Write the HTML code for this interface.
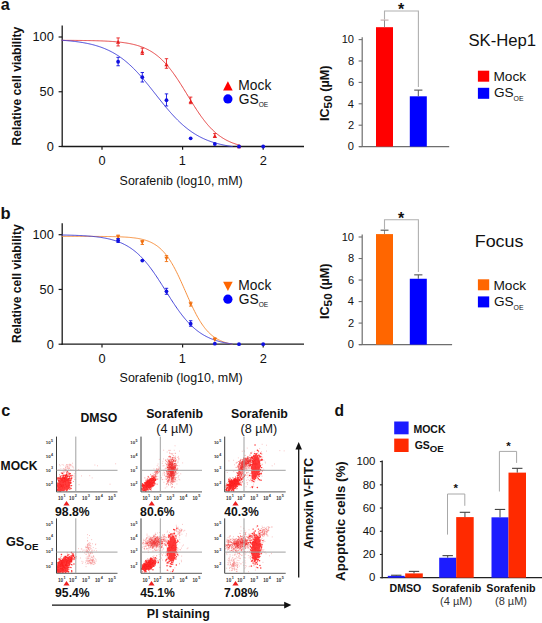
<!DOCTYPE html>
<html><head><meta charset="utf-8"><style>
html,body{margin:0;padding:0;background:#fff;}
svg{display:block;}
text{font-family:"Liberation Sans",sans-serif;}
</style></head><body>
<svg width="542" height="623" viewBox="0 0 542 623">
<defs><filter id="sb" x="-5%" y="-5%" width="110%" height="110%"><feGaussianBlur stdDeviation="0.35"/></filter></defs>
<rect width="542" height="623" fill="#fff"/>
<text x="0.83" y="9.70" font-size="16.20" font-weight="bold" fill="#111">a</text>
<text x="0.51" y="218.50" font-size="16.50" font-weight="bold" fill="#111">b</text>
<text x="1.27" y="416.00" font-size="16.20" font-weight="bold" fill="#111">c</text>
<text x="334.46" y="415.70" font-size="15.60" font-weight="bold" fill="#111">d</text>
<line x1="62.20" y1="25.60" x2="62.20" y2="147.10" stroke="#1a1a1a" stroke-width="1.3"/>
<line x1="61.60" y1="146.50" x2="304.00" y2="146.50" stroke="#1a1a1a" stroke-width="1.3"/>
<line x1="58.60" y1="37.00" x2="62.20" y2="37.00" stroke="#1a1a1a" stroke-width="1.2"/>
<text x="32.44" y="41.40" font-size="12.80" fill="#111">100</text>
<line x1="58.60" y1="91.75" x2="62.20" y2="91.75" stroke="#1a1a1a" stroke-width="1.2"/>
<text x="39.56" y="96.15" font-size="12.80" fill="#111">50</text>
<line x1="58.60" y1="146.50" x2="62.20" y2="146.50" stroke="#1a1a1a" stroke-width="1.2"/>
<text x="46.68" y="150.90" font-size="12.80" fill="#111">0</text>
<line x1="102.00" y1="146.50" x2="102.00" y2="149.70" stroke="#1a1a1a" stroke-width="1.2"/>
<text x="98.44" y="165.00" font-size="12.80" fill="#111">0</text>
<line x1="182.60" y1="146.50" x2="182.60" y2="149.70" stroke="#1a1a1a" stroke-width="1.2"/>
<text x="178.87" y="165.00" font-size="12.80" fill="#111">1</text>
<line x1="263.20" y1="146.50" x2="263.20" y2="149.70" stroke="#1a1a1a" stroke-width="1.2"/>
<text x="259.64" y="165.00" font-size="12.80" fill="#111">2</text>
<text x="119.62" y="184.50" font-size="12.45" fill="#111">Sorafenib (log10, mM)</text>
<text transform="translate(20.90,85.60) rotate(-90)" x="-59.80" y="0" font-size="12.15" font-weight="bold" fill="#111">Relative cell viability</text>
<polyline points="61.70,40.34 62.51,40.35 63.31,40.35 64.12,40.35 64.92,40.36 65.73,40.36 66.54,40.36 67.34,40.37 68.15,40.37 68.95,40.37 69.76,40.38 70.57,40.38 71.37,40.39 72.18,40.39 72.98,40.40 73.79,40.40 74.60,40.41 75.40,40.42 76.21,40.42 77.01,40.43 77.82,40.44 78.63,40.44 79.43,40.45 80.24,40.46 81.04,40.47 81.85,40.48 82.66,40.49 83.46,40.50 84.27,40.51 85.07,40.52 85.88,40.53 86.69,40.54 87.49,40.56 88.30,40.57 89.10,40.58 89.91,40.60 90.72,40.61 91.52,40.63 92.33,40.65 93.13,40.67 93.94,40.68 94.75,40.70 95.55,40.73 96.36,40.75 97.16,40.77 97.97,40.79 98.78,40.82 99.58,40.84 100.39,40.87 101.19,40.90 102.00,40.93 102.81,40.96 103.61,41.00 104.42,41.03 105.22,41.07 106.03,41.11 106.84,41.15 107.64,41.19 108.45,41.23 109.25,41.28 110.06,41.33 110.87,41.38 111.67,41.44 112.48,41.49 113.28,41.55 114.09,41.61 114.90,41.68 115.70,41.75 116.51,41.82 117.31,41.89 118.12,41.97 118.93,42.05 119.73,42.14 120.54,42.23 121.34,42.32 122.15,42.42 122.96,42.53 123.76,42.63 124.57,42.75 125.37,42.87 126.18,42.99 126.99,43.12 127.79,43.26 128.60,43.40 129.40,43.55 130.21,43.71 131.02,43.87 131.82,44.05 132.63,44.23 133.43,44.41 134.24,44.61 135.05,44.81 135.85,45.03 136.66,45.25 137.46,45.49 138.27,45.73 139.08,45.99 139.88,46.26 140.69,46.54 141.49,46.83 142.30,47.13 143.11,47.45 143.91,47.78 144.72,48.12 145.52,48.48 146.33,48.86 147.14,49.25 147.94,49.65 148.75,50.07 149.55,50.51 150.36,50.97 151.17,51.45 151.97,51.94 152.78,52.45 153.58,52.99 154.39,53.54 155.20,54.11 156.00,54.71 156.81,55.33 157.61,55.96 158.42,56.62 159.23,57.31 160.03,58.01 160.84,58.75 161.64,59.50 162.45,60.28 163.26,61.08 164.06,61.91 164.87,62.76 165.67,63.63 166.48,64.53 167.29,65.46 168.09,66.41 168.90,67.38 169.70,68.38 170.51,69.40 171.32,70.45 172.12,71.52 172.93,72.61 173.73,73.72 174.54,74.85 175.35,76.01 176.15,77.18 176.96,78.37 177.76,79.58 178.57,80.81 179.38,82.05 180.18,83.31 180.99,84.58 181.79,85.86 182.60,87.15 183.41,88.45 184.21,89.76 185.02,91.07 185.82,92.39 186.63,93.71 187.44,95.04 188.24,96.36 189.05,97.68 189.85,99.00 190.66,100.31 191.47,101.62 192.27,102.92 193.08,104.21 193.88,105.49 194.69,106.76 195.50,108.02 196.30,109.26 197.11,110.49 197.91,111.70 198.72,112.89 199.53,114.06 200.33,115.22 201.14,116.35 201.94,117.46 202.75,118.55 203.56,119.62 204.36,120.67 205.17,121.69 205.97,122.69 206.78,123.66 207.59,124.61 208.39,125.54 209.20,126.44 210.00,127.31 210.81,128.16 211.62,128.99 212.42,129.79 213.23,130.57 214.03,131.32 214.84,132.06 215.65,132.76 216.45,133.45 217.26,134.11 218.06,134.74 218.87,135.36 219.68,135.96 220.48,136.53 221.29,137.08 222.09,137.62 222.90,138.13 223.71,138.62 224.51,139.10 225.32,139.56 226.12,140.00 226.93,140.42 227.74,140.82 228.54,141.21 229.35,141.59 230.15,141.95 230.96,142.29 231.77,142.62 232.57,142.94 233.38,143.24 234.18,143.53 234.99,143.81 235.80,144.08 236.60,144.34 237.41,144.58 238.21,144.82 239.02,145.04 239.83,145.26 240.63,145.46" fill="none" stroke="#e43a3a" stroke-width="0.95"/>
<polyline points="61.70,40.25 62.51,40.31 63.31,40.36 64.12,40.42 64.92,40.48 65.73,40.55 66.54,40.61 67.34,40.68 68.15,40.75 68.95,40.83 69.76,40.90 70.57,40.98 71.37,41.07 72.18,41.15 72.98,41.24 73.79,41.33 74.60,41.42 75.40,41.52 76.21,41.62 77.01,41.73 77.82,41.84 78.63,41.95 79.43,42.07 80.24,42.19 81.04,42.31 81.85,42.44 82.66,42.57 83.46,42.71 84.27,42.85 85.07,43.00 85.88,43.16 86.69,43.31 87.49,43.48 88.30,43.65 89.10,43.82 89.91,44.00 90.72,44.19 91.52,44.39 92.33,44.59 93.13,44.79 93.94,45.01 94.75,45.23 95.55,45.46 96.36,45.69 97.16,45.94 97.97,46.19 98.78,46.45 99.58,46.72 100.39,46.99 101.19,47.28 102.00,47.57 102.81,47.88 103.61,48.19 104.42,48.51 105.22,48.85 106.03,49.19 106.84,49.54 107.64,49.91 108.45,50.28 109.25,50.67 110.06,51.07 110.87,51.48 111.67,51.90 112.48,52.33 113.28,52.77 114.09,53.23 114.90,53.70 115.70,54.19 116.51,54.68 117.31,55.19 118.12,55.71 118.93,56.25 119.73,56.80 120.54,57.36 121.34,57.94 122.15,58.53 122.96,59.14 123.76,59.76 124.57,60.39 125.37,61.04 126.18,61.71 126.99,62.38 127.79,63.08 128.60,63.78 129.40,64.51 130.21,65.24 131.02,65.99 131.82,66.76 132.63,67.53 133.43,68.33 134.24,69.13 135.05,69.95 135.85,70.79 136.66,71.63 137.46,72.49 138.27,73.36 139.08,74.25 139.88,75.14 140.69,76.05 141.49,76.97 142.30,77.90 143.11,78.83 143.91,79.78 144.72,80.74 145.52,81.71 146.33,82.68 147.14,83.66 147.94,84.65 148.75,85.65 149.55,86.65 150.36,87.65 151.17,88.66 151.97,89.68 152.78,90.69 153.58,91.71 154.39,92.73 155.20,93.76 156.00,94.78 156.81,95.80 157.61,96.82 158.42,97.84 159.23,98.86 160.03,99.87 160.84,100.88 161.64,101.89 162.45,102.89 163.26,103.89 164.06,104.87 164.87,105.86 165.67,106.83 166.48,107.80 167.29,108.75 168.09,109.70 168.90,110.64 169.70,111.57 170.51,112.49 171.32,113.39 172.12,114.29 172.93,115.17 173.73,116.05 174.54,116.90 175.35,117.75 176.15,118.58 176.96,119.40 177.76,120.21 178.57,121.00 179.38,121.78 180.18,122.54 180.99,123.30 181.79,124.03 182.60,124.75 183.41,125.46 184.21,126.15 185.02,126.83 185.82,127.49 186.63,128.14 187.44,128.78 188.24,129.40 189.05,130.00 189.85,130.60 190.66,131.17 191.47,131.74 192.27,132.29 193.08,132.82 193.88,133.35 194.69,133.86 195.50,134.35 196.30,134.83 197.11,135.31 197.91,135.76 198.72,136.21 199.53,136.64 200.33,137.06 201.14,137.47 201.94,137.87 202.75,138.25 203.56,138.63 204.36,138.99 205.17,139.35 205.97,139.69 206.78,140.02 207.59,140.35 208.39,140.66 209.20,140.96 210.00,141.26 210.81,141.54 211.62,141.82 212.42,142.09 213.23,142.35 214.03,142.60 214.84,142.84 215.65,143.08 216.45,143.31 217.26,143.53 218.06,143.74 218.87,143.95 219.68,144.15 220.48,144.34 221.29,144.53 222.09,144.71 222.90,144.89 223.71,145.06 224.51,145.22 225.32,145.38 226.12,145.53 226.93,145.68 227.74,145.83 228.54,145.96 229.35,146.10 230.15,146.23 230.96,146.35 231.77,146.47 232.57,146.50" fill="none" stroke="#3a3ad6" stroke-width="0.95"/>
<line x1="118.12" y1="37.93" x2="118.12" y2="45.93" stroke="#e82020" stroke-width="0.9"/>
<line x1="116.42" y1="37.93" x2="119.82" y2="37.93" stroke="#e82020" stroke-width="0.9"/>
<line x1="116.42" y1="45.93" x2="119.82" y2="45.93" stroke="#e82020" stroke-width="0.9"/>
<path d="M116.02,43.63L120.22,43.63L118.12,39.83Z" fill="#e82020"/>
<line x1="142.30" y1="48.09" x2="142.30" y2="54.49" stroke="#e82020" stroke-width="0.9"/>
<line x1="140.60" y1="48.09" x2="144.00" y2="48.09" stroke="#e82020" stroke-width="0.9"/>
<line x1="140.60" y1="54.49" x2="144.00" y2="54.49" stroke="#e82020" stroke-width="0.9"/>
<path d="M140.20,53.59L144.40,53.59L142.30,49.79Z" fill="#e82020"/>
<line x1="166.48" y1="58.69" x2="166.48" y2="68.29" stroke="#e82020" stroke-width="0.9"/>
<line x1="164.78" y1="58.69" x2="168.18" y2="58.69" stroke="#e82020" stroke-width="0.9"/>
<line x1="164.78" y1="68.29" x2="168.18" y2="68.29" stroke="#e82020" stroke-width="0.9"/>
<path d="M164.38,66.29L168.58,66.29L166.48,62.49Z" fill="#e82020"/>
<line x1="190.66" y1="97.10" x2="190.66" y2="103.70" stroke="#e82020" stroke-width="0.9"/>
<line x1="188.96" y1="97.10" x2="192.36" y2="97.10" stroke="#e82020" stroke-width="0.9"/>
<line x1="188.96" y1="103.70" x2="192.36" y2="103.70" stroke="#e82020" stroke-width="0.9"/>
<path d="M188.56,103.20L192.76,103.20L190.66,99.40Z" fill="#e82020"/>
<line x1="214.84" y1="133.59" x2="214.84" y2="137.49" stroke="#e82020" stroke-width="0.9"/>
<line x1="213.14" y1="133.59" x2="216.54" y2="133.59" stroke="#e82020" stroke-width="0.9"/>
<line x1="213.14" y1="137.49" x2="216.54" y2="137.49" stroke="#e82020" stroke-width="0.9"/>
<path d="M212.74,137.69L216.94,137.69L214.84,133.89Z" fill="#e82020"/>
<path d="M236.92,148.20L241.12,148.20L239.02,144.40Z" fill="#e82020"/>
<line x1="118.12" y1="57.35" x2="118.12" y2="65.75" stroke="#1010e0" stroke-width="0.9"/>
<line x1="116.42" y1="57.35" x2="119.82" y2="57.35" stroke="#1010e0" stroke-width="0.9"/>
<line x1="116.42" y1="65.75" x2="119.82" y2="65.75" stroke="#1010e0" stroke-width="0.9"/>
<circle cx="118.12" cy="61.75" r="1.9" fill="#1010e0"/>
<line x1="142.30" y1="72.49" x2="142.30" y2="81.99" stroke="#1010e0" stroke-width="0.9"/>
<line x1="140.60" y1="72.49" x2="144.00" y2="72.49" stroke="#1010e0" stroke-width="0.9"/>
<line x1="140.60" y1="81.99" x2="144.00" y2="81.99" stroke="#1010e0" stroke-width="0.9"/>
<circle cx="142.30" cy="77.19" r="1.9" fill="#1010e0"/>
<line x1="166.48" y1="93.88" x2="166.48" y2="105.98" stroke="#1010e0" stroke-width="0.9"/>
<line x1="164.78" y1="93.88" x2="168.18" y2="93.88" stroke="#1010e0" stroke-width="0.9"/>
<line x1="164.78" y1="105.98" x2="168.18" y2="105.98" stroke="#1010e0" stroke-width="0.9"/>
<circle cx="166.48" cy="100.18" r="1.9" fill="#1010e0"/>
<circle cx="190.66" cy="138.29" r="1.9" fill="#1010e0"/>
<circle cx="214.84" cy="143.98" r="1.9" fill="#1010e0"/>
<circle cx="239.02" cy="146.50" r="1.9" fill="#1010e0"/>
<circle cx="263.20" cy="146.50" r="1.9" fill="#1010e0"/>
<path d="M223.1,90.4L232.7,90.4L227.9,81.2Z" fill="#ff0000"/>
<circle cx="227.9" cy="98.9" r="4.6" fill="#0000ff"/>
<text x="238.37" y="89.70" font-size="13.80" fill="#111">Mock</text>
<text x="238.71" y="103.90" font-size="13.80" fill="#111">GS</text>
<text x="258.69" y="107.00" font-size="6.60" fill="#111">OE</text>
<line x1="62.20" y1="223.30" x2="62.20" y2="344.80" stroke="#1a1a1a" stroke-width="1.3"/>
<line x1="61.60" y1="344.20" x2="304.00" y2="344.20" stroke="#1a1a1a" stroke-width="1.3"/>
<line x1="58.60" y1="234.70" x2="62.20" y2="234.70" stroke="#1a1a1a" stroke-width="1.2"/>
<text x="32.44" y="239.10" font-size="12.80" fill="#111">100</text>
<line x1="58.60" y1="289.45" x2="62.20" y2="289.45" stroke="#1a1a1a" stroke-width="1.2"/>
<text x="39.56" y="293.85" font-size="12.80" fill="#111">50</text>
<line x1="58.60" y1="344.20" x2="62.20" y2="344.20" stroke="#1a1a1a" stroke-width="1.2"/>
<text x="46.68" y="348.60" font-size="12.80" fill="#111">0</text>
<line x1="102.00" y1="344.20" x2="102.00" y2="347.40" stroke="#1a1a1a" stroke-width="1.2"/>
<text x="98.44" y="362.70" font-size="12.80" fill="#111">0</text>
<line x1="182.60" y1="344.20" x2="182.60" y2="347.40" stroke="#1a1a1a" stroke-width="1.2"/>
<text x="178.87" y="362.70" font-size="12.80" fill="#111">1</text>
<line x1="263.20" y1="344.20" x2="263.20" y2="347.40" stroke="#1a1a1a" stroke-width="1.2"/>
<text x="259.64" y="362.70" font-size="12.80" fill="#111">2</text>
<text x="119.62" y="382.20" font-size="12.45" fill="#111">Sorafenib (log10, mM)</text>
<text transform="translate(20.90,283.30) rotate(-90)" x="-59.80" y="0" font-size="12.15" font-weight="bold" fill="#111">Relative cell viability</text>
<polyline points="61.70,236.35 62.51,236.35 63.31,236.35 64.12,236.35 64.92,236.35 65.73,236.35 66.54,236.35 67.34,236.35 68.15,236.35 68.95,236.35 69.76,236.35 70.57,236.35 71.37,236.35 72.18,236.35 72.98,236.35 73.79,236.35 74.60,236.35 75.40,236.35 76.21,236.36 77.01,236.36 77.82,236.36 78.63,236.36 79.43,236.36 80.24,236.36 81.04,236.36 81.85,236.36 82.66,236.36 83.46,236.37 84.27,236.37 85.07,236.37 85.88,236.37 86.69,236.37 87.49,236.38 88.30,236.38 89.10,236.38 89.91,236.38 90.72,236.39 91.52,236.39 92.33,236.39 93.13,236.40 93.94,236.40 94.75,236.40 95.55,236.41 96.36,236.41 97.16,236.42 97.97,236.42 98.78,236.43 99.58,236.43 100.39,236.44 101.19,236.44 102.00,236.45 102.81,236.46 103.61,236.47 104.42,236.48 105.22,236.49 106.03,236.50 106.84,236.51 107.64,236.52 108.45,236.53 109.25,236.54 110.06,236.56 110.87,236.57 111.67,236.59 112.48,236.60 113.28,236.62 114.09,236.64 114.90,236.66 115.70,236.68 116.51,236.71 117.31,236.73 118.12,236.76 118.93,236.79 119.73,236.82 120.54,236.85 121.34,236.88 122.15,236.92 122.96,236.96 123.76,237.00 124.57,237.05 125.37,237.10 126.18,237.15 126.99,237.20 127.79,237.26 128.60,237.33 129.40,237.39 130.21,237.47 131.02,237.54 131.82,237.62 132.63,237.71 133.43,237.81 134.24,237.91 135.05,238.01 135.85,238.12 136.66,238.25 137.46,238.37 138.27,238.51 139.08,238.66 139.88,238.82 140.69,238.98 141.49,239.16 142.30,239.35 143.11,239.55 143.91,239.77 144.72,239.99 145.52,240.24 146.33,240.50 147.14,240.77 147.94,241.06 148.75,241.37 149.55,241.71 150.36,242.06 151.17,242.43 151.97,242.82 152.78,243.24 153.58,243.69 154.39,244.16 155.20,244.66 156.00,245.19 156.81,245.75 157.61,246.34 158.42,246.96 159.23,247.62 160.03,248.31 160.84,249.04 161.64,249.81 162.45,250.62 163.26,251.47 164.06,252.37 164.87,253.30 165.67,254.28 166.48,255.31 167.29,256.38 168.09,257.50 168.90,258.66 169.70,259.87 170.51,261.13 171.32,262.44 172.12,263.79 172.93,265.19 173.73,266.63 174.54,268.12 175.35,269.65 176.15,271.22 176.96,272.83 177.76,274.48 178.57,276.16 179.38,277.87 180.18,279.61 180.99,281.37 181.79,283.16 182.60,284.97 183.41,286.78 184.21,288.61 185.02,290.45 185.82,292.28 186.63,294.12 187.44,295.95 188.24,297.77 189.05,299.57 189.85,301.36 190.66,303.12 191.47,304.86 192.27,306.58 193.08,308.26 193.88,309.90 194.69,311.51 195.50,313.08 196.30,314.61 197.11,316.10 197.91,317.55 198.72,318.94 199.53,320.30 200.33,321.60 201.14,322.86 201.94,324.07 202.75,325.24 203.56,326.35 204.36,327.43 205.17,328.45 205.97,329.43 206.78,330.37 207.59,331.26 208.39,332.11 209.20,332.92 210.00,333.69 210.81,334.42 211.62,335.11 212.42,335.77 213.23,336.40 214.03,336.99 214.84,337.55 215.65,338.07 216.45,338.57 217.26,339.04 218.06,339.49 218.87,339.91 219.68,340.30 220.48,340.68 221.29,341.03 222.09,341.36 222.90,341.67 223.71,341.96 224.51,342.24 225.32,342.50 226.12,342.74 226.93,342.97 227.74,343.18 228.54,343.38 229.35,343.57 230.15,343.75 230.96,343.92 231.77,344.07 232.57,344.20" fill="none" stroke="#f58a35" stroke-width="0.95"/>
<polyline points="61.70,235.00 62.51,235.01 63.31,235.02 64.12,235.04 64.92,235.06 65.73,235.07 66.54,235.09 67.34,235.11 68.15,235.13 68.95,235.15 69.76,235.17 70.57,235.19 71.37,235.21 72.18,235.24 72.98,235.26 73.79,235.29 74.60,235.32 75.40,235.34 76.21,235.38 77.01,235.41 77.82,235.44 78.63,235.47 79.43,235.51 80.24,235.55 81.04,235.59 81.85,235.63 82.66,235.67 83.46,235.72 84.27,235.77 85.07,235.82 85.88,235.87 86.69,235.92 87.49,235.98 88.30,236.04 89.10,236.10 89.91,236.17 90.72,236.23 91.52,236.31 92.33,236.38 93.13,236.46 93.94,236.54 94.75,236.63 95.55,236.71 96.36,236.81 97.16,236.90 97.97,237.01 98.78,237.11 99.58,237.22 100.39,237.34 101.19,237.46 102.00,237.59 102.81,237.72 103.61,237.86 104.42,238.00 105.22,238.15 106.03,238.31 106.84,238.48 107.64,238.65 108.45,238.83 109.25,239.01 110.06,239.21 110.87,239.41 111.67,239.63 112.48,239.85 113.28,240.08 114.09,240.32 114.90,240.57 115.70,240.83 116.51,241.10 117.31,241.39 118.12,241.68 118.93,241.99 119.73,242.31 120.54,242.64 121.34,242.99 122.15,243.35 122.96,243.72 123.76,244.11 124.57,244.52 125.37,244.94 126.18,245.38 126.99,245.83 127.79,246.30 128.60,246.79 129.40,247.29 130.21,247.81 131.02,248.36 131.82,248.92 132.63,249.50 133.43,250.10 134.24,250.72 135.05,251.37 135.85,252.03 136.66,252.71 137.46,253.42 138.27,254.15 139.08,254.90 139.88,255.67 140.69,256.47 141.49,257.29 142.30,258.13 143.11,258.99 143.91,259.88 144.72,260.79 145.52,261.72 146.33,262.68 147.14,263.65 147.94,264.65 148.75,265.67 149.55,266.71 150.36,267.78 151.17,268.86 151.97,269.96 152.78,271.08 153.58,272.22 154.39,273.37 155.20,274.55 156.00,275.73 156.81,276.94 157.61,278.15 158.42,279.38 159.23,280.62 160.03,281.87 160.84,283.13 161.64,284.40 162.45,285.67 163.26,286.95 164.06,288.23 164.87,289.52 165.67,290.80 166.48,292.09 167.29,293.37 168.09,294.65 168.90,295.93 169.70,297.20 170.51,298.46 171.32,299.72 172.12,300.97 172.93,302.20 173.73,303.43 174.54,304.64 175.35,305.83 176.15,307.01 176.96,308.18 177.76,309.33 178.57,310.46 179.38,311.57 180.18,312.67 180.99,313.74 181.79,314.80 182.60,315.83 183.41,316.84 184.21,317.83 185.02,318.80 185.82,319.74 186.63,320.67 187.44,321.57 188.24,322.44 189.05,323.30 189.85,324.13 190.66,324.94 191.47,325.73 192.27,326.49 193.08,327.23 193.88,327.95 194.69,328.65 195.50,329.33 196.30,329.98 197.11,330.62 197.91,331.23 198.72,331.82 199.53,332.40 200.33,332.95 201.14,333.49 201.94,334.00 202.75,334.50 203.56,334.98 204.36,335.44 205.17,335.89 205.97,336.32 206.78,336.74 207.59,337.13 208.39,337.52 209.20,337.89 210.00,338.24 210.81,338.58 211.62,338.91 212.42,339.22 213.23,339.53 214.03,339.82 214.84,340.10 215.65,340.37 216.45,340.62 217.26,340.87 218.06,341.11 218.87,341.33 219.68,341.55 220.48,341.76 221.29,341.96 222.09,342.15 222.90,342.34 223.71,342.51 224.51,342.68 225.32,342.84 226.12,343.00 226.93,343.15 227.74,343.29 228.54,343.42 229.35,343.55 230.15,343.68 230.96,343.80 231.77,343.91 232.57,344.02" fill="none" stroke="#3a3ad6" stroke-width="0.95"/>
<line x1="118.12" y1="235.09" x2="118.12" y2="238.69" stroke="#f07010" stroke-width="0.9"/>
<line x1="116.42" y1="235.09" x2="119.82" y2="235.09" stroke="#f07010" stroke-width="0.9"/>
<line x1="116.42" y1="238.69" x2="119.82" y2="238.69" stroke="#f07010" stroke-width="0.9"/>
<path d="M116.02,235.19L120.22,235.19L118.12,238.99Z" fill="#f07010"/>
<line x1="142.30" y1="240.47" x2="142.30" y2="244.47" stroke="#f07010" stroke-width="0.9"/>
<line x1="140.60" y1="240.47" x2="144.00" y2="240.47" stroke="#f07010" stroke-width="0.9"/>
<line x1="140.60" y1="244.47" x2="144.00" y2="244.47" stroke="#f07010" stroke-width="0.9"/>
<path d="M140.20,240.77L144.40,240.77L142.30,244.57Z" fill="#f07010"/>
<line x1="166.48" y1="255.57" x2="166.48" y2="261.57" stroke="#f07010" stroke-width="0.9"/>
<line x1="164.78" y1="255.57" x2="168.18" y2="255.57" stroke="#f07010" stroke-width="0.9"/>
<line x1="164.78" y1="261.57" x2="168.18" y2="261.57" stroke="#f07010" stroke-width="0.9"/>
<path d="M164.38,256.87L168.58,256.87L166.48,260.67Z" fill="#f07010"/>
<line x1="190.66" y1="302.12" x2="190.66" y2="306.12" stroke="#f07010" stroke-width="0.9"/>
<line x1="188.96" y1="302.12" x2="192.36" y2="302.12" stroke="#f07010" stroke-width="0.9"/>
<line x1="188.96" y1="306.12" x2="192.36" y2="306.12" stroke="#f07010" stroke-width="0.9"/>
<path d="M188.56,302.42L192.76,302.42L190.66,306.22Z" fill="#f07010"/>
<line x1="214.84" y1="337.82" x2="214.84" y2="339.82" stroke="#f07010" stroke-width="0.9"/>
<line x1="213.14" y1="337.82" x2="216.54" y2="337.82" stroke="#f07010" stroke-width="0.9"/>
<path d="M212.74,338.12L216.94,338.12L214.84,341.92Z" fill="#f07010"/>
<line x1="118.12" y1="238.50" x2="118.12" y2="242.50" stroke="#1010e0" stroke-width="0.9"/>
<line x1="116.42" y1="238.50" x2="119.82" y2="238.50" stroke="#1010e0" stroke-width="0.9"/>
<line x1="116.42" y1="242.50" x2="119.82" y2="242.50" stroke="#1010e0" stroke-width="0.9"/>
<circle cx="118.12" cy="240.50" r="1.9" fill="#1010e0"/>
<circle cx="142.30" cy="260.54" r="1.9" fill="#1010e0"/>
<line x1="166.48" y1="288.31" x2="166.48" y2="294.31" stroke="#1010e0" stroke-width="0.9"/>
<line x1="164.78" y1="288.31" x2="168.18" y2="288.31" stroke="#1010e0" stroke-width="0.9"/>
<line x1="164.78" y1="294.31" x2="168.18" y2="294.31" stroke="#1010e0" stroke-width="0.9"/>
<circle cx="166.48" cy="291.31" r="1.9" fill="#1010e0"/>
<line x1="190.66" y1="320.72" x2="190.66" y2="326.22" stroke="#1010e0" stroke-width="0.9"/>
<line x1="188.96" y1="320.72" x2="192.36" y2="320.72" stroke="#1010e0" stroke-width="0.9"/>
<line x1="188.96" y1="326.22" x2="192.36" y2="326.22" stroke="#1010e0" stroke-width="0.9"/>
<circle cx="190.66" cy="323.72" r="1.9" fill="#1010e0"/>
<circle cx="214.84" cy="343.65" r="1.9" fill="#1010e0"/>
<circle cx="239.02" cy="344.20" r="1.9" fill="#1010e0"/>
<circle cx="263.20" cy="344.20" r="1.9" fill="#1010e0"/>
<path d="M223.1,281.70000000000005L232.7,281.70000000000005L227.9,291.1Z" fill="#ff6600"/>
<circle cx="227.9" cy="299.20000000000005" r="4.6" fill="#0000ff"/>
<text x="238.37" y="290.00" font-size="13.80" fill="#111">Mock</text>
<text x="238.71" y="304.20" font-size="13.80" fill="#111">GS</text>
<text x="258.69" y="307.30" font-size="6.60" fill="#111">OE</text>
<line x1="362.20" y1="37.20" x2="362.20" y2="147.10" stroke="#6e6e6e" stroke-width="1.2"/>
<line x1="359.00" y1="146.60" x2="449.20" y2="146.60" stroke="#6e6e6e" stroke-width="1.3"/>
<line x1="358.60" y1="146.60" x2="362.10" y2="146.60" stroke="#6e6e6e" stroke-width="1.1"/>
<text x="347.86" y="150.40" font-size="11.10" fill="#111">0</text>
<line x1="358.60" y1="125.20" x2="362.10" y2="125.20" stroke="#6e6e6e" stroke-width="1.1"/>
<text x="347.98" y="129.00" font-size="11.10" fill="#111">2</text>
<line x1="358.60" y1="103.80" x2="362.10" y2="103.80" stroke="#6e6e6e" stroke-width="1.1"/>
<text x="347.75" y="107.60" font-size="11.10" fill="#111">4</text>
<line x1="358.60" y1="82.40" x2="362.10" y2="82.40" stroke="#6e6e6e" stroke-width="1.1"/>
<text x="347.91" y="86.20" font-size="11.10" fill="#111">6</text>
<line x1="358.60" y1="61.00" x2="362.10" y2="61.00" stroke="#6e6e6e" stroke-width="1.1"/>
<text x="347.91" y="64.80" font-size="11.10" fill="#111">8</text>
<line x1="358.60" y1="39.60" x2="362.10" y2="39.60" stroke="#6e6e6e" stroke-width="1.1"/>
<text x="341.69" y="43.40" font-size="11.10" fill="#111">10</text>
<rect x="376.00" y="27.19" width="17.00" height="119.41" fill="#ff0000"/>
<rect x="409.80" y="96.31" width="17.00" height="50.29" fill="#0000ff"/>
<line x1="384.50" y1="27.19" x2="384.50" y2="20.09" stroke="#8a8a8a" stroke-width="1"/>
<line x1="380.60" y1="20.09" x2="388.50" y2="20.09" stroke="#c0a8a8" stroke-width="1.1"/>
<line x1="418.30" y1="96.31" x2="418.30" y2="90.11" stroke="#555" stroke-width="1"/>
<line x1="414.20" y1="90.11" x2="422.40" y2="90.11" stroke="#555" stroke-width="1.1"/>
<path d="M384.5,19.59V11.00H418.4V87.00" fill="none" stroke="#b0b0b0" stroke-width="1.1"/>
<text x="397.97" y="14.90" font-size="16.00" font-weight="bold" fill="#111">*</text>
<text transform="translate(329.0,94.10) rotate(-90)" x="-27.0" font-size="12.7" font-weight="bold" fill="#111">IC<tspan dy="3" font-size="11.8">50</tspan><tspan dy="-3"> (µM)</tspan></text>
<text x="468.44" y="45.70" font-size="16.70" fill="#111">SK-Hep1</text>
<rect x="477.90" y="70.70" width="11.30" height="11.00" fill="#ff0000"/>
<rect x="477.90" y="87.80" width="11.30" height="11.00" fill="#0000ff"/>
<text x="493.48" y="81.30" font-size="13.70" fill="#111">Mock</text>
<text x="493.92" y="97.10" font-size="13.60" fill="#111">GS</text>
<text x="513.57" y="100.90" font-size="6.90" fill="#111">OE</text>
<line x1="362.20" y1="234.60" x2="362.20" y2="345.10" stroke="#6e6e6e" stroke-width="1.2"/>
<line x1="359.00" y1="344.60" x2="452.10" y2="344.60" stroke="#6e6e6e" stroke-width="1.3"/>
<line x1="358.60" y1="344.60" x2="362.10" y2="344.60" stroke="#6e6e6e" stroke-width="1.1"/>
<text x="347.86" y="348.40" font-size="11.10" fill="#111">0</text>
<line x1="358.60" y1="323.08" x2="362.10" y2="323.08" stroke="#6e6e6e" stroke-width="1.1"/>
<text x="347.98" y="326.88" font-size="11.10" fill="#111">2</text>
<line x1="358.60" y1="301.56" x2="362.10" y2="301.56" stroke="#6e6e6e" stroke-width="1.1"/>
<text x="347.75" y="305.36" font-size="11.10" fill="#111">4</text>
<line x1="358.60" y1="280.04" x2="362.10" y2="280.04" stroke="#6e6e6e" stroke-width="1.1"/>
<text x="347.91" y="283.84" font-size="11.10" fill="#111">6</text>
<line x1="358.60" y1="258.52" x2="362.10" y2="258.52" stroke="#6e6e6e" stroke-width="1.1"/>
<text x="347.91" y="262.32" font-size="11.10" fill="#111">8</text>
<line x1="358.60" y1="237.00" x2="362.10" y2="237.00" stroke="#6e6e6e" stroke-width="1.1"/>
<text x="341.69" y="240.80" font-size="11.10" fill="#111">10</text>
<rect x="376.00" y="234.09" width="17.00" height="110.51" fill="#ff6600"/>
<rect x="409.80" y="278.75" width="17.00" height="65.85" fill="#0000ff"/>
<line x1="384.50" y1="234.09" x2="384.50" y2="230.19" stroke="#8a8a8a" stroke-width="1"/>
<line x1="380.60" y1="230.19" x2="388.50" y2="230.19" stroke="#555" stroke-width="1.1"/>
<line x1="418.30" y1="278.75" x2="418.30" y2="274.85" stroke="#555" stroke-width="1"/>
<line x1="414.20" y1="274.85" x2="422.40" y2="274.85" stroke="#555" stroke-width="1.1"/>
<path d="M384.5,229.69V219.80H418.4V272.00" fill="none" stroke="#b0b0b0" stroke-width="1.1"/>
<text x="397.97" y="223.70" font-size="16.00" font-weight="bold" fill="#111">*</text>
<text transform="translate(329.0,292.10) rotate(-90)" x="-27.0" font-size="12.7" font-weight="bold" fill="#111">IC<tspan dy="3" font-size="11.8">50</tspan><tspan dy="-3"> (µM)</tspan></text>
<text x="474.69" y="246.50" font-size="17.20" fill="#111" textLength="48.8" lengthAdjust="spacingAndGlyphs">Focus</text>
<rect x="477.90" y="279.30" width="11.30" height="11.00" fill="#ff6600"/>
<rect x="477.90" y="296.40" width="11.30" height="11.00" fill="#0000ff"/>
<text x="493.48" y="289.90" font-size="13.70" fill="#111">Mock</text>
<text x="493.92" y="305.70" font-size="13.60" fill="#111">GS</text>
<text x="513.57" y="309.50" font-size="6.90" fill="#111">OE</text>
<path d="M67.3 468.5h.1M72.9 469.9h.1M70.8 464.6h.1M66.5 472.4h.1M67.3 473.4h.1M67.6 472.1h.1M58.9 469.5h.1M67.7 471.0h.1M63.2 469.9h.1M73.9 476.8h.1M66.3 475.5h.1M60.1 465.8h.1M64.6 469.0h.1M64.3 472.2h.1M78.6 469.6h.1M66.7 472.4h.1M66.4 474.4h.1M73.6 467.9h.1M67.1 470.8h.1M67.9 467.0h.1M59.5 464.7h.1M68.6 472.2h.1M66.8 464.5h.1M65.0 469.3h.1M60.8 468.9h.1M69.3 473.2h.1M66.4 473.1h.1M64.1 471.8h.1M66.7 473.3h.1M66.2 471.2h.1M66.0 469.7h.1M75.4 473.1h.1M68.2 478.5h.1M72.1 466.9h.1M69.3 474.1h.1M74.0 475.5h.1M69.6 468.1h.1M63.0 472.4h.1M68.5 468.5h.1M65.0 470.4h.1M66.7 472.6h.1M65.4 467.9h.1M71.5 476.4h.1M66.1 474.7h.1M68.3 473.6h.1M68.4 469.3h.1M68.8 474.6h.1M62.9 477.5h.1M74.9 477.1h.1M74.5 473.8h.1M65.1 469.8h.1M63.2 471.9h.1M66.4 473.6h.1M58.4 478.5h.1M75.6 471.5h.1M69.2 473.0h.1M67.6 471.0h.1M66.0 469.1h.1M67.2 471.5h.1M68.9 464.9h.1M67.7 466.7h.1M70.2 464.5h.1M69.4 468.6h.1M70.2 465.9h.1M65.3 466.1h.1M70.8 469.7h.1M66.8 465.3h.1M69.2 467.0h.1M63.4 465.1h.1M67.0 467.9h.1M62.1 464.6h.1M69.7 464.2h.1M68.0 467.3h.1M67.0 464.6h.1M67.2 465.9h.1M69.0 464.9h.1M72.4 463.2h.1M66.7 466.6h.1M71.8 465.4h.1M70.0 465.5h.1M70.8 470.1h.1M65.7 467.5h.1M63.3 468.5h.1M72.9 466.7h.1M94.8 465.0h.1M81.5 475.9h.1M110.0 484.2h.1M89.7 475.7h.1M92.1 477.9h.1M79.0 484.6h.1M115.6 463.8h.1M97.5 465.8h.1" stroke="#f05a5a" stroke-opacity="0.45" stroke-width="0.85" stroke-linecap="round" fill="none" filter="url(#sb)"/>
<path d="M65.8 479.7h.1M61.3 477.2h.1M69.2 479.8h.1M61.2 472.8h.1M60.5 481.8h.1M65.2 479.6h.1M63.5 475.1h.1M60.8 489.3h.1M61.9 485.3h.1M58.6 481.7h.1M65.4 484.7h.1M60.6 484.7h.1M65.9 476.9h.1M66.2 476.1h.1M61.7 481.6h.1M61.0 475.7h.1M63.0 484.4h.1M63.1 486.6h.1M60.4 476.5h.1M69.9 480.2h.1M67.8 475.8h.1M67.3 480.6h.1M66.8 479.8h.1M68.7 476.2h.1M61.1 475.6h.1M68.6 475.9h.1M60.8 478.0h.1M62.9 475.7h.1M63.5 478.3h.1M62.6 477.2h.1M64.6 478.6h.1M64.9 481.5h.1M65.7 470.7h.1M62.6 477.9h.1M67.2 472.8h.1M62.0 480.3h.1M63.3 485.3h.1M63.0 485.3h.1M59.4 474.8h.1M68.8 480.8h.1M66.2 480.5h.1M66.2 474.7h.1M67.8 477.0h.1M67.9 479.6h.1M57.6 477.7h.1M68.4 478.5h.1M63.1 482.2h.1M63.0 478.8h.1M64.9 481.1h.1M69.8 478.7h.1M71.1 485.8h.1M70.5 482.8h.1M65.0 481.0h.1M64.0 477.7h.1M64.3 477.9h.1M70.2 480.7h.1M62.9 473.0h.1M64.3 478.9h.1M60.7 477.2h.1M64.4 480.0h.1M69.6 479.2h.1M65.1 478.8h.1M62.4 487.9h.1M68.0 486.6h.1M63.3 481.2h.1M61.4 485.9h.1M59.6 484.9h.1M68.3 485.2h.1M61.2 486.5h.1M62.0 478.3h.1M59.9 487.3h.1M70.3 475.8h.1M61.8 480.2h.1M73.3 481.5h.1M62.6 473.6h.1M62.1 486.6h.1M71.0 476.9h.1M62.1 479.3h.1M57.9 487.0h.1M60.7 486.6h.1M58.5 477.5h.1M65.5 476.9h.1M67.2 479.6h.1M60.4 484.9h.1M67.4 471.3h.1M70.9 480.3h.1M67.2 471.6h.1M62.0 480.1h.1M68.3 472.9h.1M61.4 473.1h.1M63.7 482.4h.1M58.6 480.3h.1M66.3 486.7h.1M66.8 478.4h.1M60.4 478.2h.1M62.2 482.1h.1M64.3 487.8h.1M65.5 475.6h.1M69.9 482.6h.1M64.9 477.4h.1M58.0 478.7h.1M67.7 475.9h.1M59.9 483.2h.1M65.4 482.9h.1M66.8 485.8h.1M61.6 485.9h.1M61.0 484.9h.1M65.1 481.4h.1M67.9 479.2h.1M68.4 482.9h.1M65.0 478.0h.1M61.9 479.4h.1M63.8 480.8h.1M74.9 479.3h.1M67.2 475.9h.1M62.0 480.2h.1" stroke="#f03030" stroke-opacity="0.6" stroke-width="1.0" stroke-linecap="round" fill="none" filter="url(#sb)"/>
<path d="M62.7 486.6h.1M62.8 483.8h.1M60.7 484.9h.1M66.8 484.8h.1M66.6 484.3h.1M64.7 484.8h.1M58.5 489.2h.1M65.0 485.7h.1M58.4 480.6h.1M60.8 484.0h.1M64.4 484.1h.1M65.1 481.9h.1M64.4 485.6h.1M65.2 488.0h.1M61.6 482.8h.1M62.5 484.6h.1M65.4 484.8h.1M62.2 481.9h.1M61.9 489.2h.1M61.1 486.3h.1M64.8 479.2h.1M63.6 488.9h.1M57.5 485.6h.1M63.2 482.0h.1M65.0 483.9h.1M59.1 488.9h.1M65.5 487.1h.1M67.8 484.3h.1M63.9 480.1h.1M65.3 481.9h.1M62.1 480.9h.1M60.6 483.8h.1M67.4 476.5h.1M59.1 486.9h.1M67.8 485.0h.1M57.8 478.2h.1M64.6 481.8h.1M60.1 489.0h.1M66.8 484.0h.1M64.2 485.8h.1M68.3 485.0h.1M65.1 485.9h.1M58.8 490.5h.1M66.4 485.4h.1M57.6 484.6h.1M66.0 477.7h.1M62.9 488.2h.1M65.2 483.5h.1M64.5 486.4h.1M63.9 488.3h.1M61.5 483.9h.1M66.6 483.6h.1M60.9 488.7h.1M67.9 481.6h.1M59.4 485.6h.1M63.1 483.8h.1M67.7 479.7h.1M67.3 479.0h.1M61.1 487.5h.1M66.9 486.3h.1M64.5 484.7h.1M64.0 486.4h.1M63.0 485.7h.1M65.2 484.0h.1M65.8 485.7h.1M69.5 483.6h.1M62.2 483.8h.1M63.5 487.7h.1M62.5 486.2h.1M69.0 474.1h.1M60.1 486.6h.1M64.7 485.0h.1M62.2 487.2h.1M64.3 482.6h.1M70.8 483.2h.1M61.8 484.8h.1M62.8 484.6h.1M66.5 479.6h.1M63.3 487.9h.1M66.1 488.7h.1M58.4 485.2h.1M62.5 487.0h.1M66.8 474.5h.1M66.8 478.6h.1M65.5 478.9h.1M64.0 488.4h.1M63.1 485.4h.1M65.9 484.2h.1M63.2 489.8h.1M66.6 482.5h.1M71.7 477.9h.1M66.2 482.8h.1M63.9 486.8h.1M64.2 486.5h.1M58.9 481.2h.1M65.3 480.7h.1M60.4 480.8h.1M67.3 485.8h.1M67.9 479.9h.1M63.5 480.8h.1M65.8 489.1h.1M60.8 490.7h.1M66.5 483.0h.1M63.2 482.7h.1M64.7 485.5h.1M68.0 479.6h.1M66.9 488.4h.1M67.9 482.5h.1M61.3 488.8h.1M63.8 484.9h.1M67.8 482.2h.1M57.9 489.3h.1M64.5 482.2h.1M63.5 487.4h.1M63.7 488.9h.1M63.3 488.1h.1M68.0 488.4h.1M61.5 488.2h.1M57.9 483.0h.1M57.6 490.2h.1M59.8 485.9h.1M62.9 484.7h.1M61.7 486.0h.1M68.9 482.9h.1M65.1 487.4h.1M62.9 480.6h.1M61.8 488.8h.1M58.6 484.3h.1M66.5 486.2h.1M63.5 487.3h.1M64.0 480.5h.1M58.8 484.1h.1M66.3 481.7h.1M60.8 483.0h.1M58.9 485.8h.1M60.0 487.1h.1M61.6 478.8h.1M65.7 482.9h.1M64.4 482.8h.1M65.8 486.3h.1M65.5 485.0h.1M67.5 485.4h.1M64.9 477.2h.1M66.2 488.0h.1M62.6 483.3h.1M69.3 476.7h.1M60.7 487.9h.1M69.2 482.2h.1M65.2 487.0h.1M60.8 485.3h.1M64.4 487.0h.1M63.4 484.0h.1M60.5 484.5h.1M66.2 484.0h.1M60.9 482.7h.1M71.5 485.6h.1M65.4 475.3h.1M65.4 485.6h.1M68.6 484.3h.1M63.3 486.4h.1M57.7 490.1h.1M64.5 481.9h.1M67.5 489.2h.1M59.3 483.8h.1M64.4 484.9h.1M62.3 481.8h.1M69.9 485.8h.1M59.9 481.4h.1M68.6 486.1h.1M69.0 485.4h.1M60.9 486.4h.1M63.3 486.4h.1M61.3 484.9h.1M64.9 485.4h.1M65.4 484.6h.1M62.5 487.6h.1M63.6 481.8h.1M61.6 485.3h.1M63.2 485.2h.1M63.5 485.2h.1M63.1 480.5h.1M64.8 487.7h.1M64.8 483.5h.1M64.8 480.9h.1M57.8 486.8h.1M60.7 488.0h.1M60.2 477.0h.1M60.4 491.0h.1M62.4 480.4h.1M61.2 487.1h.1M65.0 484.7h.1M68.0 485.4h.1M63.4 486.6h.1M68.5 486.1h.1M66.6 479.9h.1M63.1 487.2h.1M62.6 488.5h.1M65.3 487.0h.1M67.2 482.6h.1M62.5 487.9h.1M66.4 483.6h.1M60.0 486.5h.1M64.6 488.0h.1M65.8 483.9h.1M66.1 485.5h.1M64.1 484.6h.1M62.8 487.1h.1M60.3 483.6h.1M63.5 479.7h.1M62.2 478.4h.1M61.5 487.2h.1M65.2 483.8h.1M62.8 480.1h.1M69.0 484.4h.1M66.8 480.5h.1M62.9 478.7h.1M65.8 486.9h.1M57.8 486.4h.1M65.4 478.1h.1M58.0 483.0h.1M61.6 480.6h.1M63.6 485.4h.1M65.4 486.3h.1M68.0 486.9h.1M59.6 484.3h.1M60.3 482.1h.1M63.3 484.7h.1M65.0 478.8h.1M59.8 485.8h.1M62.9 483.8h.1M63.3 482.1h.1M65.6 485.0h.1M63.2 482.4h.1M63.0 475.7h.1M60.6 485.8h.1M59.0 486.8h.1M63.9 479.8h.1M62.7 483.8h.1M64.9 486.2h.1M63.4 481.8h.1M63.1 484.5h.1M65.7 484.8h.1M61.3 480.8h.1M62.4 482.5h.1M60.2 485.4h.1M62.0 485.5h.1M65.1 482.7h.1M70.5 481.1h.1M66.8 483.8h.1M66.8 475.5h.1M61.2 486.2h.1M64.5 488.5h.1M65.8 487.0h.1M65.0 483.5h.1M65.0 480.5h.1M67.0 480.0h.1M62.8 484.9h.1M67.0 483.5h.1M61.1 486.3h.1M65.2 486.4h.1M68.5 482.9h.1M64.3 482.9h.1M67.7 480.8h.1M65.5 482.3h.1M61.4 487.7h.1M67.5 483.2h.1M61.5 488.0h.1M63.4 485.7h.1M68.1 486.8h.1M63.5 487.2h.1M61.6 485.1h.1M67.6 479.1h.1M59.0 480.8h.1M67.0 481.8h.1M63.3 483.6h.1M63.1 481.1h.1M63.6 479.8h.1M63.3 485.7h.1M64.9 483.3h.1M60.8 486.1h.1M62.0 490.3h.1M65.8 483.4h.1M62.1 482.7h.1M60.7 484.4h.1M64.4 486.0h.1M61.4 485.4h.1M71.9 475.4h.1M61.9 485.7h.1M64.0 485.8h.1M62.8 486.1h.1M63.7 487.1h.1M57.8 483.6h.1M63.5 481.2h.1M60.4 487.8h.1M61.6 487.4h.1M65.7 484.8h.1M65.0 483.7h.1M59.3 486.0h.1M64.9 482.4h.1M63.2 487.2h.1M60.9 487.7h.1M69.1 480.8h.1M63.9 483.9h.1M68.1 484.0h.1M66.2 481.4h.1M63.5 484.6h.1M66.2 477.8h.1M65.7 483.4h.1M64.8 485.4h.1M59.0 485.5h.1M68.0 481.1h.1M60.4 481.1h.1M59.8 487.0h.1M68.6 484.3h.1M61.9 482.9h.1M65.1 485.9h.1M60.5 481.8h.1M64.4 485.1h.1M59.6 485.3h.1M61.9 486.7h.1M63.1 484.4h.1M62.4 488.5h.1M67.7 481.9h.1M66.0 481.2h.1M63.7 487.0h.1M68.0 481.7h.1M63.3 485.3h.1M59.0 486.2h.1M61.5 486.5h.1M60.1 479.2h.1M63.6 485.4h.1M61.9 488.1h.1M62.7 482.9h.1M64.9 478.9h.1M61.5 485.2h.1M66.0 483.2h.1M64.4 482.1h.1M64.4 489.8h.1M61.6 485.3h.1M64.0 487.8h.1M59.8 478.9h.1M65.3 486.6h.1M64.1 485.2h.1M66.3 484.9h.1M68.5 478.7h.1M62.4 473.5h.1M65.9 482.5h.1M66.3 490.8h.1M63.5 483.8h.1M62.0 482.3h.1M61.6 487.4h.1M63.6 484.8h.1M63.0 487.8h.1M65.0 483.6h.1M65.5 483.4h.1M60.0 490.7h.1M64.9 480.9h.1M66.7 484.6h.1M64.5 487.2h.1M64.1 483.9h.1M58.9 489.5h.1M63.6 483.6h.1M64.6 484.5h.1M65.5 482.7h.1M63.4 477.5h.1M62.2 487.3h.1M67.5 482.0h.1M63.1 490.0h.1M62.5 487.4h.1M68.5 483.0h.1M67.2 480.9h.1M64.1 484.1h.1M63.8 488.3h.1M70.7 479.9h.1M61.8 486.9h.1M60.3 487.4h.1M65.2 483.1h.1M65.1 478.9h.1M65.8 478.6h.1M61.4 483.5h.1M62.3 487.9h.1M63.7 483.2h.1M65.1 489.3h.1M63.5 485.8h.1M67.2 484.2h.1M70.1 475.7h.1M63.4 486.0h.1M66.4 485.8h.1M62.7 481.4h.1M63.8 487.9h.1M60.2 482.3h.1M63.4 478.2h.1M62.7 483.4h.1M64.9 481.8h.1M60.9 484.2h.1M63.4 482.4h.1M63.5 487.1h.1M67.1 489.0h.1M61.1 484.0h.1M61.3 485.2h.1M65.1 479.5h.1M64.9 484.0h.1M58.0 487.5h.1M67.1 477.1h.1M65.9 484.5h.1M64.9 485.6h.1M67.4 482.5h.1M66.1 482.3h.1M65.7 481.1h.1M63.2 490.5h.1M64.8 483.6h.1M60.1 483.2h.1M64.1 487.5h.1M64.8 485.9h.1M63.4 489.2h.1M62.3 483.2h.1M66.2 483.9h.1M62.7 483.0h.1M62.7 487.0h.1M64.6 480.2h.1M64.8 484.8h.1M60.5 488.2h.1M62.7 483.8h.1M65.9 488.2h.1M61.4 486.8h.1M62.0 489.1h.1M61.6 488.0h.1M70.2 473.8h.1M62.2 486.7h.1M63.2 482.5h.1M70.0 482.6h.1M58.6 489.2h.1M58.3 490.3h.1M61.8 485.7h.1M67.3 483.7h.1M59.3 480.4h.1M67.0 485.8h.1M61.1 488.3h.1M65.0 486.2h.1M66.2 486.1h.1M66.1 475.5h.1M64.0 486.1h.1M71.2 478.7h.1M62.5 485.1h.1M66.2 482.2h.1M66.9 480.8h.1M64.3 482.6h.1M64.0 482.1h.1M58.7 489.9h.1M64.4 482.4h.1M64.1 487.7h.1M60.6 485.3h.1M65.1 485.8h.1M62.5 477.9h.1M67.2 484.4h.1M63.5 483.7h.1M64.3 482.9h.1M60.4 483.2h.1M61.7 483.2h.1M60.0 487.9h.1M59.6 488.2h.1M60.5 486.8h.1M67.6 483.8h.1M61.3 485.5h.1M63.9 478.7h.1M61.7 485.8h.1M62.1 485.4h.1M65.7 486.4h.1M66.2 485.6h.1M62.6 484.8h.1M62.7 483.8h.1M63.0 479.0h.1M62.5 484.9h.1M60.6 485.5h.1M65.0 483.5h.1M69.7 473.7h.1M62.9 478.7h.1M65.1 483.0h.1M65.2 476.5h.1M66.1 484.9h.1M63.6 482.6h.1M65.4 482.3h.1M64.2 482.7h.1M64.1 486.9h.1M60.9 485.4h.1M65.4 484.4h.1M67.2 489.9h.1M60.8 479.1h.1M66.1 488.8h.1M66.3 486.3h.1M61.6 482.9h.1M66.2 480.6h.1M58.1 483.2h.1M71.0 488.4h.1M61.4 482.9h.1M64.2 481.9h.1M67.4 483.0h.1M60.2 490.1h.1M61.8 486.0h.1M63.5 483.6h.1M64.5 481.9h.1M58.0 479.2h.1M59.7 483.4h.1M63.4 484.8h.1M65.2 484.4h.1M61.1 483.1h.1M65.0 485.9h.1M63.1 484.1h.1M66.3 483.7h.1M65.7 485.8h.1M64.1 488.7h.1M61.8 484.0h.1M61.1 482.8h.1M68.2 488.8h.1M63.6 486.5h.1M67.0 486.1h.1M67.1 479.1h.1M61.6 486.8h.1M67.8 483.4h.1M60.9 484.3h.1M61.5 482.4h.1M68.0 480.9h.1M67.1 484.5h.1M61.7 486.6h.1M68.4 485.0h.1M67.3 483.6h.1M65.0 483.4h.1M64.8 488.5h.1M59.2 485.9h.1M64.2 482.4h.1M62.6 487.6h.1M69.5 484.6h.1M64.5 479.1h.1M69.3 482.8h.1M63.4 480.9h.1M63.3 481.0h.1M63.7 486.1h.1M63.6 485.5h.1M60.9 490.3h.1M61.5 479.2h.1M62.9 482.2h.1M60.5 484.5h.1M64.4 480.3h.1M63.1 489.5h.1M65.5 483.4h.1M63.9 484.1h.1M63.4 487.1h.1M63.2 476.7h.1M63.4 481.7h.1M65.5 481.9h.1M60.4 481.9h.1M59.3 478.1h.1M57.9 487.8h.1M61.6 479.0h.1M59.1 488.2h.1M61.2 484.2h.1M64.5 488.8h.1M69.3 486.0h.1M63.9 485.1h.1M68.9 487.5h.1M62.6 486.5h.1M64.4 484.5h.1M62.0 480.7h.1M61.9 480.0h.1M67.2 485.1h.1M59.9 490.5h.1M66.2 477.3h.1M69.0 485.4h.1M69.7 478.3h.1M65.1 485.5h.1M64.1 485.0h.1M66.7 478.5h.1M59.8 481.2h.1M61.8 483.2h.1M64.6 485.1h.1M63.6 482.3h.1M62.2 488.2h.1M65.8 484.1h.1M62.5 490.1h.1M61.7 487.4h.1M67.0 482.5h.1M66.0 480.0h.1M66.5 484.2h.1M58.7 488.5h.1M60.8 489.8h.1M61.5 484.8h.1M64.3 483.2h.1M64.3 482.5h.1M65.5 483.9h.1M64.1 475.2h.1M67.0 483.5h.1M58.2 486.8h.1M64.9 487.7h.1M60.3 490.9h.1M63.1 487.0h.1M62.4 481.3h.1M66.8 486.5h.1M68.1 485.8h.1M61.8 479.7h.1M61.5 483.0h.1M61.1 487.4h.1M64.5 483.4h.1M64.0 483.9h.1M64.1 486.9h.1M66.4 481.3h.1M59.0 490.9h.1M63.8 488.2h.1M58.6 485.2h.1M63.6 479.8h.1M62.0 487.6h.1M66.7 488.8h.1M60.9 480.8h.1M65.1 487.2h.1M64.1 480.1h.1M65.8 486.4h.1M65.2 482.4h.1M64.4 486.9h.1M61.8 479.0h.1M64.5 485.9h.1M63.5 487.6h.1M61.7 484.9h.1M62.6 486.8h.1M68.3 482.1h.1M69.7 487.5h.1M65.9 485.7h.1M68.8 482.1h.1M63.2 481.2h.1M64.9 488.6h.1M65.1 485.5h.1M62.9 485.4h.1M59.2 489.6h.1M62.3 481.3h.1M61.2 482.6h.1M66.1 487.2h.1M59.4 489.1h.1M66.2 481.7h.1M59.0 483.7h.1M61.6 486.4h.1M62.4 478.2h.1M64.2 479.2h.1M66.2 479.6h.1M61.4 482.5h.1M61.9 489.5h.1M66.1 485.7h.1M64.5 479.1h.1M61.9 483.3h.1M60.6 487.3h.1M61.3 483.0h.1M60.4 478.8h.1M65.3 488.4h.1M64.0 481.2h.1M67.1 484.3h.1M66.3 488.6h.1M66.9 481.9h.1M66.7 486.1h.1M58.9 484.9h.1M59.2 485.7h.1M65.2 480.4h.1M64.6 489.1h.1M59.5 489.5h.1M69.7 489.1h.1M62.9 485.7h.1M63.0 488.1h.1M66.6 483.8h.1M59.4 488.5h.1M62.1 487.2h.1M64.3 489.7h.1M66.9 481.9h.1M64.5 490.1h.1M61.9 486.6h.1M67.1 487.5h.1M65.1 479.6h.1M59.7 486.8h.1M60.9 489.3h.1M65.8 478.2h.1M61.0 486.0h.1M62.0 484.6h.1M64.9 481.4h.1M64.9 482.0h.1M61.9 487.0h.1M61.8 486.2h.1M68.3 483.0h.1M63.1 487.2h.1M62.4 488.6h.1M59.7 488.0h.1M62.0 482.5h.1M68.8 479.9h.1M68.8 485.0h.1M67.9 479.8h.1M67.1 488.2h.1M63.2 484.3h.1M70.9 482.6h.1M62.2 482.9h.1M64.8 485.2h.1M64.0 490.2h.1M62.5 486.5h.1M67.9 479.7h.1M66.6 489.6h.1M59.4 482.4h.1M60.4 479.5h.1M64.9 477.9h.1M65.0 488.9h.1M58.7 485.2h.1M57.7 489.2h.1M61.3 484.5h.1M63.7 486.4h.1M62.5 485.0h.1M61.9 485.6h.1M60.0 486.0h.1M57.7 485.0h.1M69.2 482.9h.1M59.7 486.8h.1M60.6 480.1h.1M61.3 487.8h.1" stroke="#ff1414" stroke-opacity="0.85" stroke-width="1.45" stroke-linecap="round" fill="none" filter="url(#sb)"/>
<line x1="56.50" y1="436.60" x2="56.50" y2="491.90" stroke="#3a3a3a" stroke-width="1.0"/>
<line x1="56.50" y1="491.90" x2="117.50" y2="491.90" stroke="#5a5a5a" stroke-width="1.0"/>
<line x1="75.80" y1="436.60" x2="75.80" y2="491.90" stroke="#a0a0a0" stroke-width="1.0"/>
<line x1="56.50" y1="470.30" x2="117.50" y2="470.30" stroke="#a0a0a0" stroke-width="1.0"/>
<text x="45.7" y="444.1" font-size="4.4" font-weight="bold" fill="#333">10<tspan font-size="3.6" dx="0.4" dy="-2.4">5</tspan></text>
<text x="45.7" y="458.0" font-size="4.4" font-weight="bold" fill="#333">10<tspan font-size="3.6" dx="0.4" dy="-2.4">4</tspan></text>
<text x="45.7" y="471.5" font-size="4.4" font-weight="bold" fill="#333">10<tspan font-size="3.6" dx="0.4" dy="-2.4">3</tspan></text>
<text x="45.7" y="485.9" font-size="4.4" font-weight="bold" fill="#333">10<tspan font-size="3.6" dx="0.4" dy="-2.4">2</tspan></text>
<text x="57.9" y="500.1" font-size="4.6" font-weight="bold" fill="#333">10<tspan font-size="3.8" dx="0.5" dy="-3">1</tspan></text>
<text x="69.1" y="500.1" font-size="4.6" font-weight="bold" fill="#333">10<tspan font-size="3.8" dx="0.5" dy="-3">2</tspan></text>
<text x="82.1" y="500.1" font-size="4.6" font-weight="bold" fill="#333">10<tspan font-size="3.8" dx="0.5" dy="-3">3</tspan></text>
<text x="95.0" y="500.1" font-size="4.6" font-weight="bold" fill="#333">10<tspan font-size="3.8" dx="0.5" dy="-3">4</tspan></text>
<text x="108.0" y="500.1" font-size="4.6" font-weight="bold" fill="#333">10<tspan font-size="3.8" dx="0.5" dy="-3">5</tspan></text>
<path d="M63.40,505.50L69.60,505.50L66.50,501.10Z" fill="#ee2020"/>
<text x="55.08" y="516.00" font-size="12.20" font-weight="bold" fill="#111">98.8%</text>
<path d="M157.3 473.0h.1M155.6 472.2h.1M155.2 476.8h.1M156.5 472.3h.1M153.0 473.4h.1M156.7 476.0h.1M156.8 469.2h.1M155.5 475.2h.1M153.9 477.5h.1M155.6 472.2h.1M153.2 479.6h.1M156.8 470.6h.1M153.7 479.2h.1M157.3 471.5h.1M159.6 468.8h.1M153.6 479.9h.1M155.6 475.5h.1M156.1 471.1h.1M153.3 476.7h.1M159.1 467.4h.1M159.0 470.9h.1M153.5 477.8h.1M157.3 470.0h.1M151.2 480.8h.1M153.5 478.3h.1M151.7 478.8h.1M154.2 472.1h.1M155.5 475.1h.1M154.8 472.2h.1M156.5 468.6h.1M157.2 473.9h.1M159.8 471.9h.1M156.8 473.8h.1M156.1 470.2h.1M159.3 471.5h.1M155.4 471.6h.1M159.3 471.4h.1M153.4 479.1h.1M160.2 468.8h.1M156.9 471.8h.1M154.6 478.7h.1M162.9 465.9h.1M155.7 476.5h.1M155.3 476.9h.1M157.9 468.9h.1M153.6 476.7h.1M157.9 472.5h.1M158.8 466.8h.1M157.1 470.9h.1M156.2 474.6h.1M153.8 476.0h.1M153.4 477.9h.1M154.1 474.9h.1M156.5 471.6h.1M158.6 469.1h.1M157.9 472.5h.1M153.7 476.2h.1M154.1 475.3h.1M155.4 479.8h.1M155.1 479.5h.1M157.0 469.2h.1M150.8 482.2h.1M151.6 481.4h.1M158.3 472.3h.1M155.5 473.9h.1M156.6 472.5h.1M154.8 474.4h.1M158.6 469.1h.1M156.8 469.8h.1M154.4 472.1h.1M155.6 476.4h.1M156.7 471.8h.1M157.4 471.4h.1M156.8 473.7h.1M157.2 465.7h.1M153.1 479.7h.1M155.8 480.5h.1M155.5 473.1h.1M159.3 471.5h.1M160.2 470.3h.1M155.5 476.6h.1M154.2 474.9h.1M154.8 474.9h.1M157.7 470.6h.1M156.7 471.8h.1M158.0 464.0h.1M155.5 475.0h.1M153.6 479.7h.1M156.5 477.0h.1M158.1 473.2h.1M155.7 471.4h.1M155.5 473.3h.1M156.6 472.0h.1M162.8 461.3h.1M158.6 469.5h.1M155.5 477.2h.1M156.0 470.6h.1M156.9 472.3h.1M151.4 480.1h.1M153.7 474.8h.1M157.1 473.5h.1M155.4 480.8h.1M156.9 471.2h.1M156.5 473.0h.1M151.1 475.6h.1M152.9 483.5h.1M155.6 473.7h.1M154.7 478.2h.1M156.1 478.6h.1M157.8 476.4h.1M172.2 472.4h.1M167.6 461.8h.1M170.9 483.8h.1M171.0 462.5h.1M169.1 470.4h.1M175.4 464.3h.1M173.3 470.6h.1M170.2 462.5h.1M170.9 464.1h.1M173.2 455.5h.1M175.3 474.6h.1M173.4 480.8h.1M173.5 455.8h.1M171.6 473.1h.1M169.1 461.3h.1M172.9 473.2h.1M169.9 468.0h.1M169.7 465.6h.1M171.2 478.0h.1M165.9 468.2h.1M176.9 470.8h.1M171.9 476.0h.1M168.0 461.0h.1M165.7 459.6h.1M172.2 476.0h.1M170.0 464.6h.1M172.8 474.0h.1M172.3 454.6h.1M169.5 450.4h.1M172.2 462.8h.1M169.2 481.8h.1M175.9 472.3h.1M172.3 470.7h.1M169.4 469.7h.1M177.9 461.3h.1M169.1 471.4h.1M174.4 475.4h.1M168.1 469.3h.1M170.5 460.3h.1M171.7 465.8h.1M174.5 472.2h.1M168.7 470.8h.1M170.2 465.0h.1M169.7 478.2h.1M170.0 456.6h.1M168.8 476.5h.1M178.7 459.8h.1M170.2 467.3h.1M166.6 473.8h.1M171.2 471.8h.1M179.0 465.8h.1M174.1 475.4h.1M169.2 465.5h.1M176.7 473.9h.1M171.9 461.0h.1M174.4 473.0h.1M178.9 479.3h.1M174.1 471.0h.1M171.6 465.3h.1M172.5 471.3h.1M173.6 477.5h.1M172.5 465.2h.1M174.1 481.0h.1M168.6 473.5h.1M173.3 473.3h.1M173.1 468.5h.1M171.1 482.7h.1M177.3 457.4h.1M162.8 475.0h.1M169.1 466.1h.1M166.0 473.6h.1M171.2 465.5h.1M174.5 487.7h.1M176.4 477.5h.1M170.0 475.0h.1M171.3 478.6h.1M173.4 468.9h.1M173.3 463.6h.1M174.1 480.6h.1M170.2 474.2h.1M165.7 478.1h.1M174.4 461.0h.1M177.3 469.1h.1M165.5 460.4h.1M174.4 466.8h.1M175.2 456.8h.1M171.1 477.2h.1M169.1 475.4h.1M170.2 472.5h.1M172.5 486.6h.1M167.2 476.6h.1M175.9 459.9h.1M171.7 487.4h.1M175.0 445.8h.1M170.6 456.6h.1M172.4 463.8h.1M169.5 463.6h.1M172.4 465.8h.1M168.3 468.5h.1M172.8 462.7h.1M175.2 455.9h.1M172.8 466.3h.1M176.8 463.4h.1M169.1 459.7h.1M178.2 472.8h.1M167.7 467.8h.1M168.1 482.1h.1M172.8 453.5h.1M172.1 476.5h.1M171.4 473.3h.1M171.0 471.3h.1M172.1 464.0h.1M172.6 470.6h.1M171.3 464.3h.1M168.0 472.3h.1M174.2 450.3h.1M169.6 480.5h.1M174.5 463.4h.1M176.0 460.9h.1M168.7 485.2h.1M169.9 468.3h.1M165.8 463.1h.1M167.4 469.5h.1M165.2 479.3h.1M170.2 465.2h.1M169.2 475.8h.1M176.6 465.3h.1M176.9 480.8h.1M176.0 470.9h.1M166.3 476.0h.1M170.0 471.4h.1M165.0 468.9h.1M172.2 462.2h.1M172.4 482.3h.1M172.2 464.1h.1M179.5 451.1h.1M168.3 473.5h.1M169.4 452.3h.1M172.3 475.8h.1M168.7 481.6h.1M173.1 478.4h.1M166.2 470.8h.1M176.9 484.0h.1M175.9 468.6h.1M172.0 464.6h.1M175.1 463.4h.1M171.8 453.5h.1M166.3 484.6h.1M171.6 471.2h.1M163.9 471.1h.1M178.5 456.4h.1M163.3 470.2h.1M169.6 468.4h.1M167.1 460.0h.1M167.2 475.5h.1M171.2 476.0h.1M167.7 475.0h.1M169.9 470.6h.1M174.6 469.1h.1M170.2 456.9h.1M171.6 475.6h.1M169.2 469.6h.1M165.4 460.6h.1M172.8 479.4h.1M170.3 456.8h.1M170.1 457.7h.1M170.5 484.9h.1M172.4 468.2h.1M175.0 465.8h.1M172.5 470.9h.1M172.9 457.8h.1M173.8 475.9h.1M163.6 450.2h.1M168.3 481.9h.1M171.5 474.9h.1M173.3 476.1h.1M169.2 465.5h.1M172.7 474.1h.1M173.4 471.8h.1M169.7 478.6h.1M173.0 477.5h.1M162.7 479.5h.1M163.0 473.2h.1M169.1 471.1h.1M169.8 467.5h.1M172.1 472.2h.1M168.6 450.4h.1M168.7 474.5h.1M168.5 473.6h.1M170.1 462.5h.1M175.4 481.7h.1M171.0 469.3h.1M174.7 458.4h.1M168.4 479.2h.1M174.5 465.0h.1M168.7 473.0h.1M166.5 466.8h.1M170.6 450.4h.1M173.4 475.1h.1M175.1 457.4h.1M167.0 464.2h.1M166.9 486.8h.1M168.0 467.9h.1M172.1 473.0h.1M176.4 459.9h.1M174.4 470.1h.1M167.3 471.7h.1M166.5 483.5h.1M168.9 478.1h.1M175.9 463.7h.1M168.3 471.3h.1M167.8 477.5h.1M172.0 463.4h.1M169.0 475.9h.1M166.4 484.1h.1M168.7 468.7h.1M168.2 483.2h.1M174.3 479.2h.1M173.7 469.8h.1M177.3 473.5h.1M172.9 473.8h.1M174.0 471.2h.1M170.8 457.1h.1M178.6 457.7h.1M163.9 465.7h.1M178.1 477.7h.1M169.3 472.2h.1M171.3 453.9h.1M170.2 472.2h.1M175.5 459.1h.1M163.5 458.9h.1M172.6 470.0h.1M171.9 470.7h.1M170.1 459.0h.1M173.0 472.3h.1M173.4 479.0h.1M167.1 452.0h.1M165.2 488.0h.1M168.2 473.5h.1M171.3 475.4h.1M182.6 462.9h.1M170.8 465.0h.1M172.3 473.5h.1M168.0 480.9h.1M175.4 472.2h.1M171.0 467.8h.1M165.6 476.1h.1M168.0 466.4h.1M174.9 461.5h.1M169.6 476.8h.1M177.9 462.6h.1M175.3 463.5h.1M172.8 473.1h.1M167.4 478.7h.1M177.7 468.6h.1M172.3 460.1h.1M177.7 468.7h.1M166.9 476.7h.1M166.3 465.3h.1M163.9 482.3h.1M179.7 479.8h.1M169.5 464.5h.1M162.3 463.3h.1M178.1 476.4h.1M174.6 477.1h.1M180.7 473.8h.1M160.5 475.5h.1M158.9 471.9h.1M155.8 478.0h.1M165.7 463.5h.1M178.7 458.7h.1M178.9 475.5h.1M155.5 475.6h.1M168.2 479.3h.1M168.6 467.3h.1M179.0 458.8h.1M174.3 459.2h.1M159.3 459.4h.1M177.1 467.6h.1M172.8 463.0h.1M172.9 472.8h.1M153.9 468.9h.1M172.7 462.0h.1M170.6 463.5h.1M162.1 479.6h.1" stroke="#f05a5a" stroke-opacity="0.45" stroke-width="0.85" stroke-linecap="round" fill="none" filter="url(#sb)"/>
<path d="M147.7 485.0h.1M143.0 485.5h.1M149.1 482.1h.1M155.4 479.7h.1M155.0 483.6h.1M147.1 485.9h.1M154.0 479.8h.1M149.3 481.8h.1M149.2 482.4h.1M149.3 486.3h.1M154.3 480.9h.1M149.8 485.7h.1M147.9 481.1h.1M153.3 478.4h.1M152.6 478.7h.1M156.0 476.5h.1M152.3 486.1h.1M145.3 490.0h.1M145.8 480.3h.1M151.8 484.1h.1M148.2 476.7h.1M148.8 482.8h.1M147.5 483.6h.1M142.1 485.9h.1M155.9 484.2h.1M147.6 482.3h.1M150.5 485.8h.1M151.8 478.6h.1M149.6 483.7h.1M154.5 483.9h.1M151.0 486.0h.1M147.5 489.0h.1M147.4 485.7h.1M152.5 478.9h.1M146.3 480.0h.1M149.6 483.1h.1M147.7 485.8h.1M149.3 482.6h.1M152.0 487.0h.1M147.3 481.8h.1M146.7 485.2h.1M151.3 479.8h.1M152.8 478.4h.1M152.2 483.0h.1M150.8 488.9h.1M148.0 483.7h.1M150.8 485.1h.1M143.9 487.3h.1M146.2 487.1h.1M154.3 480.8h.1M148.6 484.4h.1M151.2 482.9h.1M147.5 482.3h.1M148.3 487.5h.1M148.6 487.8h.1M150.1 483.0h.1M142.6 485.3h.1M153.8 477.1h.1M145.2 482.6h.1M146.9 486.7h.1M151.3 476.4h.1M154.6 478.7h.1M146.7 489.8h.1M148.7 480.2h.1M146.5 482.9h.1M145.1 484.8h.1M152.4 482.7h.1M145.2 486.1h.1M149.1 485.8h.1M147.7 485.7h.1M157.1 479.3h.1M144.8 486.9h.1M145.9 484.3h.1M149.7 484.2h.1M147.9 486.7h.1M148.3 480.2h.1M152.4 480.6h.1M153.7 479.0h.1M151.2 483.3h.1M144.7 490.2h.1M153.2 482.7h.1M151.6 480.7h.1M149.0 484.3h.1M150.6 484.7h.1M148.2 482.0h.1M146.8 486.0h.1M142.6 483.6h.1M147.4 482.9h.1M148.0 476.4h.1M147.7 483.6h.1M152.0 476.1h.1M147.8 485.7h.1M150.9 486.0h.1M153.1 478.2h.1M151.4 481.2h.1M145.9 489.8h.1M146.6 482.5h.1M147.4 482.0h.1M152.9 482.5h.1M154.4 481.7h.1M146.6 488.0h.1M146.5 483.7h.1M148.4 484.1h.1M153.6 479.2h.1M150.4 482.7h.1M144.2 483.2h.1M148.2 485.3h.1M150.2 484.3h.1M149.2 482.2h.1M150.6 479.7h.1M143.8 485.6h.1M143.5 485.2h.1M146.1 483.6h.1M148.8 481.4h.1M147.4 479.5h.1M149.6 480.7h.1M150.6 474.4h.1M145.9 486.1h.1M149.4 483.7h.1M143.2 487.6h.1M149.6 480.4h.1M151.9 481.8h.1M149.1 482.2h.1M151.1 482.7h.1M153.4 482.4h.1M146.6 484.3h.1M152.5 480.5h.1M150.5 484.3h.1M148.3 477.2h.1M149.5 483.9h.1M149.5 481.1h.1M153.7 480.5h.1M146.6 482.9h.1M150.4 479.6h.1M154.1 483.8h.1M154.3 482.3h.1M142.5 490.8h.1M153.8 482.3h.1M154.3 479.1h.1M149.5 485.6h.1M148.7 487.0h.1M149.3 485.5h.1M149.3 479.1h.1M150.1 486.8h.1M153.4 486.1h.1M151.1 480.6h.1M149.1 477.9h.1M148.3 486.7h.1M152.2 485.7h.1M145.4 483.7h.1M151.1 488.5h.1M144.6 490.2h.1M150.7 481.2h.1M157.5 471.3h.1M148.7 484.4h.1M157.3 484.2h.1M157.8 479.0h.1M152.8 485.5h.1M151.0 483.5h.1M148.3 482.8h.1M147.3 478.4h.1M150.0 482.9h.1M149.7 488.6h.1M148.6 483.1h.1M146.1 485.2h.1M147.3 485.2h.1M161.1 477.8h.1M152.4 484.1h.1M151.8 484.4h.1M151.6 486.3h.1M152.9 485.4h.1M147.0 484.7h.1M146.2 488.0h.1M152.2 480.4h.1M151.3 490.1h.1M153.8 477.6h.1M148.6 485.7h.1M148.9 484.8h.1M153.6 482.0h.1M144.7 488.2h.1M148.6 484.2h.1M146.8 480.8h.1M144.1 485.3h.1M144.8 477.9h.1M153.5 477.6h.1M146.2 486.8h.1M146.0 487.3h.1M147.1 485.6h.1M149.4 483.4h.1M148.8 487.9h.1M146.9 486.4h.1M149.6 484.7h.1M152.9 477.0h.1M150.1 482.5h.1M147.8 481.8h.1M145.9 482.3h.1M155.6 479.9h.1M151.9 479.1h.1M149.6 487.5h.1M148.8 480.7h.1M148.1 481.2h.1M143.6 486.0h.1M147.4 482.1h.1M145.5 482.8h.1M149.9 487.2h.1M148.2 490.7h.1M142.7 488.0h.1M144.5 485.7h.1M149.4 485.0h.1M153.4 479.4h.1M144.2 485.8h.1M150.1 480.9h.1M152.5 486.6h.1M143.5 487.8h.1M153.0 475.6h.1M149.8 482.5h.1M143.5 490.7h.1M149.8 481.7h.1M150.7 484.5h.1M152.0 483.6h.1M150.6 479.2h.1M147.4 484.9h.1M147.5 481.3h.1M141.9 488.4h.1M149.1 481.8h.1M147.4 481.9h.1M146.1 485.0h.1M146.5 487.0h.1M148.4 484.3h.1M150.6 486.5h.1M171.1 472.3h.1M170.4 469.4h.1M167.6 467.8h.1M169.3 467.0h.1M174.1 470.9h.1M174.1 474.2h.1M173.4 475.2h.1M170.1 474.9h.1M170.7 467.3h.1M174.0 481.5h.1M169.2 480.3h.1M173.2 464.9h.1M172.0 472.0h.1M172.2 467.9h.1M168.6 471.0h.1M173.3 474.0h.1M172.9 475.9h.1M169.2 470.4h.1M172.2 475.5h.1M171.7 472.9h.1M171.7 481.7h.1M166.6 471.2h.1M176.9 470.0h.1M167.3 471.9h.1M168.2 467.1h.1M171.9 479.5h.1M172.4 473.6h.1M173.7 470.6h.1M169.5 470.0h.1M172.1 468.4h.1M169.9 468.5h.1M168.1 465.2h.1M171.2 468.1h.1M171.5 477.9h.1M172.1 469.8h.1M168.8 464.8h.1M172.2 465.0h.1M172.4 463.9h.1M171.7 469.6h.1M173.6 467.4h.1M170.6 471.7h.1M171.5 479.5h.1M170.8 467.3h.1M170.7 472.9h.1M171.9 473.8h.1M168.3 484.6h.1M175.5 468.9h.1M168.7 471.6h.1M172.3 457.5h.1M171.4 461.9h.1M172.4 477.5h.1M173.7 461.2h.1M174.5 474.4h.1M170.6 473.1h.1M174.8 467.4h.1M171.4 467.0h.1M174.0 457.5h.1M174.5 463.9h.1M173.5 460.6h.1M169.3 467.3h.1M173.2 460.6h.1M172.7 466.2h.1M174.1 467.7h.1M172.5 468.9h.1M175.4 467.1h.1M171.3 481.1h.1M171.6 473.9h.1M169.8 471.6h.1M166.4 472.0h.1M170.0 462.1h.1M168.3 477.2h.1M172.3 461.4h.1M175.4 465.2h.1M170.6 471.7h.1M168.9 461.8h.1M169.8 477.1h.1M173.5 460.8h.1M174.1 469.6h.1M172.5 470.1h.1M172.3 464.3h.1M169.4 466.7h.1M170.6 473.7h.1M168.7 479.6h.1M170.0 467.2h.1M173.0 472.1h.1M170.6 464.3h.1M169.2 461.8h.1M173.9 475.5h.1M175.5 471.8h.1M172.1 474.1h.1M173.5 468.1h.1M172.2 481.9h.1M167.7 463.2h.1M169.3 474.8h.1M174.0 467.6h.1M172.9 469.5h.1M172.1 466.9h.1M171.3 470.1h.1M173.9 481.9h.1M167.4 474.1h.1M171.4 475.5h.1M173.8 473.8h.1M173.2 464.4h.1M167.6 480.3h.1M174.1 464.1h.1M174.3 473.1h.1M166.0 476.5h.1M169.2 477.1h.1M169.9 466.3h.1M168.0 469.8h.1M173.7 465.8h.1M167.3 483.1h.1M175.5 472.9h.1M170.2 463.7h.1M167.8 474.1h.1M174.3 463.5h.1M171.4 468.6h.1M170.8 473.0h.1M176.0 465.4h.1M173.3 475.7h.1M170.8 469.4h.1M168.4 476.8h.1M170.2 466.8h.1M171.5 465.3h.1M169.1 469.0h.1M174.7 468.1h.1M172.6 461.6h.1M167.1 481.3h.1M170.5 461.8h.1M171.2 473.5h.1M167.6 466.2h.1M172.0 464.8h.1M173.2 475.0h.1M172.4 467.5h.1M171.3 466.6h.1M171.1 471.9h.1M170.7 475.7h.1M177.2 465.6h.1M172.2 474.5h.1M172.8 468.4h.1M170.3 476.0h.1M172.8 472.6h.1M169.6 474.1h.1M173.2 468.6h.1M172.8 481.8h.1M167.2 474.5h.1M168.8 463.2h.1M170.9 473.3h.1M171.5 463.6h.1M168.2 467.8h.1M171.4 465.5h.1M168.1 480.7h.1M169.5 469.7h.1M170.2 467.1h.1M171.5 468.4h.1M172.8 463.1h.1M168.1 481.8h.1M171.2 474.4h.1M174.0 472.5h.1M171.5 461.4h.1M167.8 476.5h.1M172.9 472.9h.1M167.7 459.1h.1M169.0 464.1h.1M171.8 464.3h.1M174.9 465.7h.1M170.1 475.2h.1M172.1 464.9h.1M173.2 480.4h.1M168.7 469.4h.1M169.0 459.8h.1M172.8 473.7h.1M173.6 472.0h.1M166.9 471.1h.1M169.9 463.9h.1M168.9 475.0h.1M170.7 481.3h.1M172.5 459.1h.1M173.4 476.6h.1M171.5 463.3h.1M175.4 461.7h.1M171.2 459.5h.1M168.6 461.3h.1M173.8 476.1h.1M170.5 462.7h.1M171.3 472.3h.1M168.0 464.5h.1M171.2 474.1h.1M171.6 472.6h.1M168.6 456.8h.1M172.1 464.8h.1M171.1 468.0h.1M172.5 465.5h.1M174.6 469.5h.1M172.6 473.3h.1M173.7 471.8h.1M167.5 467.5h.1M175.6 471.7h.1M172.7 472.4h.1M170.0 466.6h.1M169.9 477.0h.1M172.2 479.9h.1M172.5 480.5h.1M172.4 463.2h.1M175.3 471.0h.1M174.1 470.6h.1M170.7 471.2h.1M168.9 464.0h.1M169.4 467.6h.1M168.3 470.3h.1M172.1 481.4h.1M175.6 468.8h.1M173.4 468.4h.1M172.3 469.7h.1M170.2 470.8h.1M168.1 473.4h.1M170.7 464.1h.1M170.6 473.4h.1M169.9 473.2h.1M172.7 478.6h.1M168.9 470.1h.1M172.6 478.3h.1M172.0 474.2h.1M168.1 467.6h.1M175.2 467.5h.1M176.3 464.7h.1M170.8 461.2h.1M172.8 471.2h.1M176.0 469.9h.1M170.8 462.2h.1M171.2 475.5h.1M173.1 476.7h.1M173.4 469.3h.1M172.8 470.7h.1M168.4 480.6h.1M172.3 463.9h.1M172.3 471.5h.1M173.7 477.8h.1M164.5 475.0h.1M174.9 463.8h.1M167.2 472.8h.1M172.2 471.9h.1M168.9 468.1h.1M171.8 474.2h.1M176.4 470.5h.1M170.0 457.0h.1M173.8 468.7h.1M171.2 464.5h.1M173.1 459.4h.1M171.6 470.7h.1M172.1 477.4h.1M171.2 470.7h.1M173.4 460.7h.1M170.7 470.7h.1M173.6 465.0h.1M173.2 471.8h.1M168.0 462.5h.1M168.1 471.7h.1M171.9 474.1h.1M173.3 466.5h.1M173.8 474.2h.1M172.5 472.6h.1M168.5 472.9h.1M169.0 463.9h.1M170.6 471.1h.1M171.3 468.2h.1M169.1 471.7h.1M169.7 462.4h.1M171.6 478.4h.1M170.5 464.2h.1M174.6 479.1h.1M170.7 469.1h.1M171.9 486.9h.1M171.7 475.7h.1M172.4 459.4h.1M168.9 463.7h.1M172.4 470.5h.1M175.5 467.5h.1M172.1 470.4h.1M171.7 483.3h.1M172.1 478.4h.1M174.4 465.9h.1M173.0 467.5h.1M171.7 470.9h.1M171.4 467.4h.1M175.0 467.7h.1M173.0 479.4h.1M172.8 475.6h.1M174.6 475.6h.1M175.3 460.9h.1M175.9 469.1h.1M167.4 467.4h.1M168.2 470.8h.1M168.0 465.2h.1M172.1 470.8h.1M169.6 469.2h.1M171.2 470.6h.1M171.4 468.8h.1M173.4 460.3h.1M170.3 471.2h.1M170.5 467.2h.1M170.4 471.6h.1M174.3 468.3h.1M170.8 472.3h.1M170.8 459.1h.1M172.0 467.8h.1M170.1 474.1h.1M171.5 466.8h.1M166.4 461.4h.1M171.4 469.4h.1M172.4 471.1h.1M170.3 463.1h.1M168.9 469.9h.1M168.8 475.1h.1M168.4 460.5h.1M171.0 460.0h.1M175.1 463.4h.1M171.3 468.7h.1M169.5 460.4h.1M167.1 476.2h.1M173.7 482.0h.1M168.0 474.2h.1M171.4 475.0h.1M170.2 474.6h.1M173.5 473.1h.1M174.7 468.3h.1M175.0 465.2h.1M175.2 453.3h.1M171.4 465.5h.1M171.4 476.1h.1M173.1 470.2h.1M175.3 460.6h.1M169.5 479.3h.1M172.2 457.9h.1M172.2 463.1h.1M174.8 475.8h.1M170.1 477.9h.1M169.5 475.9h.1M172.7 469.0h.1M168.1 469.3h.1M166.1 468.2h.1M167.1 478.2h.1M169.2 456.6h.1M172.7 471.9h.1M170.2 482.6h.1M173.2 470.0h.1M169.9 453.4h.1M172.5 475.4h.1M170.0 462.3h.1M171.3 460.5h.1M171.4 474.5h.1M174.9 470.8h.1M171.9 474.3h.1M174.6 467.4h.1M168.6 466.2h.1M168.5 465.7h.1M171.1 472.1h.1M171.8 470.4h.1M170.6 472.8h.1M173.4 474.0h.1M174.8 467.6h.1M170.8 480.0h.1M171.9 472.4h.1M170.6 475.9h.1M170.5 464.5h.1M171.3 467.6h.1M173.3 467.4h.1M171.7 468.8h.1M172.2 466.3h.1M173.9 461.2h.1M170.5 466.2h.1M172.9 470.0h.1M172.5 467.9h.1M169.7 464.1h.1M170.6 467.2h.1M172.0 472.0h.1M173.6 468.9h.1M169.7 464.4h.1M171.5 472.1h.1M175.9 470.0h.1M175.4 479.9h.1M169.0 477.7h.1M174.0 477.2h.1M171.4 475.6h.1M170.3 470.0h.1M171.4 480.4h.1M170.9 475.7h.1M171.6 466.0h.1M172.0 473.8h.1M169.8 474.2h.1M169.8 465.5h.1M171.9 468.6h.1M169.1 461.3h.1M171.5 471.5h.1M170.3 471.4h.1M167.9 473.3h.1M172.4 471.5h.1M170.0 470.9h.1M171.7 476.2h.1M172.0 471.4h.1M169.7 475.5h.1M174.1 466.6h.1M172.9 471.5h.1M171.3 462.7h.1M175.4 458.3h.1M172.1 467.8h.1M174.0 467.0h.1M171.5 473.6h.1M172.4 466.8h.1M173.0 472.0h.1M173.7 466.6h.1M171.3 467.9h.1M169.5 472.1h.1M172.3 478.0h.1M170.7 472.5h.1M174.0 468.8h.1M171.5 470.8h.1M169.8 464.8h.1M174.0 470.5h.1M171.2 463.0h.1M171.7 476.8h.1M168.8 465.6h.1M173.9 477.7h.1M175.0 466.0h.1M172.8 465.4h.1M172.6 467.7h.1M171.8 477.7h.1M172.2 468.5h.1M171.5 471.6h.1M170.2 471.6h.1M172.8 478.7h.1M166.7 464.5h.1M168.6 475.8h.1M177.0 469.8h.1M171.7 476.6h.1M165.8 470.5h.1M164.3 472.8h.1M170.2 467.6h.1M172.2 466.6h.1M173.9 469.4h.1M172.3 484.4h.1M170.4 475.7h.1M169.5 477.7h.1M173.6 470.3h.1M173.7 478.7h.1M174.5 469.3h.1M171.3 476.5h.1M168.0 467.5h.1M172.5 473.1h.1M175.6 479.1h.1M172.1 472.4h.1M168.4 469.8h.1M172.0 468.7h.1M171.5 473.5h.1M169.2 467.4h.1M167.4 477.7h.1M169.0 461.0h.1M173.2 468.4h.1M173.6 467.4h.1M176.2 473.0h.1M171.7 470.7h.1M170.9 474.8h.1M175.9 466.5h.1M168.9 474.1h.1M173.8 461.0h.1M169.8 464.8h.1M172.7 472.7h.1M169.7 464.1h.1M173.0 458.0h.1M172.9 468.8h.1M175.8 474.7h.1M170.1 468.9h.1M170.8 466.1h.1M171.6 475.5h.1M168.0 469.7h.1M174.8 473.5h.1M169.6 466.0h.1M169.5 461.5h.1M174.0 469.8h.1M169.8 462.3h.1M170.5 467.4h.1M175.3 466.5h.1M171.7 476.1h.1M172.9 468.7h.1M166.5 479.3h.1M172.8 467.3h.1M171.2 464.7h.1M169.4 462.2h.1M172.5 472.8h.1M171.8 474.4h.1M172.6 470.5h.1M169.4 474.0h.1M174.1 473.0h.1M174.2 466.7h.1M169.2 477.8h.1M170.1 471.8h.1M171.0 470.3h.1M170.8 467.2h.1M167.4 481.9h.1M171.9 459.1h.1M169.4 464.2h.1M169.7 456.1h.1M172.7 479.1h.1M170.8 474.5h.1M172.8 462.7h.1M174.1 459.9h.1M170.1 468.4h.1M174.2 470.1h.1M171.1 465.6h.1M171.6 470.3h.1M173.0 477.6h.1M173.1 469.8h.1M171.1 479.2h.1M171.9 469.9h.1M175.4 477.9h.1M172.7 469.2h.1M170.0 476.5h.1M170.4 475.8h.1M169.6 471.1h.1M172.3 470.7h.1" stroke="#f03030" stroke-opacity="0.6" stroke-width="1.0" stroke-linecap="round" fill="none" filter="url(#sb)"/>
<path d="M147.3 485.2h.1M150.4 483.4h.1M148.7 485.7h.1M148.0 489.4h.1M149.5 484.4h.1M147.3 483.9h.1M152.6 482.9h.1M144.3 485.6h.1M147.5 484.2h.1M151.7 480.3h.1M149.7 484.5h.1M144.0 487.2h.1M147.7 486.4h.1M146.5 486.5h.1M142.3 485.4h.1M150.7 486.1h.1M148.0 483.6h.1M151.7 478.0h.1M145.3 488.1h.1M150.2 481.3h.1M148.5 482.6h.1M148.2 487.1h.1M150.5 478.7h.1M150.6 479.3h.1M151.9 483.9h.1M155.7 479.5h.1M148.0 487.5h.1M145.8 484.5h.1M146.7 485.5h.1M144.3 488.1h.1M149.8 484.2h.1M153.8 481.2h.1M152.4 481.3h.1M150.6 479.0h.1M148.7 484.2h.1M146.3 484.4h.1M146.8 483.9h.1M146.1 484.7h.1M144.4 486.6h.1M150.7 483.0h.1M146.3 489.1h.1M151.3 485.5h.1M151.9 482.1h.1M147.6 487.9h.1M146.1 485.7h.1M149.3 485.2h.1M147.1 487.9h.1M147.4 487.1h.1M151.6 484.7h.1M150.5 480.9h.1M143.5 485.9h.1M149.6 487.7h.1M143.8 487.9h.1M145.1 484.8h.1M147.1 487.2h.1M148.7 487.4h.1M144.6 488.9h.1M151.2 483.5h.1M149.6 482.8h.1M144.3 486.0h.1M146.4 489.8h.1M148.7 485.4h.1M150.5 481.8h.1M151.1 484.3h.1M142.8 489.2h.1M149.9 485.1h.1M153.4 481.2h.1M149.7 485.9h.1M144.9 489.5h.1M143.1 484.5h.1M149.8 481.4h.1M147.6 481.3h.1M148.2 482.2h.1M149.2 480.7h.1M149.5 483.6h.1M148.2 484.7h.1M148.4 481.6h.1M144.8 485.6h.1M149.5 479.5h.1M145.4 484.9h.1M144.4 487.7h.1M147.5 483.3h.1M144.7 488.7h.1M145.8 487.6h.1M149.5 479.6h.1M144.3 487.0h.1M149.2 486.3h.1M150.7 486.0h.1M146.7 485.2h.1M150.6 482.6h.1M151.6 479.3h.1M150.2 483.4h.1M149.1 484.5h.1M144.3 485.8h.1M153.1 480.3h.1M143.9 486.8h.1M146.7 483.5h.1M145.1 489.0h.1M146.2 483.4h.1M150.7 484.9h.1M144.5 488.7h.1M151.8 482.4h.1M143.6 488.6h.1M151.1 483.3h.1M149.4 486.1h.1M154.3 481.1h.1M146.4 485.8h.1M152.1 480.6h.1M152.4 476.1h.1M150.7 481.9h.1M149.6 485.8h.1M144.0 486.9h.1M148.8 486.0h.1M144.8 484.3h.1M147.3 484.8h.1M142.9 489.9h.1M146.2 489.4h.1M150.9 483.5h.1M150.5 481.0h.1M146.9 484.2h.1M143.7 487.3h.1M147.5 488.7h.1M144.9 485.5h.1M149.4 485.2h.1M148.1 483.8h.1M149.7 485.0h.1M143.3 484.6h.1M148.5 484.9h.1M148.4 482.7h.1M147.3 483.2h.1M149.3 486.0h.1M154.0 484.9h.1M145.3 485.4h.1M144.8 487.4h.1M154.7 483.1h.1M143.6 488.6h.1M148.0 485.7h.1M154.1 479.8h.1M149.2 482.5h.1M148.2 487.3h.1M147.5 483.6h.1M145.5 490.9h.1M142.0 488.6h.1M148.1 486.4h.1M146.6 486.9h.1M150.8 483.2h.1M146.4 485.4h.1M144.7 486.2h.1M147.0 486.0h.1M152.5 485.7h.1M146.5 487.2h.1M149.0 486.3h.1M148.1 485.6h.1M146.4 484.0h.1M151.0 486.5h.1M150.3 484.9h.1M148.9 483.4h.1M141.9 489.8h.1M148.7 483.3h.1M144.7 489.8h.1M150.2 489.5h.1M145.6 486.2h.1M146.3 486.3h.1M147.3 483.6h.1M151.7 481.2h.1M146.3 487.2h.1M146.2 484.9h.1M149.2 483.5h.1M143.8 487.0h.1M147.3 489.5h.1M144.3 489.3h.1M145.3 485.6h.1M146.9 486.2h.1M150.9 487.6h.1M145.8 489.3h.1M151.4 485.2h.1M145.4 488.5h.1M147.6 486.0h.1M147.1 487.1h.1M151.8 485.7h.1M147.3 487.8h.1M152.9 480.1h.1M153.0 479.1h.1M149.8 485.4h.1M153.0 483.0h.1M146.4 484.0h.1M143.7 489.1h.1M147.2 483.7h.1M149.8 482.2h.1M146.5 484.7h.1M153.6 485.5h.1M147.5 481.5h.1M148.9 484.7h.1M149.2 485.7h.1M146.9 487.8h.1M150.8 484.0h.1M146.6 484.6h.1M150.4 481.1h.1M147.5 483.5h.1M143.3 489.0h.1M147.9 485.1h.1M151.0 479.8h.1M147.8 485.8h.1M150.8 480.9h.1M150.4 484.2h.1M152.6 485.3h.1M149.9 489.2h.1M148.0 484.0h.1M146.8 483.4h.1M147.9 480.5h.1M147.7 486.2h.1M151.4 482.4h.1M152.7 480.9h.1M147.5 480.7h.1M145.4 484.5h.1M153.0 483.6h.1M144.3 488.2h.1M149.6 483.6h.1M148.1 484.2h.1M146.2 481.8h.1M147.7 488.2h.1M152.8 481.8h.1M145.5 485.8h.1M151.0 484.2h.1M146.1 486.9h.1M147.3 486.6h.1M146.6 482.3h.1M148.2 486.7h.1M144.3 486.7h.1M150.9 482.6h.1M145.8 490.9h.1M150.7 485.9h.1M144.9 490.5h.1M142.5 486.7h.1M150.4 486.8h.1M144.9 485.1h.1M148.7 480.2h.1M150.1 485.2h.1M146.5 487.0h.1M150.6 484.4h.1M149.7 487.6h.1M146.4 486.2h.1M146.3 488.3h.1M146.7 486.8h.1M148.5 484.9h.1M153.7 481.8h.1M152.7 484.4h.1M152.3 482.3h.1M151.1 485.1h.1M146.0 486.7h.1M147.6 485.1h.1M152.3 481.1h.1M142.5 483.9h.1M146.5 484.3h.1M148.0 486.3h.1M153.8 482.7h.1M149.5 482.5h.1M149.9 487.1h.1M152.4 478.1h.1M150.9 487.1h.1M150.7 480.1h.1M147.0 486.9h.1M149.4 482.4h.1M145.1 488.8h.1M143.6 490.6h.1M148.1 485.7h.1M143.6 485.9h.1M150.3 480.4h.1M154.8 478.2h.1M144.0 487.2h.1M149.6 485.9h.1M146.8 485.2h.1M147.2 484.1h.1M148.8 484.9h.1M145.9 486.7h.1M148.0 484.8h.1M151.6 479.1h.1M148.8 482.1h.1M147.0 489.0h.1M144.5 486.6h.1M146.1 488.2h.1M144.8 482.8h.1M149.7 483.3h.1M147.0 488.0h.1M145.1 485.7h.1M148.5 485.7h.1M146.3 488.3h.1M155.3 480.2h.1M154.1 476.9h.1M152.6 481.8h.1M148.4 484.0h.1M145.9 483.2h.1M146.7 488.7h.1M151.7 482.2h.1M146.3 484.3h.1M150.2 484.1h.1M146.4 483.5h.1M152.3 484.5h.1M144.9 488.9h.1M144.4 488.4h.1M144.9 485.7h.1M149.6 485.1h.1M151.3 481.3h.1M153.2 485.4h.1M148.0 486.1h.1M145.5 486.0h.1M143.7 487.5h.1M148.7 487.8h.1M151.1 485.2h.1M146.8 485.1h.1" stroke="#ff1414" stroke-opacity="0.85" stroke-width="1.45" stroke-linecap="round" fill="none" filter="url(#sb)"/>
<line x1="141.00" y1="436.60" x2="141.00" y2="491.90" stroke="#3a3a3a" stroke-width="1.0"/>
<line x1="141.00" y1="491.90" x2="202.00" y2="491.90" stroke="#5a5a5a" stroke-width="1.0"/>
<line x1="160.30" y1="436.60" x2="160.30" y2="491.90" stroke="#a0a0a0" stroke-width="1.0"/>
<line x1="141.00" y1="470.30" x2="202.00" y2="470.30" stroke="#a0a0a0" stroke-width="1.0"/>
<text x="130.2" y="444.1" font-size="4.4" font-weight="bold" fill="#333">10<tspan font-size="3.6" dx="0.4" dy="-2.4">5</tspan></text>
<text x="130.2" y="458.0" font-size="4.4" font-weight="bold" fill="#333">10<tspan font-size="3.6" dx="0.4" dy="-2.4">4</tspan></text>
<text x="130.2" y="471.5" font-size="4.4" font-weight="bold" fill="#333">10<tspan font-size="3.6" dx="0.4" dy="-2.4">3</tspan></text>
<text x="130.2" y="485.9" font-size="4.4" font-weight="bold" fill="#333">10<tspan font-size="3.6" dx="0.4" dy="-2.4">2</tspan></text>
<text x="142.4" y="500.1" font-size="4.6" font-weight="bold" fill="#333">10<tspan font-size="3.8" dx="0.5" dy="-3">1</tspan></text>
<text x="153.6" y="500.1" font-size="4.6" font-weight="bold" fill="#333">10<tspan font-size="3.8" dx="0.5" dy="-3">2</tspan></text>
<text x="166.6" y="500.1" font-size="4.6" font-weight="bold" fill="#333">10<tspan font-size="3.8" dx="0.5" dy="-3">3</tspan></text>
<text x="179.5" y="500.1" font-size="4.6" font-weight="bold" fill="#333">10<tspan font-size="3.8" dx="0.5" dy="-3">4</tspan></text>
<text x="192.5" y="500.1" font-size="4.6" font-weight="bold" fill="#333">10<tspan font-size="3.8" dx="0.5" dy="-3">5</tspan></text>
<path d="M148.60,505.50L154.80,505.50L151.70,501.10Z" fill="#ee2020"/>
<text x="140.11" y="516.00" font-size="12.20" font-weight="bold" fill="#111">80.6%</text>
<path d="M256.0 467.7h.1M253.0 477.0h.1M257.6 474.7h.1M254.7 473.4h.1M255.7 460.1h.1M255.6 454.7h.1M255.3 469.0h.1M258.3 457.5h.1M251.2 464.8h.1M248.6 467.2h.1M265.1 462.0h.1M253.2 463.8h.1M262.1 454.0h.1M255.5 466.9h.1M253.3 463.5h.1M250.0 464.8h.1M260.5 474.9h.1M254.9 473.3h.1M257.5 466.9h.1M255.4 476.8h.1M257.9 464.1h.1M255.1 474.9h.1M253.8 463.1h.1M254.9 464.0h.1M260.3 466.9h.1M255.6 463.4h.1M260.9 467.2h.1M263.2 469.1h.1M255.1 463.5h.1M254.9 469.3h.1M258.7 469.0h.1M261.4 451.8h.1M256.0 456.3h.1M252.3 465.1h.1M253.6 461.3h.1M250.6 479.6h.1M254.8 475.4h.1M252.0 452.1h.1M253.8 475.4h.1M253.9 471.6h.1M252.1 480.4h.1M257.4 474.2h.1M254.9 477.7h.1M256.2 463.3h.1M253.7 469.2h.1M252.7 460.2h.1M256.4 472.3h.1M254.9 474.3h.1M261.5 453.7h.1M256.8 459.2h.1M253.6 470.1h.1M247.6 477.5h.1M258.8 469.3h.1M258.2 479.5h.1M254.6 476.4h.1M261.0 467.5h.1M249.6 470.3h.1M254.9 455.5h.1M255.7 473.1h.1M255.0 466.4h.1M261.1 459.0h.1M252.6 469.8h.1M259.8 469.0h.1M256.2 463.3h.1M260.2 471.0h.1M249.8 473.9h.1M247.5 484.4h.1M258.0 460.9h.1M251.4 468.0h.1M249.8 475.7h.1M254.1 454.9h.1M255.8 476.3h.1M251.4 467.5h.1M262.3 464.2h.1M253.9 470.0h.1M258.6 457.6h.1M255.6 454.9h.1M250.3 459.2h.1M258.9 467.5h.1M258.5 474.7h.1M256.1 468.9h.1M257.3 469.8h.1M252.2 467.7h.1M255.4 467.8h.1M253.3 468.0h.1M256.9 467.9h.1M258.0 472.1h.1M257.9 473.2h.1M258.8 475.8h.1M258.1 460.9h.1M264.1 470.2h.1M260.3 469.8h.1M256.1 458.3h.1M257.4 463.4h.1M254.5 451.8h.1M261.3 454.5h.1M252.0 473.4h.1M257.9 459.8h.1M255.9 469.1h.1M256.4 470.9h.1M258.6 462.5h.1M250.2 487.6h.1M254.5 460.5h.1M258.5 469.9h.1M253.7 486.7h.1M247.6 482.7h.1M255.8 469.7h.1M257.0 464.7h.1M257.0 456.5h.1M254.5 482.3h.1M246.8 482.8h.1M248.1 466.0h.1M259.0 462.0h.1M253.9 457.1h.1M255.5 466.1h.1M253.7 456.8h.1M256.4 470.0h.1M259.9 468.4h.1M261.2 472.7h.1M246.0 486.7h.1M255.5 459.4h.1M257.4 473.5h.1M250.5 461.5h.1M258.3 461.3h.1M261.0 465.3h.1M254.0 458.4h.1M258.0 452.6h.1M251.3 460.3h.1M261.9 476.1h.1M255.1 464.8h.1M258.4 475.0h.1M253.1 486.0h.1M255.2 476.4h.1M247.6 472.5h.1M253.4 484.1h.1M255.1 458.0h.1M262.7 457.2h.1M255.9 457.6h.1M258.3 467.0h.1M254.9 464.8h.1M253.9 463.1h.1M251.0 479.8h.1M259.0 454.4h.1M251.8 473.1h.1M263.9 460.2h.1M254.8 466.0h.1M256.8 465.3h.1M259.7 472.1h.1M257.8 477.9h.1M255.1 463.5h.1M266.4 445.2h.1M250.4 452.9h.1M257.2 458.1h.1M259.6 448.6h.1M255.4 464.5h.1M252.1 478.4h.1M254.5 471.6h.1M254.0 469.6h.1M254.3 468.8h.1M255.5 462.2h.1M250.8 466.1h.1M240.9 459.2h.1M250.8 478.3h.1M238.5 464.2h.1M250.9 476.0h.1M252.7 458.1h.1M247.9 474.8h.1M249.4 465.8h.1M239.4 468.9h.1M247.2 467.8h.1M258.3 477.1h.1M242.1 469.5h.1M245.5 468.4h.1M259.2 474.9h.1M248.0 462.3h.1M246.5 470.5h.1M244.2 476.4h.1M247.8 458.1h.1M262.1 444.3h.1M245.8 466.6h.1M254.6 476.5h.1M257.9 480.1h.1M249.9 468.5h.1M254.9 467.4h.1M238.8 463.9h.1M252.4 472.5h.1M239.9 477.2h.1M249.9 455.5h.1M251.0 475.7h.1M251.4 465.1h.1M242.1 476.6h.1M249.3 467.5h.1M244.9 459.3h.1M234.5 464.8h.1M255.5 473.7h.1M242.9 479.9h.1M246.1 459.5h.1M254.6 478.7h.1M245.0 457.8h.1M247.2 448.1h.1M248.1 479.8h.1M249.6 461.7h.1M252.7 463.6h.1M256.6 464.7h.1M262.0 464.8h.1M249.0 460.1h.1M238.7 470.4h.1M250.2 459.8h.1M251.6 464.3h.1M243.8 467.0h.1M250.5 473.4h.1M256.4 470.7h.1M242.6 462.1h.1M250.3 458.0h.1M246.5 464.5h.1M247.0 469.1h.1M255.0 480.7h.1M253.9 475.7h.1M240.2 475.9h.1M256.8 456.7h.1M265.4 463.0h.1M231.0 481.8h.1M248.1 461.2h.1M243.7 476.2h.1M249.5 464.6h.1M255.8 460.1h.1M241.7 463.1h.1M242.4 473.1h.1M246.1 459.1h.1M244.5 451.7h.1M248.9 468.4h.1M252.0 465.7h.1M250.5 460.1h.1M247.9 468.8h.1M239.2 472.3h.1M248.7 468.0h.1M244.3 483.7h.1M247.7 461.4h.1M241.7 472.3h.1M246.2 461.3h.1M242.6 475.1h.1M248.3 476.0h.1M247.6 458.1h.1M253.8 470.2h.1M243.1 465.1h.1M240.9 474.2h.1M244.8 471.4h.1M249.5 465.5h.1M250.3 465.6h.1M239.4 464.3h.1M239.4 473.6h.1M252.3 462.9h.1M252.0 469.6h.1M254.5 460.1h.1M247.9 459.7h.1M242.9 478.6h.1M233.6 460.3h.1M251.1 473.8h.1M242.2 451.3h.1M235.6 470.5h.1M255.4 474.9h.1M242.6 478.4h.1M246.4 472.5h.1M246.4 480.3h.1M244.1 450.4h.1M245.5 469.1h.1M249.6 461.9h.1M246.1 458.5h.1M246.1 468.3h.1M249.4 480.7h.1M233.7 471.7h.1M250.7 458.3h.1M248.2 467.5h.1M240.7 473.4h.1M261.1 473.0h.1M253.1 476.1h.1M246.8 475.4h.1M242.0 469.0h.1M252.6 478.0h.1M245.7 465.3h.1M284.1 450.9h.1M238.3 457.9h.1M246.9 466.2h.1M279.8 450.6h.1M259.7 471.6h.1M240.4 460.8h.1M251.8 482.1h.1M272.1 465.8h.1M228.9 460.9h.1M274.5 464.0h.1M248.5 472.2h.1M227.2 472.5h.1M266.5 451.1h.1M250.1 480.8h.1M240.7 467.8h.1" stroke="#f05a5a" stroke-opacity="0.45" stroke-width="0.85" stroke-linecap="round" fill="none" filter="url(#sb)"/>
<path d="M231.2 485.8h.1M230.0 481.5h.1M229.2 486.8h.1M234.0 488.5h.1M228.4 489.7h.1M236.1 482.4h.1M239.4 479.1h.1M231.0 481.6h.1M230.5 485.4h.1M236.0 485.9h.1M232.1 482.0h.1M231.8 483.1h.1M231.2 483.4h.1M229.6 485.4h.1M231.1 484.3h.1M227.4 487.2h.1M235.6 484.3h.1M230.9 481.4h.1M227.8 483.0h.1M230.5 484.1h.1M225.8 489.6h.1M226.8 485.0h.1M230.2 487.7h.1M240.9 478.4h.1M232.1 483.0h.1M232.4 483.5h.1M243.5 474.7h.1M232.7 481.5h.1M234.7 481.2h.1M235.6 479.0h.1M242.0 479.5h.1M225.8 489.7h.1M231.2 481.2h.1M235.0 481.0h.1M236.3 480.3h.1M237.0 482.0h.1M234.7 483.3h.1M231.7 483.3h.1M235.1 484.7h.1M240.2 476.3h.1M237.7 480.9h.1M234.2 480.7h.1M240.1 477.4h.1M232.9 481.6h.1M241.2 483.0h.1M227.7 485.2h.1M234.7 481.5h.1M231.7 481.2h.1M234.2 479.8h.1M236.7 488.9h.1M231.8 489.3h.1M234.7 480.8h.1M231.8 481.5h.1M233.7 485.4h.1M237.1 480.7h.1M228.3 486.1h.1M240.1 480.7h.1M232.9 477.5h.1M231.4 486.2h.1M229.3 489.8h.1M230.9 482.3h.1M230.8 484.6h.1M237.3 479.7h.1M225.8 487.4h.1M235.4 487.0h.1M228.6 490.6h.1M236.0 483.4h.1M230.0 482.7h.1M229.2 488.5h.1M234.1 486.3h.1M240.7 479.6h.1M233.0 489.4h.1M227.8 485.2h.1M231.7 483.3h.1M233.8 480.8h.1M238.0 476.9h.1M229.8 480.4h.1M227.4 488.5h.1M235.8 481.6h.1M236.7 483.6h.1M230.8 484.8h.1M234.7 488.8h.1M231.4 485.7h.1M235.5 486.0h.1M235.0 485.9h.1M228.8 485.2h.1M242.8 479.1h.1M233.6 484.2h.1M233.8 479.3h.1M230.3 484.6h.1M233.9 480.7h.1M232.8 481.7h.1M227.8 484.6h.1M229.9 487.9h.1M238.7 482.3h.1M232.3 482.4h.1M226.7 485.6h.1M239.7 483.5h.1M234.1 482.4h.1M233.2 484.9h.1M233.2 484.9h.1M230.0 485.5h.1M231.8 487.6h.1M228.1 490.2h.1M232.8 482.3h.1M233.3 483.9h.1M232.2 485.4h.1M230.8 479.9h.1M236.1 482.0h.1M240.1 481.0h.1M230.4 486.8h.1M242.4 481.9h.1M228.7 485.8h.1M226.6 489.2h.1M235.5 479.3h.1M235.1 485.4h.1M236.5 479.8h.1M230.3 481.9h.1M227.9 487.5h.1M233.4 487.4h.1M234.3 482.1h.1M233.9 483.2h.1M229.1 482.8h.1M235.8 479.3h.1M235.6 484.2h.1M231.6 479.7h.1M234.9 486.9h.1M229.8 481.7h.1M237.7 481.6h.1M230.6 488.6h.1M232.1 485.6h.1M231.5 482.3h.1M234.1 480.6h.1M225.9 486.0h.1M238.3 484.1h.1M242.2 481.7h.1M239.9 480.8h.1M231.4 486.0h.1M229.3 487.9h.1M231.4 485.4h.1M229.7 485.1h.1M237.2 480.8h.1M230.4 486.0h.1M236.8 481.1h.1M228.4 481.6h.1M227.7 489.8h.1M232.8 485.2h.1M237.6 482.1h.1M235.2 481.1h.1M226.6 489.1h.1M232.8 485.5h.1M228.8 485.6h.1M241.5 476.6h.1M233.6 487.3h.1M232.2 484.5h.1M231.4 488.4h.1M232.8 482.7h.1M235.0 482.0h.1M231.1 489.3h.1M237.2 481.8h.1M236.5 484.3h.1M235.6 482.5h.1M233.5 484.7h.1M235.5 483.4h.1M230.9 484.6h.1M235.1 479.7h.1M233.2 485.9h.1M233.9 482.4h.1M233.1 482.3h.1M237.2 480.3h.1M226.3 483.8h.1M234.4 483.6h.1M231.3 480.9h.1M232.6 481.5h.1M230.5 485.1h.1M230.0 486.3h.1M230.2 483.9h.1M232.3 488.4h.1M239.7 482.9h.1M230.2 485.3h.1M237.0 484.0h.1M226.5 487.1h.1M230.2 487.5h.1M235.8 480.7h.1M242.0 478.1h.1M243.2 477.7h.1M232.9 489.4h.1M231.0 483.4h.1M239.3 480.2h.1M235.2 478.9h.1M240.6 482.5h.1M234.7 484.9h.1M231.1 483.4h.1M226.7 488.2h.1M238.3 483.4h.1M237.0 483.7h.1M229.4 481.9h.1M235.8 482.7h.1M237.3 480.6h.1M229.6 486.9h.1M230.9 480.1h.1M230.7 482.5h.1M228.6 484.5h.1M237.1 488.4h.1M240.3 478.6h.1M237.9 480.9h.1M234.9 480.8h.1M232.9 479.0h.1M240.6 477.4h.1M235.6 480.6h.1M234.3 479.6h.1M231.7 487.1h.1M235.6 476.7h.1M236.7 478.0h.1M234.4 484.5h.1M230.6 484.2h.1M232.2 485.4h.1M237.0 485.6h.1M234.5 488.7h.1M229.3 490.9h.1M232.1 486.5h.1M232.7 484.2h.1M229.4 486.8h.1M241.5 479.6h.1M233.1 483.7h.1M236.1 481.5h.1M233.2 484.3h.1M238.6 483.5h.1M228.9 484.2h.1M233.3 486.1h.1M237.2 480.9h.1M241.9 478.4h.1M239.0 484.6h.1M239.8 480.7h.1M235.6 478.0h.1M225.9 485.9h.1M236.2 485.1h.1M232.8 486.9h.1M235.6 486.8h.1M226.7 484.8h.1M229.3 482.8h.1M240.0 477.3h.1M229.8 484.4h.1M236.8 480.3h.1M236.2 483.6h.1M230.6 478.3h.1M229.4 482.1h.1M239.9 477.9h.1M228.8 487.1h.1M233.4 480.8h.1M237.7 483.8h.1M234.3 480.8h.1M229.6 479.7h.1M234.8 483.9h.1M229.4 485.8h.1M246.7 473.1h.1M226.2 489.2h.1M231.4 483.2h.1M235.8 481.9h.1M237.3 482.9h.1M238.0 481.4h.1M226.2 490.5h.1M234.2 479.1h.1M233.5 486.0h.1M229.0 486.0h.1M230.2 482.4h.1M230.7 488.7h.1M236.0 482.0h.1M232.9 484.2h.1M234.4 483.5h.1M226.1 490.1h.1M229.7 478.0h.1M236.1 478.6h.1M232.6 483.7h.1M230.8 486.5h.1M232.1 483.4h.1M229.3 485.0h.1M228.9 486.1h.1M238.7 483.6h.1M235.0 478.7h.1M237.4 484.0h.1M241.7 472.5h.1M233.3 482.6h.1M237.7 478.1h.1M237.3 475.6h.1M233.3 487.5h.1M230.7 486.7h.1M233.6 479.2h.1M230.6 488.3h.1M238.1 479.2h.1M237.8 479.0h.1M234.2 483.0h.1M238.2 474.9h.1M240.1 462.8h.1M239.1 470.0h.1M239.1 469.6h.1M239.4 464.7h.1M243.0 467.5h.1M241.6 468.4h.1M241.1 469.0h.1M238.5 468.7h.1M241.2 472.9h.1M241.5 474.2h.1M237.9 473.4h.1M239.6 475.7h.1M244.8 463.2h.1M242.7 467.0h.1M238.7 472.8h.1M238.6 478.0h.1M242.3 471.8h.1M241.8 461.5h.1M242.8 467.8h.1M235.6 477.7h.1M243.3 472.1h.1M238.7 475.6h.1M241.8 468.5h.1M240.4 472.5h.1M242.3 470.2h.1M240.1 467.2h.1M244.0 469.9h.1M239.7 471.7h.1M242.8 462.1h.1M242.1 475.9h.1M241.6 467.0h.1M245.6 463.7h.1M241.5 468.1h.1M241.4 463.9h.1M238.1 469.4h.1M243.0 466.9h.1M243.6 460.2h.1M239.6 476.3h.1M239.2 466.7h.1M239.3 471.3h.1M241.0 474.1h.1M244.0 470.7h.1M242.3 466.7h.1M239.9 467.0h.1M243.9 469.9h.1M241.2 467.0h.1M242.5 469.4h.1M241.3 466.0h.1M241.5 467.5h.1M242.7 469.6h.1M242.0 467.3h.1M244.4 467.7h.1M243.9 468.7h.1M242.5 469.2h.1M238.6 467.7h.1M238.9 474.8h.1M243.1 467.7h.1M241.2 475.4h.1M240.1 465.7h.1M237.5 473.8h.1M242.6 470.1h.1M240.5 473.2h.1M240.9 467.9h.1M240.1 473.5h.1M243.2 463.6h.1M238.8 473.4h.1M245.8 459.8h.1M238.2 475.2h.1M242.1 466.5h.1M240.9 471.6h.1M237.1 475.3h.1M242.4 471.0h.1M243.6 466.2h.1M237.7 478.6h.1M242.7 465.7h.1M243.3 470.0h.1M240.7 463.2h.1M239.9 469.1h.1M239.1 472.3h.1M238.6 474.5h.1M245.3 460.5h.1M243.3 465.1h.1M242.2 467.9h.1M243.9 463.9h.1M242.7 465.4h.1M241.5 469.3h.1M243.5 461.8h.1M238.0 478.5h.1M241.9 474.0h.1M238.7 473.8h.1M242.4 473.6h.1M240.9 468.8h.1M242.6 467.5h.1M239.3 474.7h.1M236.7 472.7h.1M244.1 464.3h.1M240.3 472.1h.1M243.5 468.2h.1M238.8 471.2h.1M243.4 466.4h.1M239.6 474.6h.1M243.6 473.2h.1M238.6 471.1h.1M239.4 473.2h.1M239.9 474.9h.1M235.0 481.2h.1M239.6 471.1h.1M242.3 468.9h.1M238.7 477.7h.1M242.3 466.7h.1M241.5 465.9h.1M238.2 472.9h.1M241.8 469.2h.1M239.3 468.1h.1M237.2 480.1h.1M241.8 466.4h.1M243.7 468.0h.1M240.1 469.4h.1M243.6 467.5h.1M244.7 466.1h.1M239.7 470.0h.1M239.4 472.9h.1M241.6 471.1h.1M242.0 465.4h.1M240.5 467.7h.1M242.1 464.5h.1M239.7 469.1h.1M239.6 471.1h.1M244.4 464.6h.1M237.8 473.5h.1M242.7 469.4h.1M241.5 475.4h.1M243.5 466.9h.1M243.7 462.1h.1M240.6 467.8h.1M241.4 474.4h.1M239.9 476.4h.1M238.7 477.5h.1M237.2 472.6h.1M243.2 466.7h.1M241.3 469.5h.1M241.4 468.9h.1M238.8 472.1h.1M241.2 466.9h.1M242.0 474.0h.1M237.3 473.3h.1M240.4 470.9h.1M241.2 467.5h.1M240.9 470.1h.1M240.8 475.0h.1M241.3 465.0h.1M237.5 476.6h.1M240.2 469.1h.1M238.0 473.2h.1M240.8 468.2h.1M240.2 473.8h.1M242.8 469.3h.1M240.6 466.3h.1M242.7 472.2h.1M243.8 469.7h.1M241.6 470.3h.1M241.0 473.9h.1M240.4 477.4h.1M242.7 466.6h.1M241.0 465.0h.1M239.4 471.3h.1M246.5 460.0h.1M243.1 467.4h.1M240.3 472.8h.1M238.5 466.0h.1M253.7 461.4h.1M246.0 462.6h.1M248.8 460.5h.1M246.7 463.3h.1M244.8 463.4h.1M247.5 463.6h.1M242.4 461.7h.1M244.5 465.4h.1M247.2 458.1h.1M241.2 467.8h.1M247.5 458.9h.1M242.7 463.2h.1M251.7 465.0h.1M244.8 461.8h.1M253.7 458.4h.1M252.3 461.8h.1M246.6 465.2h.1M248.1 459.8h.1M240.3 463.4h.1M248.2 465.1h.1M236.1 467.4h.1M248.6 465.3h.1M249.3 462.1h.1M247.9 462.8h.1M243.8 462.4h.1M246.7 461.0h.1M240.5 459.9h.1M248.2 463.1h.1M246.6 459.3h.1M249.5 460.6h.1M238.1 467.5h.1M240.4 468.7h.1M248.3 460.7h.1M237.1 462.3h.1M252.0 464.3h.1M247.2 457.9h.1M244.7 461.8h.1M248.0 461.6h.1M247.5 458.1h.1M243.7 466.1h.1M240.6 465.5h.1M255.2 462.0h.1M240.8 466.2h.1M239.0 464.4h.1M244.6 465.5h.1M250.8 461.8h.1M253.2 463.2h.1M244.3 460.2h.1M255.8 459.4h.1M247.8 461.6h.1M244.4 458.7h.1M245.6 462.0h.1M250.0 460.2h.1M240.1 460.8h.1M246.0 462.8h.1M249.0 460.7h.1M248.3 462.1h.1M252.8 460.8h.1M246.8 463.4h.1M250.9 459.1h.1M244.4 461.9h.1M237.9 466.9h.1M250.4 461.4h.1M259.3 462.7h.1M254.1 464.4h.1M249.7 458.1h.1M252.2 462.0h.1M241.6 463.2h.1M249.1 464.0h.1M246.9 460.8h.1M249.2 459.8h.1M245.9 464.1h.1M240.6 464.2h.1M238.6 461.5h.1M241.4 462.9h.1M249.0 461.5h.1M249.8 461.7h.1M245.4 463.5h.1M245.3 462.7h.1M250.2 460.0h.1M250.7 458.7h.1M245.3 458.2h.1M244.1 466.4h.1M247.6 465.0h.1M240.5 460.9h.1M248.0 463.8h.1M249.5 457.6h.1M248.2 461.6h.1M246.7 463.2h.1M245.1 458.4h.1M242.0 459.6h.1M241.1 462.9h.1M251.3 459.5h.1M243.2 460.0h.1M239.5 463.7h.1M244.3 462.0h.1M242.5 464.1h.1M241.5 464.4h.1M243.6 464.6h.1M242.7 463.9h.1M247.9 461.7h.1M252.6 461.4h.1M242.7 464.5h.1M243.0 461.5h.1M246.2 462.6h.1M252.8 456.7h.1M245.2 465.1h.1M245.6 463.1h.1M252.1 458.1h.1M246.4 464.1h.1M243.9 458.5h.1M242.3 463.4h.1M246.9 466.5h.1M251.4 457.5h.1M250.2 463.6h.1M252.5 460.6h.1M244.0 463.0h.1M252.2 462.5h.1M252.8 462.8h.1M243.9 460.2h.1M253.4 457.2h.1M244.8 461.7h.1M242.6 461.5h.1M246.2 467.9h.1M245.9 461.0h.1M246.7 464.4h.1M243.0 461.8h.1M239.4 465.2h.1M248.9 465.3h.1M241.5 468.3h.1M249.6 460.9h.1M244.7 461.8h.1M241.5 465.0h.1M243.8 460.9h.1M248.2 462.1h.1M243.9 462.1h.1M244.3 465.8h.1M250.1 459.7h.1M246.0 465.5h.1M245.1 466.7h.1M247.9 463.5h.1M238.1 465.8h.1M247.5 463.3h.1M248.1 463.1h.1M244.2 464.7h.1M246.4 459.6h.1M242.2 463.4h.1M247.5 456.6h.1M238.2 466.3h.1M246.2 469.1h.1M240.2 462.8h.1M243.9 464.0h.1M251.7 465.0h.1M242.3 465.9h.1M241.5 463.9h.1M246.9 463.6h.1M243.1 466.0h.1M245.9 462.2h.1M245.2 459.8h.1M249.0 462.5h.1M248.0 466.3h.1M242.8 462.2h.1M246.2 464.3h.1M245.5 464.6h.1M248.0 457.6h.1M243.5 457.8h.1M245.1 461.4h.1M248.5 462.2h.1M246.0 465.3h.1M248.5 458.8h.1M243.5 463.5h.1M252.8 460.4h.1M245.5 463.0h.1M249.3 461.4h.1M247.4 461.0h.1M244.1 460.7h.1M248.8 460.4h.1M248.3 462.8h.1M250.0 455.0h.1M242.4 460.0h.1M245.6 464.3h.1M256.1 464.0h.1M251.5 462.1h.1M244.7 463.8h.1M237.7 466.1h.1M246.2 463.7h.1M242.2 460.3h.1M243.7 462.6h.1M247.6 461.1h.1M247.6 463.6h.1M241.7 462.8h.1M240.1 462.1h.1M249.7 459.8h.1M253.5 462.0h.1M249.7 461.8h.1M249.6 464.2h.1M246.6 460.8h.1M244.1 467.3h.1M245.5 461.2h.1M243.4 458.7h.1M244.2 463.4h.1M244.3 460.7h.1M247.8 463.0h.1M244.5 463.3h.1M242.4 465.0h.1M242.3 462.1h.1M246.7 461.1h.1M241.7 468.1h.1M252.1 456.8h.1M246.7 459.0h.1M247.4 458.8h.1M248.5 463.0h.1M252.9 463.8h.1M244.4 464.8h.1M244.4 462.3h.1M244.2 458.3h.1M248.6 456.8h.1M245.3 463.6h.1M246.6 458.3h.1M243.7 464.3h.1M250.5 465.2h.1M239.1 464.7h.1M244.3 464.4h.1M239.6 463.1h.1M249.0 460.1h.1M244.8 460.1h.1M250.6 458.1h.1M242.6 462.1h.1M245.0 467.5h.1M247.3 460.0h.1M248.5 462.6h.1M247.3 461.8h.1M248.0 459.0h.1M241.5 462.1h.1M241.9 464.7h.1M253.8 463.7h.1M247.9 462.7h.1M243.5 459.6h.1M248.3 458.2h.1M247.4 461.6h.1M249.1 461.7h.1M246.6 460.7h.1M239.5 462.7h.1M248.9 464.2h.1M251.6 458.7h.1M242.5 464.6h.1M244.4 468.8h.1M247.4 458.3h.1M244.0 466.4h.1M239.1 464.0h.1M240.8 467.1h.1M244.5 460.1h.1M239.5 461.8h.1M236.2 463.0h.1M254.7 460.8h.1M245.2 459.6h.1M247.5 460.8h.1M242.9 466.2h.1M247.9 459.7h.1M252.0 460.9h.1M248.2 462.2h.1M250.8 462.8h.1M244.8 464.2h.1M244.7 462.8h.1M252.6 458.4h.1M242.2 462.0h.1M244.2 465.7h.1M240.0 469.0h.1M252.4 459.9h.1M246.9 461.2h.1M248.8 463.3h.1M249.1 463.5h.1M253.8 460.3h.1M248.9 461.2h.1M246.4 462.7h.1M246.0 463.1h.1M242.9 462.5h.1M243.8 459.8h.1M243.4 461.5h.1M245.6 458.5h.1M245.2 459.7h.1M243.0 463.3h.1M250.5 462.0h.1M244.3 461.5h.1M251.4 457.3h.1M250.7 457.7h.1M243.7 462.8h.1M245.3 466.4h.1M248.1 461.7h.1M249.9 461.6h.1M243.0 465.5h.1M252.1 464.2h.1M241.6 467.7h.1M244.6 464.4h.1M250.9 467.0h.1M239.9 461.0h.1M250.8 462.5h.1M245.0 455.4h.1M247.9 461.4h.1" stroke="#f03030" stroke-opacity="0.6" stroke-width="1.0" stroke-linecap="round" fill="none" filter="url(#sb)"/>
<path d="M245.0 475.0h.1M229.0 487.8h.1M235.4 479.2h.1M226.3 489.1h.1M231.4 485.3h.1M233.2 482.8h.1M232.7 483.7h.1M237.7 481.7h.1M233.1 482.9h.1M230.9 483.6h.1M233.2 488.7h.1M237.2 482.7h.1M239.2 483.6h.1M233.9 483.4h.1M229.2 486.9h.1M232.1 480.9h.1M234.0 485.0h.1M233.9 482.7h.1M234.9 486.0h.1M232.1 486.0h.1M236.9 481.1h.1M233.8 482.1h.1M235.4 482.2h.1M237.3 480.2h.1M239.3 480.3h.1M230.2 483.5h.1M235.6 480.8h.1M239.7 484.0h.1M235.1 479.7h.1M233.1 482.4h.1M226.7 488.6h.1M241.1 478.8h.1M236.1 485.9h.1M229.7 485.1h.1M234.2 484.9h.1M229.1 486.9h.1M232.8 486.8h.1M227.4 485.8h.1M231.4 484.4h.1M235.8 481.3h.1M243.1 477.4h.1M236.2 485.2h.1M236.7 481.9h.1M230.2 485.1h.1M235.6 483.3h.1M235.3 484.5h.1M230.0 483.5h.1M238.4 480.3h.1M230.2 483.4h.1M236.7 479.6h.1M230.1 488.4h.1M233.6 490.7h.1M233.7 484.1h.1M230.9 484.8h.1M231.4 485.1h.1M236.0 479.6h.1M229.9 480.7h.1M238.6 481.2h.1M233.2 484.1h.1M236.8 483.1h.1M236.3 482.2h.1M232.8 484.3h.1M226.5 490.4h.1M227.5 484.7h.1M235.6 483.1h.1M236.1 486.9h.1M239.9 484.2h.1M232.4 489.7h.1M230.0 485.6h.1M236.8 481.8h.1M232.8 483.5h.1M238.1 475.5h.1M237.8 484.5h.1M232.9 485.7h.1M229.7 488.8h.1M244.2 476.2h.1M238.2 481.5h.1M232.0 483.6h.1M232.5 481.4h.1M228.3 490.8h.1M233.1 485.6h.1M234.3 484.8h.1M227.7 484.7h.1M235.5 485.5h.1M229.1 484.9h.1M229.4 487.8h.1M234.4 483.6h.1M230.9 486.3h.1M233.3 482.3h.1M234.4 481.9h.1M236.6 484.0h.1M230.7 486.9h.1M233.4 482.3h.1M229.9 481.8h.1M229.1 487.2h.1M237.5 480.4h.1M233.8 484.8h.1M236.0 483.8h.1M237.6 483.8h.1M230.5 486.6h.1M233.3 485.6h.1M232.1 486.8h.1M238.0 479.7h.1M231.2 485.9h.1M235.0 483.6h.1M236.2 479.7h.1M236.0 485.6h.1M237.2 483.2h.1M232.3 485.6h.1M232.9 480.4h.1M231.0 485.2h.1M231.3 482.8h.1M232.4 483.7h.1M233.4 484.0h.1M233.8 486.3h.1M233.7 485.0h.1M228.8 479.2h.1M231.8 486.6h.1M232.0 483.3h.1M228.7 488.7h.1M231.3 485.8h.1M237.3 483.4h.1M241.3 479.7h.1M236.6 484.1h.1M230.8 485.5h.1M231.2 482.7h.1M234.3 481.7h.1M239.2 479.2h.1M231.2 485.4h.1M231.3 485.3h.1M231.0 481.8h.1M238.7 482.5h.1M233.8 482.8h.1M232.7 485.2h.1M228.2 484.8h.1M230.0 489.0h.1M229.4 489.1h.1M232.9 484.4h.1M238.1 483.9h.1M236.6 479.8h.1M237.3 486.3h.1M232.8 483.2h.1M229.3 488.8h.1M234.3 483.7h.1M228.8 490.5h.1M236.4 482.5h.1M238.5 479.1h.1M236.4 480.1h.1M238.3 480.9h.1M237.6 480.9h.1M234.6 486.3h.1M230.0 486.1h.1M230.2 487.9h.1M231.0 484.4h.1M232.5 487.5h.1M229.5 486.1h.1M232.0 483.4h.1M230.4 485.3h.1M233.9 480.0h.1M234.0 480.8h.1M233.3 489.8h.1M229.7 485.8h.1M232.3 487.1h.1M231.5 480.7h.1M227.4 487.6h.1M234.1 486.4h.1M231.3 486.9h.1M229.4 489.4h.1M232.9 482.7h.1M233.8 488.2h.1M230.1 482.7h.1M229.5 483.2h.1M233.0 485.2h.1M232.6 485.0h.1M237.5 481.3h.1M228.7 480.9h.1M234.1 482.1h.1M232.3 485.7h.1M234.9 479.5h.1M229.8 486.2h.1M232.7 487.3h.1M231.4 480.0h.1M237.4 478.0h.1M229.7 487.0h.1M234.1 485.1h.1M231.6 490.5h.1M235.1 481.4h.1M237.7 477.7h.1M231.1 486.0h.1M233.7 481.6h.1M238.9 484.9h.1M229.8 486.9h.1M230.9 484.3h.1M236.8 482.7h.1M232.8 484.7h.1M229.0 489.4h.1M230.5 488.8h.1M231.6 483.9h.1M238.5 481.9h.1M230.9 484.1h.1M235.4 487.7h.1M235.4 482.1h.1M229.2 484.6h.1M232.8 485.0h.1M230.8 488.6h.1M229.8 484.2h.1M235.0 484.5h.1M231.8 487.3h.1M228.1 490.9h.1M241.1 485.0h.1M233.6 488.9h.1M233.4 487.4h.1M232.5 485.1h.1M235.1 478.9h.1M232.5 488.8h.1M236.5 483.3h.1M233.9 487.3h.1M234.4 478.9h.1M229.8 485.2h.1M233.7 482.8h.1M232.8 488.5h.1M236.6 484.0h.1M233.3 484.3h.1M234.5 484.1h.1M230.6 487.5h.1M230.2 485.6h.1M231.9 482.0h.1M235.4 482.9h.1M229.0 486.2h.1M228.2 490.3h.1M235.1 488.2h.1M231.2 487.0h.1M229.7 483.9h.1M232.9 485.4h.1M236.5 481.8h.1M237.2 484.5h.1M230.1 485.4h.1M229.9 490.1h.1M231.2 487.4h.1M236.5 481.9h.1M255.0 476.8h.1M256.7 464.3h.1M255.3 476.3h.1M253.4 473.7h.1M252.9 465.1h.1M254.8 468.8h.1M253.6 471.3h.1M258.0 458.9h.1M257.6 464.2h.1M254.9 473.3h.1M256.7 462.5h.1M254.8 477.2h.1M257.0 470.9h.1M258.4 465.6h.1M255.4 474.5h.1M253.0 474.4h.1M252.6 467.6h.1M257.3 459.9h.1M258.9 466.3h.1M254.0 465.1h.1M256.7 465.8h.1M258.3 459.7h.1M253.5 473.4h.1M257.4 469.5h.1M256.1 461.7h.1M255.3 477.3h.1M258.2 459.2h.1M254.2 465.7h.1M254.7 466.5h.1M253.9 464.9h.1M257.7 463.7h.1M258.7 460.9h.1M252.9 469.5h.1M254.5 475.9h.1M252.6 472.0h.1M257.4 464.6h.1M253.1 469.2h.1M257.7 466.8h.1M255.2 471.0h.1M256.8 465.7h.1M253.9 466.2h.1M255.2 475.5h.1M259.1 468.8h.1M255.5 461.3h.1M256.2 472.3h.1M253.7 471.0h.1M259.0 466.2h.1M256.0 475.0h.1M254.3 463.7h.1M254.7 466.5h.1M257.2 470.1h.1M258.4 471.1h.1M252.9 465.4h.1M252.6 467.3h.1M257.6 461.1h.1M258.5 465.7h.1M259.4 464.6h.1M256.6 468.2h.1M253.6 472.8h.1M253.7 475.0h.1M257.1 457.5h.1M254.3 469.3h.1M259.0 459.3h.1M258.1 465.2h.1M256.3 465.6h.1M254.2 477.4h.1M257.0 471.6h.1M257.7 471.1h.1M257.3 463.4h.1M253.3 475.8h.1M257.3 457.2h.1M255.2 463.9h.1M252.7 471.6h.1M257.2 473.5h.1M258.8 459.5h.1M257.4 474.3h.1M256.7 461.7h.1M259.4 465.8h.1M257.0 473.7h.1M255.2 477.4h.1M258.3 461.7h.1M255.1 463.8h.1M256.4 459.4h.1M259.3 467.5h.1M257.2 467.8h.1M258.1 464.0h.1M254.7 472.2h.1M256.3 475.4h.1M253.7 474.3h.1M257.3 468.9h.1M255.1 468.5h.1M255.6 459.2h.1M257.2 469.8h.1M253.3 471.6h.1M257.8 470.0h.1M253.9 468.3h.1M255.8 462.3h.1M255.7 476.3h.1M254.3 462.0h.1M257.1 458.0h.1M254.5 467.9h.1M254.7 475.7h.1M256.1 470.1h.1M255.7 473.2h.1M253.6 470.3h.1M257.1 456.9h.1M254.6 464.5h.1M254.9 461.7h.1M254.9 465.3h.1M255.4 463.4h.1M257.5 467.2h.1M258.7 466.6h.1M253.1 473.6h.1M255.8 468.5h.1M253.8 463.1h.1M256.3 470.9h.1M256.5 469.8h.1M256.2 458.1h.1M254.1 463.7h.1M253.0 474.5h.1M257.2 474.4h.1M254.0 476.2h.1M254.1 468.5h.1M257.8 461.8h.1M256.1 458.8h.1M258.7 460.9h.1M254.0 462.3h.1M256.5 470.2h.1M255.2 474.6h.1M258.3 461.4h.1M257.0 460.3h.1M255.1 459.6h.1M253.4 463.7h.1M258.1 470.8h.1M253.8 461.0h.1M256.4 467.9h.1M256.1 469.4h.1M253.9 468.8h.1M256.5 463.9h.1M259.2 465.4h.1M255.3 468.0h.1M257.6 468.2h.1M257.0 470.3h.1M258.4 461.5h.1M256.5 466.0h.1M253.4 472.8h.1M253.5 471.3h.1M256.0 465.7h.1M256.7 472.1h.1M258.5 462.5h.1M257.1 467.2h.1M259.0 466.5h.1M256.2 457.2h.1M255.6 467.9h.1M255.6 458.8h.1M256.9 458.2h.1M253.8 465.8h.1M254.9 467.1h.1M256.4 464.9h.1M255.1 477.0h.1M254.8 463.9h.1M254.1 472.1h.1M255.1 473.4h.1M254.3 464.2h.1M255.5 464.7h.1M259.2 466.3h.1M255.2 476.9h.1M256.6 469.3h.1M258.5 464.0h.1M255.9 468.9h.1M252.3 471.9h.1M254.7 470.1h.1M253.4 475.7h.1M255.6 462.4h.1M259.3 461.7h.1M254.4 466.7h.1M253.2 473.1h.1M253.3 465.1h.1M257.3 471.9h.1M258.9 459.5h.1M258.9 464.5h.1M258.1 466.9h.1M258.6 467.1h.1M255.2 459.7h.1M257.0 457.8h.1M255.5 474.8h.1M253.6 466.5h.1M256.7 459.0h.1M253.2 475.8h.1M257.4 467.6h.1M255.7 474.8h.1M258.7 469.5h.1M254.3 461.5h.1M253.4 467.2h.1M256.6 466.4h.1M256.6 459.7h.1M257.3 468.2h.1M253.8 474.0h.1M255.3 466.1h.1M253.6 472.1h.1M254.7 476.9h.1M258.6 466.5h.1M253.3 466.0h.1M255.3 473.2h.1M254.3 462.3h.1M257.7 458.9h.1M257.8 465.8h.1M259.1 461.8h.1M253.3 464.5h.1M259.5 464.6h.1M255.9 468.0h.1M253.0 468.5h.1M256.0 463.6h.1M257.6 471.5h.1M255.6 477.1h.1M252.6 473.0h.1M257.7 466.8h.1M254.1 461.0h.1M253.1 469.2h.1M255.8 474.8h.1M253.4 474.6h.1M252.5 473.0h.1M258.4 468.8h.1M256.3 469.7h.1M257.7 467.8h.1M254.0 461.1h.1M258.0 458.6h.1M253.9 461.7h.1M257.8 468.4h.1M253.7 476.7h.1M257.1 461.8h.1M255.4 474.7h.1M255.2 465.7h.1M255.2 477.4h.1M257.7 460.7h.1M256.9 463.5h.1M255.2 471.6h.1M252.6 467.0h.1M254.4 469.1h.1M258.1 466.8h.1M257.3 462.9h.1M254.2 467.2h.1M256.8 461.5h.1M257.7 467.4h.1M255.6 461.9h.1M252.7 469.6h.1M257.5 463.9h.1M255.0 471.0h.1M254.0 464.1h.1M257.4 471.2h.1M257.5 459.0h.1M254.6 461.9h.1M252.4 469.7h.1M255.3 476.1h.1M255.2 476.0h.1M255.6 467.5h.1M254.5 466.3h.1M258.9 467.3h.1M253.5 469.5h.1M256.0 466.7h.1M257.0 469.4h.1M256.9 467.3h.1M252.9 465.8h.1M257.9 469.6h.1M258.5 468.5h.1M253.1 471.2h.1M256.1 473.7h.1M253.2 466.1h.1M258.4 464.2h.1M252.8 468.0h.1M258.7 470.0h.1M257.2 460.6h.1M255.7 459.8h.1M256.8 457.7h.1M256.6 470.4h.1M257.9 473.1h.1M255.1 476.3h.1M256.9 458.5h.1M258.1 460.6h.1M259.1 468.4h.1M258.6 467.4h.1M254.3 470.4h.1M257.4 466.5h.1M254.6 465.4h.1M258.0 461.7h.1M253.6 466.6h.1M258.1 458.3h.1M253.6 472.7h.1M255.6 458.4h.1M254.9 474.9h.1M257.0 469.9h.1M255.4 470.6h.1M256.9 460.6h.1M258.2 459.6h.1M253.7 474.4h.1M256.3 467.5h.1M257.3 467.2h.1M255.0 468.2h.1M258.3 470.7h.1M252.7 474.3h.1M253.7 473.4h.1M256.7 469.5h.1M258.1 462.6h.1M258.0 468.4h.1M256.8 474.5h.1M254.5 465.1h.1M256.0 458.3h.1M258.0 471.4h.1M255.7 468.1h.1M254.5 471.0h.1M256.1 467.2h.1M255.0 461.2h.1M257.5 464.0h.1M257.0 459.0h.1M256.0 458.2h.1M254.7 476.7h.1M258.0 464.6h.1M253.3 476.0h.1M258.6 470.6h.1M255.3 465.6h.1M256.6 467.9h.1M257.4 470.5h.1M258.0 458.5h.1M255.1 466.5h.1M257.9 458.2h.1M255.7 472.2h.1M252.9 472.3h.1M257.2 468.4h.1M257.3 473.9h.1M256.3 470.8h.1M254.1 463.6h.1M253.8 474.5h.1M258.3 463.1h.1M253.4 463.2h.1M255.2 464.8h.1M258.2 468.2h.1M256.9 466.1h.1M254.5 476.7h.1M254.3 467.5h.1M256.7 459.7h.1M253.5 467.0h.1M258.1 466.0h.1M252.4 469.9h.1M254.1 461.9h.1M254.7 472.5h.1M255.7 465.4h.1M255.2 467.6h.1M254.8 459.3h.1M256.6 464.1h.1M257.4 464.5h.1M259.3 463.4h.1M255.9 463.3h.1M256.7 462.7h.1M257.3 465.5h.1M257.8 463.0h.1M255.5 468.4h.1M257.0 470.6h.1M256.5 458.5h.1M254.6 460.3h.1M257.4 464.0h.1M259.3 462.0h.1M255.0 460.4h.1M253.0 470.7h.1M257.1 462.1h.1M257.5 471.1h.1M255.1 469.4h.1M257.1 466.1h.1M253.5 464.0h.1M259.2 464.9h.1M257.9 458.7h.1M256.8 475.0h.1M255.4 464.4h.1M256.6 462.0h.1M254.9 459.2h.1M257.1 467.5h.1M258.1 469.9h.1M256.9 466.0h.1M256.3 459.8h.1M256.8 462.5h.1M255.4 475.1h.1M254.3 468.6h.1M253.5 473.9h.1M253.6 470.0h.1M256.7 463.6h.1M253.1 466.6h.1M255.2 473.8h.1M254.7 460.4h.1M253.8 473.3h.1M253.7 469.8h.1M257.3 467.3h.1M253.4 466.3h.1M259.2 465.3h.1M256.5 465.6h.1M257.1 457.7h.1M258.3 469.2h.1M255.4 462.6h.1M258.5 464.9h.1M256.5 468.4h.1M258.4 460.4h.1M257.6 457.2h.1M256.6 469.7h.1M257.3 457.1h.1M259.0 467.3h.1M258.2 467.0h.1M254.2 465.0h.1M252.8 468.5h.1M253.5 471.2h.1M253.2 470.9h.1M256.2 471.7h.1M259.5 463.3h.1M257.4 465.2h.1M257.4 469.5h.1M253.2 475.5h.1M254.0 473.8h.1M256.2 474.4h.1M258.1 466.5h.1M254.4 473.3h.1M256.8 468.2h.1M252.7 466.1h.1M255.0 459.3h.1M257.2 471.1h.1M255.0 469.1h.1M255.1 476.6h.1M255.8 468.0h.1M255.9 465.3h.1M258.2 459.3h.1M256.1 476.3h.1M257.6 468.3h.1M255.9 458.7h.1M253.0 467.7h.1M253.1 472.1h.1M258.0 467.0h.1M259.1 461.0h.1M254.8 467.4h.1M257.6 466.3h.1M253.6 474.7h.1M255.4 465.4h.1M254.1 466.6h.1M257.6 464.5h.1M257.0 467.2h.1M254.4 468.0h.1M252.7 474.2h.1M257.2 457.7h.1M254.3 467.2h.1M254.2 462.9h.1M258.8 466.4h.1M253.8 469.0h.1M253.2 467.3h.1M258.0 458.8h.1M256.7 463.3h.1M257.3 469.8h.1M258.4 469.8h.1M254.6 460.4h.1M256.5 473.8h.1M253.2 465.1h.1M254.5 466.3h.1M258.3 468.8h.1M256.9 472.9h.1M254.1 469.5h.1M255.1 466.6h.1M255.7 470.7h.1M252.8 474.0h.1M254.1 463.0h.1M253.8 476.5h.1M258.5 460.4h.1M253.7 463.9h.1M253.2 466.3h.1M254.3 472.0h.1M254.7 476.9h.1M259.1 460.6h.1M256.3 467.8h.1M254.1 463.2h.1M254.8 460.6h.1M257.1 463.6h.1M257.5 468.9h.1M258.2 467.6h.1M257.5 461.9h.1M257.5 465.4h.1M257.2 469.1h.1M254.0 462.7h.1M256.7 468.3h.1M257.8 463.8h.1M255.8 466.7h.1M258.7 458.5h.1M256.6 462.2h.1M257.1 462.3h.1M254.6 461.4h.1M258.9 464.7h.1M257.9 472.4h.1M254.2 468.1h.1M257.8 459.2h.1M256.0 467.1h.1M257.6 463.0h.1M258.4 470.1h.1M259.0 463.4h.1M256.4 474.9h.1M258.8 462.2h.1M257.5 471.3h.1M254.6 475.5h.1M258.8 469.1h.1M257.0 470.9h.1M255.2 467.1h.1M256.7 461.3h.1M253.4 474.2h.1M257.7 471.6h.1M257.1 467.6h.1M256.0 470.7h.1M252.7 465.6h.1M256.8 458.4h.1M253.4 473.8h.1M257.0 475.1h.1M253.2 476.0h.1M255.2 466.1h.1M258.8 468.5h.1M258.1 459.2h.1M257.9 460.9h.1M257.8 463.6h.1M257.2 458.4h.1M257.4 473.5h.1M256.0 471.2h.1M255.8 459.3h.1M254.1 472.1h.1M257.3 459.6h.1M254.2 466.5h.1M256.5 459.5h.1M256.8 473.5h.1M254.5 467.9h.1M253.9 477.0h.1M254.8 465.4h.1M254.3 470.2h.1M258.0 471.5h.1M257.4 467.5h.1M255.8 473.2h.1M257.3 471.0h.1M253.0 466.4h.1M254.1 469.3h.1M255.3 466.2h.1M255.9 469.1h.1M259.1 463.0h.1M255.2 460.4h.1M253.9 475.5h.1M257.2 457.1h.1M254.3 466.4h.1M258.0 460.2h.1M253.8 463.3h.1M252.5 473.1h.1M257.1 474.6h.1M257.4 463.2h.1M252.8 469.9h.1M253.1 470.4h.1M255.1 463.6h.1M254.3 468.7h.1M258.1 459.4h.1M254.7 459.6h.1M260.3 469.6h.1M256.4 459.4h.1M253.6 464.5h.1M256.0 459.3h.1M255.4 475.0h.1M256.0 467.8h.1M251.3 468.1h.1M255.6 463.1h.1M252.9 468.5h.1M253.7 465.1h.1M252.4 468.6h.1M257.9 460.8h.1M256.6 457.4h.1M257.2 469.8h.1M255.1 473.2h.1M254.0 468.6h.1M259.6 464.9h.1M253.4 475.7h.1M257.1 464.8h.1M251.9 457.8h.1M252.6 478.3h.1M256.6 461.5h.1M258.5 474.8h.1M254.1 471.2h.1M252.3 471.6h.1M259.9 456.2h.1M256.0 463.2h.1M255.7 467.9h.1M256.5 472.4h.1M257.1 473.0h.1M258.2 472.7h.1M254.4 470.6h.1M255.1 462.4h.1M260.2 466.6h.1M256.0 454.1h.1M255.4 472.3h.1M255.5 464.1h.1M259.2 463.4h.1M255.2 467.0h.1M255.4 474.0h.1M257.2 466.0h.1M255.1 466.2h.1M259.7 463.2h.1M257.4 456.6h.1M256.6 471.1h.1M258.7 467.6h.1M257.2 468.5h.1M258.3 478.6h.1M256.4 461.9h.1M257.2 465.8h.1M257.3 471.2h.1M256.3 464.3h.1M256.6 459.1h.1M256.5 461.3h.1M256.9 467.4h.1M255.4 460.0h.1M256.0 462.9h.1M255.6 471.7h.1M258.0 458.0h.1M258.0 474.5h.1M258.4 467.5h.1M255.7 478.1h.1M255.2 458.1h.1M256.1 468.9h.1M253.6 460.9h.1M260.3 465.4h.1M257.6 462.6h.1M252.6 468.0h.1M258.9 461.4h.1M252.0 468.3h.1M255.3 467.6h.1M253.6 466.6h.1M254.7 473.3h.1M256.3 472.4h.1M255.8 454.0h.1M251.6 472.9h.1M257.9 471.5h.1M255.8 456.2h.1M254.8 470.3h.1M259.0 463.3h.1M254.7 463.1h.1M258.2 471.3h.1M251.9 477.0h.1M253.9 459.2h.1M252.4 464.7h.1M261.0 480.2h.1M253.2 464.6h.1M256.3 469.6h.1M254.9 457.9h.1M255.0 463.5h.1M252.0 470.3h.1M252.7 458.2h.1M259.3 471.1h.1M259.1 466.1h.1M255.0 467.2h.1M252.9 473.5h.1M256.5 465.0h.1M251.8 468.8h.1M259.5 474.2h.1M257.9 463.9h.1M256.2 470.5h.1M256.4 473.5h.1M254.5 453.6h.1M250.6 464.5h.1M252.9 473.0h.1M258.3 465.9h.1M257.1 467.0h.1M256.3 464.0h.1M255.0 475.1h.1M255.3 467.3h.1M258.6 471.8h.1M255.1 469.3h.1M253.7 469.3h.1M256.6 466.8h.1M256.3 469.3h.1M250.4 465.2h.1M256.1 464.0h.1M253.8 466.9h.1M259.5 463.8h.1M254.5 465.0h.1M253.3 471.7h.1M253.8 474.1h.1M257.9 469.6h.1M258.2 465.4h.1M252.1 469.0h.1M257.3 456.8h.1M253.2 475.5h.1M256.9 475.0h.1M257.4 466.8h.1M256.9 471.9h.1M255.9 465.9h.1M256.6 464.8h.1M261.2 459.4h.1M252.6 461.0h.1M258.2 463.4h.1M256.3 465.7h.1M256.5 457.8h.1M256.1 463.5h.1M258.3 469.7h.1M253.1 462.7h.1M257.2 473.9h.1M257.6 465.3h.1M258.4 451.1h.1M254.7 461.8h.1M253.7 472.0h.1M256.5 468.6h.1M255.6 471.2h.1M257.7 462.6h.1M258.0 460.2h.1M259.8 456.9h.1M255.3 460.8h.1M256.0 475.3h.1M254.3 479.2h.1M259.1 467.8h.1M254.6 473.6h.1M249.6 466.0h.1M258.1 465.7h.1M261.4 459.9h.1M253.0 467.5h.1M257.2 477.1h.1M252.0 470.4h.1M258.7 461.4h.1M254.9 460.2h.1M257.6 471.4h.1M257.2 468.0h.1M258.1 465.2h.1M257.5 471.4h.1M258.8 468.8h.1M256.1 471.5h.1M252.5 458.1h.1M259.5 466.0h.1M253.6 464.9h.1M255.6 467.8h.1M254.2 474.4h.1M252.1 486.8h.1M253.5 478.9h.1M257.4 455.8h.1M253.2 469.1h.1M256.5 464.2h.1M256.0 468.2h.1M253.4 469.0h.1M261.0 460.3h.1M253.7 472.6h.1M258.9 472.0h.1M254.5 467.5h.1M256.4 465.6h.1M256.8 473.5h.1M257.2 466.4h.1M255.5 478.6h.1M253.2 481.3h.1M257.6 466.8h.1M254.3 479.6h.1M258.7 471.4h.1M260.6 453.3h.1M256.2 465.1h.1M254.3 468.6h.1M257.1 469.8h.1M255.6 459.1h.1M257.2 470.3h.1M260.7 470.3h.1M256.0 460.0h.1M262.1 459.5h.1M256.4 471.6h.1M257.1 474.9h.1M253.6 464.2h.1M256.3 459.2h.1M254.5 476.7h.1M256.6 466.2h.1M254.6 468.2h.1M255.9 460.5h.1M257.7 458.1h.1M258.8 463.4h.1M250.8 460.4h.1M256.6 461.3h.1M260.0 473.6h.1M260.7 470.1h.1M259.0 461.6h.1M258.9 462.8h.1M255.8 458.7h.1M256.1 469.7h.1M255.8 460.3h.1M258.0 471.8h.1M255.7 472.2h.1M258.2 459.7h.1M255.9 455.5h.1M253.6 471.2h.1M253.9 470.8h.1M256.8 453.7h.1M254.8 477.4h.1M256.0 467.9h.1M254.3 458.0h.1M252.3 487.4h.1M255.5 461.9h.1M256.2 454.8h.1M259.1 476.2h.1M254.2 470.2h.1M253.9 473.8h.1M254.0 467.4h.1M258.9 468.8h.1M255.2 458.0h.1M252.3 476.9h.1M257.1 466.9h.1M258.8 466.5h.1M254.3 467.5h.1M255.7 467.2h.1M261.6 467.6h.1M256.6 465.2h.1M254.4 461.8h.1M251.6 466.7h.1M252.4 457.4h.1M253.8 455.5h.1M259.1 473.3h.1M253.7 481.4h.1M257.4 450.3h.1M256.0 460.8h.1M251.9 467.8h.1M258.6 468.5h.1M252.6 464.9h.1M254.2 475.4h.1M255.7 461.1h.1M253.8 455.8h.1M254.0 474.0h.1M251.5 470.9h.1M255.7 472.5h.1M253.3 474.5h.1M259.5 479.7h.1M252.2 469.1h.1M255.4 468.2h.1M253.6 473.9h.1M261.3 473.7h.1M253.7 464.8h.1M257.6 467.1h.1M254.2 476.1h.1M257.1 473.0h.1M255.5 475.6h.1M254.8 460.7h.1M255.9 458.3h.1M258.8 470.2h.1M252.0 470.5h.1M257.9 463.8h.1M256.9 462.9h.1M255.8 466.7h.1M257.0 460.4h.1M253.3 470.8h.1M254.7 471.2h.1M254.8 459.5h.1M257.6 467.9h.1M257.6 464.1h.1M255.1 475.7h.1M252.0 480.5h.1M257.1 466.2h.1M256.1 470.9h.1M254.1 470.0h.1M253.7 456.6h.1M256.4 467.6h.1M257.4 469.9h.1M257.5 471.3h.1M253.5 476.3h.1M262.1 460.1h.1M253.0 473.2h.1M258.0 472.5h.1M259.5 456.3h.1M256.8 469.7h.1M258.8 459.9h.1M256.0 464.8h.1M255.5 466.5h.1M255.6 456.1h.1M255.8 467.7h.1M255.0 445.0h.1M254.3 463.9h.1M253.9 478.6h.1M258.0 464.8h.1M257.3 487.4h.1M253.7 471.5h.1M254.5 477.5h.1M258.5 465.0h.1M257.3 461.3h.1M252.2 474.7h.1M259.7 463.1h.1M254.7 456.4h.1M260.9 456.7h.1M253.7 467.2h.1M258.7 466.0h.1M255.9 467.4h.1M257.9 465.9h.1M256.3 466.5h.1M253.3 477.2h.1M254.3 459.7h.1M254.9 468.0h.1M257.8 456.7h.1M253.0 470.0h.1M256.8 459.7h.1M253.3 469.8h.1M255.6 457.0h.1M253.9 477.8h.1M253.5 475.3h.1M252.4 478.7h.1M259.6 461.0h.1M254.3 472.1h.1M253.0 472.3h.1M258.7 467.3h.1M256.7 465.8h.1M258.2 460.6h.1M259.6 465.0h.1M255.2 457.2h.1M254.9 469.3h.1M258.8 455.3h.1M255.6 463.0h.1M253.1 468.8h.1M254.1 473.8h.1M249.7 475.4h.1M251.5 457.2h.1M257.1 464.4h.1M256.2 460.8h.1M253.5 463.9h.1M255.8 461.9h.1M254.9 462.2h.1M256.4 459.6h.1M251.1 453.1h.1M255.9 467.8h.1M258.1 461.2h.1M253.3 459.2h.1M257.7 462.2h.1M258.2 465.4h.1M255.3 455.7h.1M254.3 473.1h.1M254.5 472.3h.1M252.1 475.8h.1M262.3 470.7h.1M256.6 458.9h.1M254.7 463.7h.1M256.3 454.0h.1M253.9 473.4h.1M256.2 471.8h.1M257.9 458.8h.1M252.8 471.9h.1" stroke="#ff1414" stroke-opacity="0.85" stroke-width="1.45" stroke-linecap="round" fill="none" filter="url(#sb)"/>
<line x1="224.70" y1="436.60" x2="224.70" y2="491.90" stroke="#3a3a3a" stroke-width="1.0"/>
<line x1="224.70" y1="491.90" x2="285.70" y2="491.90" stroke="#5a5a5a" stroke-width="1.0"/>
<line x1="244.00" y1="436.60" x2="244.00" y2="491.90" stroke="#a0a0a0" stroke-width="1.0"/>
<line x1="224.70" y1="470.30" x2="285.70" y2="470.30" stroke="#a0a0a0" stroke-width="1.0"/>
<text x="213.9" y="444.1" font-size="4.4" font-weight="bold" fill="#333">10<tspan font-size="3.6" dx="0.4" dy="-2.4">5</tspan></text>
<text x="213.9" y="458.0" font-size="4.4" font-weight="bold" fill="#333">10<tspan font-size="3.6" dx="0.4" dy="-2.4">4</tspan></text>
<text x="213.9" y="471.5" font-size="4.4" font-weight="bold" fill="#333">10<tspan font-size="3.6" dx="0.4" dy="-2.4">3</tspan></text>
<text x="213.9" y="485.9" font-size="4.4" font-weight="bold" fill="#333">10<tspan font-size="3.6" dx="0.4" dy="-2.4">2</tspan></text>
<text x="226.1" y="500.1" font-size="4.6" font-weight="bold" fill="#333">10<tspan font-size="3.8" dx="0.5" dy="-3">1</tspan></text>
<text x="237.3" y="500.1" font-size="4.6" font-weight="bold" fill="#333">10<tspan font-size="3.8" dx="0.5" dy="-3">2</tspan></text>
<text x="250.3" y="500.1" font-size="4.6" font-weight="bold" fill="#333">10<tspan font-size="3.8" dx="0.5" dy="-3">3</tspan></text>
<text x="263.2" y="500.1" font-size="4.6" font-weight="bold" fill="#333">10<tspan font-size="3.8" dx="0.5" dy="-3">4</tspan></text>
<text x="276.2" y="500.1" font-size="4.6" font-weight="bold" fill="#333">10<tspan font-size="3.8" dx="0.5" dy="-3">5</tspan></text>
<path d="M232.40,505.50L238.60,505.50L235.50,501.10Z" fill="#ee2020"/>
<text x="224.22" y="516.00" font-size="12.20" font-weight="bold" fill="#111">40.3%</text>
<path d="M88.2 558.7h.1M85.2 551.1h.1M87.5 534.6h.1M85.8 547.8h.1M88.7 544.8h.1M92.0 551.0h.1M87.4 540.6h.1M88.9 545.2h.1M90.6 543.4h.1M90.9 546.2h.1M89.0 547.1h.1M89.8 553.9h.1M87.5 544.1h.1M92.2 553.0h.1M92.3 553.0h.1M88.8 556.2h.1M87.3 546.4h.1M87.8 551.7h.1M86.9 547.6h.1M86.9 547.3h.1M90.7 553.7h.1M88.1 560.6h.1M87.2 550.6h.1M87.6 537.9h.1M86.3 554.3h.1M85.4 562.4h.1M88.3 549.7h.1M91.0 548.6h.1M87.3 545.5h.1M86.7 551.0h.1M87.7 550.9h.1M85.7 546.4h.1M92.6 550.1h.1M88.4 554.1h.1M89.1 555.7h.1M86.3 552.1h.1M86.5 551.7h.1M93.3 555.7h.1M86.9 550.4h.1M89.5 545.0h.1M89.0 543.3h.1M90.4 552.8h.1M88.2 551.7h.1M93.2 547.6h.1M84.9 550.0h.1M87.7 544.7h.1M90.3 553.2h.1M89.7 556.2h.1M87.3 546.4h.1M89.4 535.5h.1M83.2 550.1h.1M88.1 548.7h.1M86.7 549.5h.1M90.6 545.4h.1M89.7 547.7h.1M88.2 549.0h.1M91.5 550.9h.1M89.9 549.1h.1M84.4 552.9h.1M88.5 548.9h.1M87.6 541.0h.1M91.5 557.2h.1M91.6 539.6h.1M89.6 542.8h.1M88.2 545.9h.1M87.3 544.7h.1M87.6 552.1h.1M91.7 552.8h.1M88.5 547.7h.1M88.1 548.3h.1M87.3 547.6h.1M90.2 547.3h.1M87.0 547.8h.1M88.7 548.0h.1M88.0 551.8h.1M88.5 543.6h.1M89.7 545.0h.1M90.0 552.3h.1M89.5 549.9h.1M85.9 547.5h.1M90.9 562.2h.1M87.8 560.0h.1M86.8 560.9h.1M90.7 560.8h.1M94.6 562.5h.1M90.1 558.7h.1M89.5 562.7h.1M92.8 559.0h.1M90.3 559.2h.1M92.2 561.0h.1M88.8 557.9h.1M93.7 556.4h.1M86.1 551.6h.1M95.5 558.9h.1M92.6 562.0h.1M92.6 563.7h.1M89.4 560.4h.1M93.0 562.0h.1M88.7 558.2h.1M87.0 561.2h.1M89.2 555.9h.1M89.2 561.3h.1M91.0 559.8h.1M90.9 562.3h.1M87.6 558.1h.1M92.9 562.5h.1M87.1 558.3h.1M94.1 562.6h.1M90.2 563.3h.1M93.9 564.5h.1M87.1 556.7h.1M89.3 560.3h.1M89.7 561.1h.1M94.2 563.6h.1M93.0 560.4h.1M94.6 561.7h.1M91.1 560.4h.1M86.0 566.6h.1M90.5 563.0h.1M96.1 559.9h.1M87.7 563.3h.1M91.1 557.7h.1M92.9 560.4h.1M88.2 553.2h.1M88.1 561.5h.1M88.0 563.2h.1M96.0 561.3h.1M91.1 560.2h.1M92.7 560.5h.1M93.1 564.5h.1M92.6 557.7h.1M92.2 559.7h.1M91.3 563.2h.1M88.9 561.0h.1M94.2 558.0h.1M90.1 562.5h.1M90.0 563.3h.1M88.1 556.1h.1M91.5 560.0h.1M91.3 563.2h.1M93.1 559.4h.1M89.6 554.9h.1M88.1 561.1h.1M91.1 556.2h.1M92.5 560.3h.1M93.3 559.4h.1M92.9 557.2h.1M86.0 558.1h.1M92.3 561.6h.1M85.9 560.8h.1M81.8 561.3h.1M80.1 551.5h.1M86.8 559.8h.1M87.9 562.9h.1M91.0 552.2h.1M87.9 552.3h.1M94.2 550.4h.1M81.8 549.0h.1M83.0 562.0h.1M90.9 549.0h.1M86.1 564.0h.1M95.8 548.5h.1M95.5 544.7h.1M96.5 550.8h.1M95.7 544.1h.1M90.9 564.7h.1M93.3 556.6h.1M81.3 548.9h.1M95.5 563.3h.1M82.5 551.3h.1M89.5 550.4h.1M82.3 563.4h.1M80.5 558.0h.1M85.8 554.2h.1M94.2 560.6h.1M92.4 543.8h.1M93.1 561.6h.1M78.5 548.6h.1M91.6 563.4h.1M88.2 563.8h.1" stroke="#f05a5a" stroke-opacity="0.45" stroke-width="0.85" stroke-linecap="round" fill="none" filter="url(#sb)"/>
<path d="M62.0 564.4h.1M66.6 563.3h.1M73.6 555.5h.1M63.0 565.9h.1M61.3 563.7h.1M72.2 553.5h.1M65.2 556.6h.1M65.2 556.0h.1M57.7 572.3h.1M71.2 560.3h.1M64.7 559.4h.1M61.7 560.3h.1M63.0 564.3h.1M64.1 567.1h.1M60.3 557.8h.1M57.7 563.0h.1M61.7 563.8h.1M63.3 569.8h.1M63.6 560.2h.1M62.0 561.9h.1M62.3 567.4h.1M57.9 570.5h.1M72.4 564.9h.1M71.6 559.9h.1M63.2 565.4h.1M61.7 561.8h.1M66.6 557.2h.1M61.6 562.3h.1M66.0 568.4h.1M62.1 564.7h.1M66.3 566.3h.1M68.6 563.9h.1M60.2 568.4h.1M63.5 557.8h.1M69.7 562.9h.1M70.3 560.1h.1M67.1 562.0h.1M64.3 567.4h.1M63.8 566.6h.1M63.3 569.2h.1M66.7 556.1h.1M71.8 561.1h.1M61.0 563.5h.1M73.4 558.8h.1M66.0 565.2h.1M74.0 555.1h.1M69.2 554.7h.1M61.8 565.6h.1M63.8 566.4h.1M65.5 564.6h.1M62.8 566.0h.1M63.8 569.0h.1M64.0 563.5h.1M62.6 560.0h.1M73.8 559.8h.1M64.2 562.2h.1M69.9 559.3h.1M61.2 563.7h.1M71.2 561.0h.1M62.8 562.4h.1M69.9 561.7h.1M61.9 568.8h.1M67.9 558.0h.1M69.2 565.2h.1M62.3 560.0h.1M68.9 559.8h.1M62.5 563.9h.1M62.2 568.4h.1M58.1 569.7h.1M69.3 565.0h.1M67.1 563.3h.1M62.5 564.5h.1M62.9 560.9h.1M67.6 567.7h.1M64.9 562.4h.1M58.0 570.2h.1M62.3 562.6h.1M66.5 557.7h.1M67.2 552.9h.1M60.5 560.8h.1M62.3 568.2h.1M60.2 564.6h.1M68.4 558.7h.1M70.7 559.3h.1M63.1 561.0h.1M69.2 560.7h.1M61.2 562.2h.1M60.4 565.9h.1M60.0 569.5h.1M63.4 562.1h.1M65.8 568.5h.1M68.9 561.7h.1M67.6 556.1h.1M59.9 570.4h.1M63.1 564.9h.1M66.6 563.9h.1M65.8 561.2h.1M62.1 570.2h.1M61.1 560.3h.1M61.8 568.8h.1M72.4 559.7h.1M60.5 568.5h.1M65.0 568.0h.1M66.1 565.7h.1M66.1 564.5h.1M59.1 566.4h.1M71.4 564.7h.1M68.3 563.0h.1M63.0 566.0h.1M62.0 569.5h.1M62.1 562.4h.1M59.9 563.3h.1M65.6 570.0h.1M66.9 561.1h.1M66.4 559.6h.1M62.4 565.2h.1M63.7 567.3h.1M66.2 569.9h.1M67.7 560.8h.1M64.9 560.4h.1M60.6 564.8h.1M68.6 558.8h.1M57.8 567.2h.1M62.1 560.8h.1M59.8 565.1h.1M65.5 565.5h.1M70.1 559.5h.1M66.7 562.8h.1M58.3 565.1h.1M74.3 557.3h.1M71.7 562.6h.1M71.7 558.8h.1M68.2 560.5h.1M58.3 563.1h.1M65.8 556.9h.1M65.4 560.0h.1M65.4 558.1h.1M67.8 561.0h.1M64.0 557.9h.1M65.3 565.2h.1M60.5 571.5h.1M70.7 561.3h.1M65.9 564.8h.1M62.4 570.0h.1M61.1 556.4h.1M63.8 565.9h.1M67.7 557.7h.1M70.4 557.2h.1M66.7 565.2h.1M64.6 568.1h.1M66.1 561.3h.1M76.3 556.7h.1M71.2 557.6h.1M58.9 571.4h.1M64.0 560.5h.1M61.4 565.9h.1M68.5 567.4h.1M60.7 571.9h.1M63.0 566.3h.1M61.6 562.9h.1M65.1 567.7h.1M61.8 561.4h.1M66.4 565.1h.1M60.7 564.4h.1M72.2 557.7h.1M64.3 567.7h.1M71.8 560.8h.1M65.4 570.6h.1M61.8 558.7h.1M60.1 565.3h.1M70.0 561.7h.1M69.5 561.2h.1M63.9 562.0h.1M57.7 569.8h.1M65.5 565.4h.1M61.1 564.2h.1M65.5 565.5h.1M73.3 555.2h.1M68.5 564.8h.1M62.4 565.6h.1M63.4 570.2h.1M76.0 558.1h.1M62.5 568.6h.1M66.1 562.1h.1M67.4 565.4h.1M61.8 568.7h.1M62.2 565.8h.1M61.9 566.0h.1M63.5 567.3h.1M60.9 568.8h.1M59.7 561.1h.1M66.2 563.4h.1M68.0 554.4h.1M64.2 561.5h.1M62.8 563.3h.1M61.9 562.8h.1M68.6 554.8h.1M73.4 555.6h.1M59.3 562.5h.1M58.8 572.0h.1M67.0 565.7h.1M65.4 564.2h.1M60.9 562.3h.1M66.7 571.9h.1M61.9 570.2h.1M60.3 566.5h.1M71.9 559.1h.1M66.8 560.3h.1M72.8 554.2h.1M66.4 561.8h.1M64.7 565.1h.1M70.1 563.8h.1M68.8 562.6h.1M71.1 561.7h.1M67.6 561.1h.1M67.0 562.2h.1M60.7 566.5h.1M58.8 565.8h.1M71.4 558.5h.1M72.6 558.6h.1M65.7 559.6h.1M62.3 563.5h.1M66.6 562.3h.1M58.4 567.6h.1M58.6 563.7h.1" stroke="#f03030" stroke-opacity="0.6" stroke-width="1.0" stroke-linecap="round" fill="none" filter="url(#sb)"/>
<path d="M59.1 571.2h.1M59.2 569.9h.1M67.5 560.4h.1M65.6 563.7h.1M58.3 569.4h.1M64.6 562.4h.1M60.9 565.3h.1M58.9 567.7h.1M65.3 562.5h.1M66.9 561.7h.1M59.3 571.2h.1M67.6 560.4h.1M64.3 561.3h.1M60.4 566.3h.1M64.8 560.7h.1M60.0 565.7h.1M62.4 562.4h.1M62.8 561.3h.1M65.3 560.2h.1M67.0 560.4h.1M57.7 570.6h.1M70.0 562.3h.1M64.6 561.0h.1M66.0 563.8h.1M62.0 570.1h.1M58.7 571.6h.1M65.3 562.1h.1M62.5 566.2h.1M64.3 561.8h.1M61.1 567.1h.1M62.1 566.2h.1M63.0 565.0h.1M60.0 570.5h.1M59.5 567.1h.1M58.5 565.4h.1M63.8 564.8h.1M61.5 567.8h.1M61.3 568.6h.1M69.1 562.2h.1M61.0 571.6h.1M64.8 559.6h.1M67.3 563.1h.1M65.4 560.6h.1M58.7 566.7h.1M64.2 561.5h.1M59.2 570.8h.1M59.5 568.3h.1M58.5 563.9h.1M61.7 566.1h.1M65.2 566.4h.1M60.0 564.4h.1M61.6 566.9h.1M61.3 565.0h.1M58.1 566.9h.1M61.7 565.1h.1M68.6 560.8h.1M63.8 563.6h.1M61.3 564.0h.1M60.1 563.3h.1M57.8 570.3h.1M61.5 565.0h.1M64.9 562.6h.1M63.7 564.0h.1M65.8 566.2h.1M62.3 569.1h.1M64.0 569.2h.1M61.5 562.2h.1M62.8 566.3h.1M60.6 566.6h.1M60.9 563.4h.1M68.7 559.3h.1M57.8 564.7h.1M58.7 568.4h.1M67.8 563.8h.1M59.1 564.7h.1M57.6 569.0h.1M65.4 562.5h.1M68.3 567.2h.1M62.6 559.7h.1M66.3 562.9h.1M64.6 567.1h.1M58.0 569.1h.1M62.7 563.6h.1M64.7 563.9h.1M62.6 570.3h.1M61.4 569.5h.1M59.0 568.7h.1M66.2 557.2h.1M64.1 564.0h.1M66.3 563.7h.1M61.7 562.8h.1M73.5 556.1h.1M60.7 565.1h.1M60.8 567.6h.1M61.0 568.6h.1M60.8 565.9h.1M59.4 568.9h.1M63.6 562.3h.1M60.7 570.1h.1M65.4 563.5h.1M59.1 571.7h.1M60.3 568.5h.1M59.7 569.7h.1M68.8 561.9h.1M57.5 568.9h.1M61.6 565.5h.1M66.5 566.3h.1M69.8 562.2h.1M64.6 562.1h.1M59.6 570.4h.1M62.5 562.7h.1M59.7 559.2h.1M62.0 562.8h.1M61.8 563.0h.1M58.4 567.3h.1M72.8 555.3h.1M66.1 565.5h.1M64.7 563.4h.1M62.5 563.7h.1M61.3 564.4h.1M69.5 562.0h.1M59.0 568.0h.1M60.2 570.9h.1M61.9 564.5h.1M64.6 565.2h.1M59.3 565.9h.1M62.5 561.2h.1M58.4 571.5h.1M65.3 567.0h.1M60.2 565.8h.1M60.9 565.6h.1M67.0 562.1h.1M67.2 560.5h.1M63.4 569.7h.1M59.1 566.4h.1M59.6 563.3h.1M60.8 565.2h.1M70.6 558.9h.1M65.7 563.5h.1M63.1 567.4h.1M59.8 567.9h.1M62.5 570.5h.1M67.5 562.8h.1M61.7 569.6h.1M62.2 566.6h.1M64.5 562.4h.1M58.6 571.2h.1M64.6 566.6h.1M67.3 558.7h.1M65.7 557.9h.1M62.2 567.0h.1M66.0 566.4h.1M58.3 568.0h.1M61.3 564.7h.1M58.8 566.6h.1M66.4 566.9h.1M64.9 568.9h.1M62.3 562.9h.1M59.4 568.6h.1M66.0 566.8h.1M58.5 571.3h.1M59.9 569.3h.1M65.5 567.9h.1M59.9 568.3h.1M63.6 563.9h.1M62.3 567.6h.1M70.9 561.2h.1M59.8 562.6h.1M58.2 570.3h.1M64.6 565.6h.1M64.3 562.9h.1M68.2 558.7h.1M63.9 564.1h.1M60.9 569.0h.1M66.9 563.2h.1M59.4 567.4h.1M61.7 570.5h.1M65.3 568.3h.1M64.9 562.0h.1M65.6 566.4h.1M61.5 567.9h.1M60.7 563.6h.1M61.6 568.6h.1M60.5 560.9h.1M58.8 571.5h.1M62.8 568.8h.1M59.0 567.1h.1M58.0 566.8h.1M63.9 565.2h.1M60.1 568.4h.1M68.1 565.8h.1M66.8 561.2h.1M64.4 561.4h.1M59.8 568.4h.1M64.3 558.8h.1M61.5 567.0h.1M57.5 570.9h.1M62.4 563.8h.1M68.3 562.5h.1M64.8 569.4h.1M60.0 567.0h.1M63.6 572.1h.1M64.1 565.3h.1M62.4 566.8h.1M58.4 568.1h.1M58.8 570.2h.1M64.4 562.9h.1M60.2 564.0h.1M61.9 568.7h.1M64.2 568.8h.1M60.7 564.6h.1M66.0 566.0h.1M59.4 571.1h.1M61.9 566.2h.1M69.1 562.7h.1M63.2 564.5h.1M62.7 568.7h.1M63.7 562.9h.1M63.7 564.7h.1M63.1 564.9h.1M60.4 561.1h.1M64.6 563.1h.1M63.2 559.0h.1M62.9 568.3h.1M62.7 562.0h.1M65.7 562.1h.1M59.7 568.4h.1M63.7 561.5h.1M61.9 566.4h.1M67.5 565.9h.1M71.9 557.4h.1M58.4 569.7h.1M68.2 559.0h.1M60.6 565.1h.1M64.0 565.9h.1M61.8 568.2h.1M58.9 567.3h.1M63.8 570.7h.1M61.8 566.5h.1M67.1 562.9h.1M67.0 563.4h.1M66.4 563.6h.1M58.3 566.3h.1M63.6 570.4h.1M69.2 560.2h.1M71.7 556.2h.1M58.6 571.2h.1M63.4 567.0h.1M65.6 563.5h.1M66.0 563.5h.1M63.3 564.4h.1M63.9 562.7h.1M67.1 562.0h.1M58.9 571.9h.1M61.3 562.4h.1M60.2 564.9h.1M61.2 564.2h.1M62.2 567.4h.1M59.7 567.2h.1M61.3 569.0h.1M59.1 570.4h.1M66.8 562.3h.1M58.1 568.0h.1M60.5 568.7h.1M62.4 567.1h.1M61.8 567.2h.1M57.5 571.2h.1M67.0 565.8h.1M61.1 565.5h.1M59.0 567.6h.1M61.9 563.5h.1M62.2 566.8h.1M64.0 564.7h.1M65.9 564.4h.1M64.2 557.1h.1M61.3 567.8h.1M62.1 566.4h.1M61.3 570.6h.1M63.4 564.4h.1M58.6 567.1h.1M63.2 565.8h.1M63.1 569.3h.1M66.4 564.3h.1M62.1 565.9h.1M61.0 569.7h.1M60.1 564.7h.1M59.1 571.7h.1M59.7 565.0h.1M60.4 570.4h.1M69.2 560.3h.1M58.8 567.6h.1M63.8 567.6h.1M58.2 570.2h.1M61.8 569.6h.1M60.3 566.8h.1M58.6 564.8h.1M63.0 567.5h.1M66.4 563.9h.1M60.1 564.9h.1M63.3 565.6h.1M60.8 564.0h.1M61.9 567.8h.1M57.9 565.2h.1M60.7 567.9h.1M60.9 571.4h.1M62.5 563.0h.1M65.0 562.2h.1M64.7 564.6h.1M66.8 560.0h.1M64.8 565.4h.1M58.4 570.7h.1M70.9 561.0h.1M58.9 567.9h.1M67.1 563.4h.1M67.8 560.3h.1M67.1 558.1h.1M61.3 565.8h.1M60.0 571.1h.1M59.6 568.9h.1M69.3 563.4h.1M60.3 565.3h.1M65.5 566.9h.1M62.9 571.7h.1M65.0 557.5h.1M58.5 571.0h.1M60.4 569.7h.1M72.1 556.9h.1M70.7 559.9h.1M65.6 562.1h.1M68.2 559.3h.1M61.2 569.4h.1M61.1 565.2h.1M61.9 568.1h.1M68.8 565.3h.1M69.4 560.9h.1M60.3 564.5h.1M59.9 567.5h.1M62.2 568.7h.1M58.3 572.0h.1M62.2 568.2h.1M66.9 559.2h.1M68.3 559.7h.1M63.6 568.2h.1M65.6 559.2h.1M62.6 569.0h.1M61.5 566.3h.1M62.3 570.7h.1M59.8 565.0h.1M57.6 567.8h.1M61.0 567.9h.1M61.7 561.5h.1M64.9 560.3h.1M65.7 556.6h.1M71.2 561.4h.1M61.9 565.0h.1M60.5 566.6h.1M61.6 563.9h.1M59.7 569.4h.1M64.1 560.9h.1M60.0 572.1h.1M64.8 568.9h.1M60.5 564.3h.1M57.6 567.3h.1M61.2 569.1h.1M64.2 559.6h.1M67.9 561.1h.1M58.0 568.9h.1M60.4 563.4h.1M68.2 560.2h.1M59.6 569.4h.1M68.7 562.9h.1M58.4 570.0h.1M66.4 564.2h.1M64.6 563.0h.1M61.7 561.6h.1M59.1 565.0h.1M62.0 570.5h.1M58.3 568.6h.1M66.7 560.7h.1M58.9 571.9h.1M63.5 566.7h.1M65.3 561.7h.1M62.9 563.7h.1M59.1 568.6h.1M63.7 561.3h.1M58.9 570.1h.1M62.7 567.6h.1M60.7 564.8h.1M65.1 565.7h.1M58.9 570.3h.1M68.3 561.0h.1M58.1 569.7h.1M62.4 567.6h.1M65.6 565.7h.1M64.5 567.9h.1M58.7 572.0h.1M62.8 562.8h.1M60.8 567.8h.1M63.3 569.1h.1M62.8 564.2h.1M70.8 559.1h.1M58.7 571.2h.1M60.3 565.1h.1M57.7 569.5h.1M60.2 566.9h.1M58.7 568.9h.1M64.4 567.5h.1M60.6 563.9h.1M62.1 566.5h.1M59.0 570.2h.1M60.4 569.1h.1M64.1 559.2h.1M61.1 570.5h.1M59.9 568.0h.1M61.5 563.1h.1M70.8 559.7h.1M64.6 563.1h.1M67.6 565.6h.1M66.7 565.6h.1M64.8 568.2h.1M63.6 565.5h.1M65.2 561.4h.1M62.6 563.8h.1M60.9 564.2h.1M58.6 569.1h.1M62.5 568.3h.1M61.6 568.3h.1M64.7 562.3h.1M61.0 565.4h.1M70.9 558.1h.1M63.9 562.7h.1M64.8 560.7h.1M65.8 564.1h.1M60.4 563.9h.1M68.7 559.9h.1M67.8 555.3h.1M69.2 561.3h.1M66.0 565.2h.1M60.6 567.6h.1M62.5 568.0h.1M62.6 562.3h.1M65.4 564.1h.1M65.0 563.3h.1M60.9 570.0h.1M67.5 558.9h.1M57.6 572.1h.1M63.4 565.4h.1M58.1 571.9h.1M62.8 566.3h.1M63.6 563.7h.1M63.6 565.5h.1M64.9 565.3h.1M60.9 570.3h.1M59.4 571.3h.1M66.3 565.7h.1M71.1 559.9h.1M63.3 568.8h.1M63.6 567.9h.1M61.5 570.6h.1M63.4 559.8h.1M66.4 562.6h.1M58.5 567.9h.1M60.9 570.3h.1M63.3 565.1h.1M61.9 563.7h.1M59.4 566.7h.1M61.1 563.6h.1M60.4 570.2h.1M63.8 565.0h.1M63.4 564.6h.1M71.0 561.4h.1M64.8 571.3h.1M60.6 566.4h.1M63.6 560.6h.1M61.1 565.5h.1M58.0 570.9h.1M68.6 562.8h.1M66.1 565.5h.1M61.7 568.1h.1M67.3 561.3h.1M61.4 562.7h.1M65.6 564.8h.1M63.0 569.2h.1M62.3 568.2h.1M67.5 560.1h.1M58.5 569.8h.1M61.8 564.7h.1M61.5 564.5h.1M62.5 564.8h.1M68.8 558.5h.1M64.3 564.8h.1M68.4 559.0h.1M59.4 567.0h.1M60.4 564.6h.1M66.9 567.1h.1M61.4 564.5h.1M59.9 569.3h.1M64.5 565.7h.1M62.5 565.8h.1M60.6 565.9h.1M62.6 567.3h.1M65.7 563.0h.1M66.9 560.2h.1M69.7 563.6h.1M67.8 566.7h.1M63.9 567.9h.1M62.3 562.4h.1M66.9 562.3h.1M63.8 564.1h.1M61.5 562.7h.1M64.7 562.6h.1M61.9 569.0h.1M65.3 560.5h.1M61.3 566.7h.1M62.4 563.0h.1M62.3 568.8h.1M67.0 566.9h.1M65.0 557.0h.1M60.9 565.5h.1M65.7 563.7h.1M63.4 566.6h.1M61.1 570.7h.1M69.3 563.4h.1M59.8 568.5h.1M65.9 565.5h.1M59.2 570.9h.1M64.9 565.8h.1M60.3 567.3h.1M60.2 566.6h.1M60.9 566.1h.1M62.3 566.3h.1M59.5 567.6h.1M61.6 567.9h.1M63.8 564.0h.1M58.7 563.9h.1M61.4 565.6h.1M61.4 565.1h.1M59.5 568.2h.1M61.6 563.9h.1M66.1 564.4h.1M66.4 561.3h.1M68.3 560.5h.1M62.8 564.2h.1M61.4 571.1h.1M62.5 563.3h.1M64.8 567.9h.1M65.6 565.8h.1M61.3 569.5h.1M58.8 565.1h.1M61.0 566.3h.1M66.9 560.0h.1M66.6 560.8h.1M61.9 562.2h.1M62.9 565.8h.1M60.4 561.9h.1M59.9 568.9h.1M62.1 564.6h.1M62.8 567.5h.1M61.9 564.1h.1M65.2 562.1h.1M63.5 568.0h.1M67.2 567.0h.1M66.1 563.8h.1M61.2 567.3h.1M64.6 562.0h.1M68.1 557.5h.1M66.0 559.8h.1M57.6 567.9h.1M60.9 563.2h.1M64.5 564.2h.1M67.4 559.6h.1M61.1 569.6h.1M62.4 571.5h.1M60.2 571.5h.1M68.3 557.9h.1M59.6 562.7h.1M58.6 565.9h.1M63.7 568.2h.1M71.6 558.5h.1M65.3 564.5h.1M62.5 571.3h.1M64.8 568.7h.1M63.2 567.8h.1M64.0 564.5h.1M59.2 567.0h.1M62.1 565.1h.1M60.6 565.2h.1M65.4 563.1h.1M61.5 565.9h.1M67.3 561.0h.1M67.7 559.8h.1M68.1 563.6h.1M60.0 568.9h.1M66.6 560.3h.1M61.1 567.7h.1M61.2 566.0h.1M62.1 567.0h.1M65.1 568.2h.1M60.7 572.1h.1M61.5 562.5h.1M60.3 566.5h.1M66.3 557.5h.1M59.5 567.6h.1M64.6 565.5h.1M65.4 563.4h.1M61.1 570.3h.1M68.9 562.5h.1M62.6 563.4h.1M70.4 561.4h.1M64.5 559.9h.1M64.4 571.4h.1M61.4 566.1h.1M68.2 561.4h.1M65.4 569.3h.1M64.7 564.6h.1M62.2 565.6h.1M62.5 566.9h.1M60.1 566.8h.1M62.9 562.5h.1M63.8 558.8h.1M64.6 564.1h.1M59.1 571.7h.1M61.8 570.9h.1M61.1 569.7h.1M60.7 561.8h.1M63.6 566.5h.1M63.6 569.8h.1M59.1 564.2h.1M63.0 563.5h.1M61.6 566.5h.1M58.8 571.6h.1M61.5 571.6h.1M63.0 568.5h.1M60.9 565.1h.1M59.9 565.2h.1M63.8 565.3h.1M57.7 564.9h.1M58.6 563.4h.1M58.5 564.4h.1M64.8 561.0h.1M59.7 567.5h.1M62.1 567.3h.1M65.1 565.9h.1M60.6 570.7h.1M63.5 563.2h.1M68.0 558.7h.1M63.9 568.4h.1M62.5 566.9h.1M62.5 567.7h.1M62.9 565.6h.1M64.8 558.9h.1M63.0 564.6h.1M69.8 561.6h.1M59.4 569.9h.1M60.5 563.9h.1M60.9 568.4h.1M66.7 565.9h.1M62.9 565.1h.1M62.8 569.1h.1M61.5 569.8h.1M58.9 568.4h.1M65.1 566.0h.1M62.8 564.2h.1M58.7 567.4h.1M68.3 559.6h.1M65.4 563.8h.1M57.6 569.6h.1M65.0 560.8h.1M57.4 568.3h.1M64.9 562.5h.1M63.7 566.3h.1M62.1 567.4h.1M67.0 562.1h.1M63.3 562.3h.1M59.2 567.9h.1M65.2 562.0h.1M71.4 552.4h.1M57.8 569.5h.1M63.9 562.2h.1M63.3 568.4h.1M60.9 569.0h.1M62.5 563.2h.1M59.6 566.2h.1M67.3 565.8h.1M63.0 561.1h.1M60.1 566.4h.1M63.1 561.7h.1M60.3 566.1h.1M69.3 563.0h.1M65.0 564.3h.1M59.4 562.6h.1M64.9 563.2h.1M62.0 567.6h.1M65.3 563.4h.1M70.2 558.8h.1M64.9 563.0h.1M68.1 560.1h.1M66.3 560.9h.1M65.8 563.3h.1M63.4 563.7h.1M61.3 564.2h.1M66.3 562.9h.1M62.7 564.3h.1M63.0 564.8h.1M66.9 562.4h.1M65.3 560.3h.1M64.2 561.2h.1M63.8 563.6h.1M69.5 558.8h.1M63.5 564.2h.1M59.4 570.0h.1M61.0 567.2h.1M69.2 561.6h.1M65.7 563.6h.1M64.9 564.5h.1M63.9 562.3h.1M67.2 560.6h.1M68.2 559.3h.1M66.9 560.0h.1M65.7 566.0h.1M62.5 562.5h.1M60.9 565.3h.1M71.2 557.9h.1M69.0 559.9h.1M64.0 566.9h.1M69.5 556.8h.1M62.9 565.0h.1M68.1 560.4h.1M67.0 562.4h.1M64.9 564.6h.1M63.3 565.3h.1M68.9 560.5h.1M64.9 562.9h.1M58.9 567.5h.1M61.4 562.0h.1M68.5 559.0h.1M67.1 561.5h.1M60.4 564.5h.1M65.1 563.6h.1M66.2 560.0h.1M64.3 563.5h.1M61.9 564.2h.1M64.3 559.9h.1M71.5 559.9h.1M64.5 564.8h.1M62.7 567.0h.1M64.8 563.2h.1M64.2 563.6h.1M67.1 561.5h.1M63.4 565.2h.1M67.8 561.0h.1M69.4 558.7h.1M70.1 559.2h.1M70.9 558.2h.1M65.2 563.1h.1M69.5 562.2h.1M64.5 562.0h.1M68.4 562.6h.1M68.3 560.1h.1M70.1 559.4h.1M66.5 562.9h.1M64.2 559.7h.1M66.7 562.9h.1M67.4 562.1h.1M66.5 563.6h.1M66.4 564.4h.1M66.2 563.4h.1M64.2 563.9h.1M67.4 561.5h.1M70.9 558.9h.1M69.6 560.3h.1M69.5 558.3h.1M64.8 564.6h.1M63.4 564.6h.1M67.8 561.3h.1M67.4 562.1h.1M65.3 563.4h.1M64.4 562.6h.1M60.9 565.5h.1M60.6 565.9h.1M66.7 559.9h.1M66.2 562.5h.1M64.9 561.4h.1M65.6 563.1h.1M69.0 563.4h.1M59.7 567.0h.1M67.4 560.2h.1M67.0 565.0h.1M66.4 564.2h.1M69.4 559.2h.1M58.6 569.1h.1M70.9 555.9h.1M65.4 561.5h.1M66.7 561.9h.1M69.7 558.7h.1M72.2 555.2h.1M66.7 566.2h.1M65.7 563.5h.1M64.5 568.7h.1M68.9 559.7h.1M59.9 566.7h.1M68.3 557.2h.1M64.4 564.2h.1M58.3 567.1h.1M60.9 563.4h.1M67.3 563.2h.1M69.7 558.6h.1M67.6 558.2h.1M61.3 566.3h.1M64.7 561.4h.1M60.0 565.9h.1M73.1 554.0h.1M62.7 566.3h.1M59.9 565.3h.1M66.2 563.9h.1M65.8 565.4h.1M65.9 562.1h.1M67.4 561.8h.1M61.2 563.9h.1M65.3 563.3h.1M62.1 563.7h.1M63.6 564.4h.1M64.6 564.1h.1M67.2 559.8h.1M65.1 560.8h.1M66.3 563.3h.1M62.8 561.4h.1M67.7 560.6h.1M65.9 563.0h.1M67.2 562.9h.1M64.5 559.5h.1M64.4 562.7h.1M64.7 563.7h.1M65.2 564.9h.1M64.0 563.6h.1M64.9 566.5h.1M62.9 562.6h.1M64.8 564.3h.1M66.0 561.9h.1M61.3 561.9h.1M65.3 562.3h.1M71.7 559.0h.1M67.4 562.9h.1M63.1 562.1h.1M64.8 565.5h.1M69.2 559.1h.1M62.0 566.5h.1M69.5 558.0h.1M71.2 557.4h.1M68.4 560.2h.1M64.9 561.9h.1M68.2 561.7h.1M68.6 560.0h.1M63.3 567.6h.1M71.5 558.1h.1M62.3 567.2h.1M66.4 562.0h.1M68.7 560.9h.1M66.4 565.3h.1M59.9 567.4h.1M62.8 564.5h.1M65.5 563.0h.1M58.2 568.6h.1M73.5 556.4h.1M68.9 561.3h.1M67.0 560.7h.1M68.1 561.3h.1M70.7 560.4h.1M63.7 558.9h.1M70.9 559.7h.1M66.6 560.8h.1M74.1 558.9h.1M66.3 561.4h.1M67.9 563.2h.1M67.7 562.6h.1M66.9 562.2h.1M61.9 565.2h.1M66.2 562.0h.1M65.2 563.2h.1M64.1 563.1h.1M61.8 569.0h.1M63.1 562.2h.1M64.3 562.7h.1M62.5 560.5h.1M71.3 560.3h.1M64.8 564.0h.1M62.4 561.9h.1M67.1 562.4h.1M63.8 563.7h.1M69.4 560.1h.1M66.6 562.8h.1M59.2 564.7h.1M61.9 565.4h.1M64.0 560.4h.1M68.9 559.9h.1M69.2 563.4h.1M60.6 563.7h.1M69.5 562.2h.1M67.3 561.9h.1M68.3 561.8h.1M61.8 566.3h.1M69.2 559.3h.1M63.0 563.4h.1M64.1 564.4h.1M68.5 560.5h.1M65.0 559.9h.1M64.6 561.5h.1M64.2 564.0h.1M66.5 567.7h.1M63.1 563.2h.1M62.2 564.3h.1M65.1 564.5h.1M59.6 568.1h.1M68.1 559.9h.1M63.8 564.1h.1M67.7 560.8h.1M65.5 562.6h.1M62.4 565.1h.1M67.9 561.0h.1M62.3 564.7h.1M65.6 563.0h.1M64.6 564.5h.1M69.5 561.2h.1M66.8 563.7h.1M65.9 562.0h.1M61.3 565.4h.1M70.0 557.9h.1M68.5 558.4h.1M67.0 564.6h.1M66.1 560.2h.1M66.9 561.3h.1M68.6 559.6h.1M60.3 565.3h.1M67.9 562.6h.1M66.9 561.6h.1M68.2 560.4h.1M64.5 563.6h.1M69.6 558.9h.1M67.6 560.0h.1M63.6 564.1h.1M61.6 563.8h.1M62.1 563.9h.1M63.0 568.1h.1M68.0 561.0h.1M61.6 561.3h.1M67.4 560.2h.1M69.4 559.2h.1M61.7 564.1h.1M61.0 563.3h.1M68.3 559.8h.1M68.2 559.8h.1M65.2 561.8h.1M64.2 562.3h.1M70.9 558.8h.1M59.6 569.3h.1M70.1 561.3h.1M65.6 562.2h.1M64.4 563.5h.1M67.5 561.2h.1M63.3 562.5h.1M71.4 561.3h.1M61.9 563.9h.1M65.8 563.3h.1M65.6 562.9h.1M67.2 563.3h.1M61.7 566.9h.1M67.4 562.1h.1M61.0 565.2h.1M65.1 563.9h.1M68.2 561.8h.1M61.7 567.2h.1M66.2 563.6h.1M65.9 561.1h.1M74.6 557.5h.1M68.5 559.8h.1M65.2 564.5h.1M67.4 564.1h.1M69.9 557.8h.1M60.9 567.6h.1M67.9 560.5h.1M65.0 562.0h.1M71.9 558.0h.1M61.4 566.8h.1M65.7 563.0h.1M64.7 563.0h.1M59.8 567.3h.1M63.7 563.1h.1M67.0 563.6h.1M58.9 566.8h.1M67.8 562.7h.1M63.0 564.8h.1M67.3 562.9h.1M58.3 567.7h.1M65.5 566.6h.1M60.4 569.3h.1M64.6 571.6h.1M58.1 565.8h.1M60.4 562.5h.1M62.2 568.9h.1M58.2 567.3h.1M60.7 568.4h.1M61.2 560.8h.1M71.0 567.6h.1M59.6 563.9h.1M57.8 570.2h.1M65.3 572.2h.1M59.2 561.4h.1M62.6 570.7h.1M59.6 566.7h.1M68.3 562.1h.1M58.8 566.0h.1M62.0 562.2h.1M60.3 570.3h.1M58.2 567.3h.1M63.9 567.8h.1M64.0 566.1h.1M59.6 567.1h.1M60.2 570.3h.1M59.6 565.5h.1M61.5 567.5h.1M61.1 569.4h.1M66.0 566.8h.1M67.9 557.7h.1M67.5 569.2h.1M62.1 564.4h.1M66.5 563.8h.1M57.6 568.5h.1M61.9 569.8h.1M64.1 570.1h.1M59.8 566.3h.1M58.8 568.1h.1M63.1 566.4h.1M69.5 564.5h.1M64.3 567.6h.1M60.3 566.9h.1M67.3 567.3h.1M63.2 568.9h.1M64.1 570.8h.1M67.8 565.6h.1M66.3 568.7h.1M59.7 569.5h.1M66.4 565.4h.1M67.0 568.2h.1M59.4 566.9h.1M63.9 568.6h.1M61.7 570.1h.1M67.6 570.8h.1M67.5 568.2h.1M62.4 565.9h.1M63.4 565.1h.1M62.9 566.0h.1M61.5 571.6h.1M59.9 561.1h.1M67.1 567.7h.1M58.2 572.2h.1M65.7 565.7h.1M65.6 567.3h.1M60.0 568.7h.1M65.5 568.7h.1M63.5 570.6h.1M68.0 562.2h.1M65.2 572.1h.1M59.6 568.5h.1M66.3 570.7h.1M58.9 566.6h.1M65.5 564.7h.1M60.4 562.9h.1M57.7 565.9h.1M58.5 570.8h.1M58.8 564.8h.1M65.0 568.7h.1M66.5 565.7h.1M58.8 565.2h.1M61.6 566.3h.1M64.7 565.2h.1M62.1 569.4h.1M58.5 566.7h.1M57.6 567.8h.1M59.0 570.7h.1M61.0 570.7h.1M67.8 567.4h.1M59.7 570.0h.1M69.7 567.1h.1M66.5 568.7h.1M58.8 558.9h.1M57.5 566.6h.1M60.8 571.5h.1M63.8 570.5h.1M66.0 568.6h.1M58.5 568.3h.1M60.0 565.7h.1M60.9 565.8h.1M63.6 565.9h.1M63.0 569.7h.1M61.6 570.5h.1M58.0 571.4h.1M61.0 566.8h.1M59.8 570.7h.1M65.2 567.8h.1M59.9 563.9h.1M62.0 571.9h.1M59.3 571.1h.1M61.5 566.6h.1M71.6 570.6h.1M62.0 571.0h.1M67.3 558.9h.1M68.7 569.1h.1M61.5 570.0h.1M59.5 567.3h.1M65.4 561.6h.1M60.5 570.7h.1M67.4 569.9h.1M63.9 571.3h.1M61.9 569.9h.1M57.5 567.6h.1M68.7 563.6h.1M60.3 563.4h.1M58.7 565.4h.1M68.5 558.3h.1M60.3 560.1h.1M60.4 570.0h.1M61.6 561.6h.1M67.3 564.7h.1M60.6 569.8h.1M67.2 561.7h.1M60.3 563.4h.1M62.6 563.2h.1M63.4 568.2h.1M61.6 563.1h.1M60.0 570.4h.1M63.7 568.2h.1M59.9 570.2h.1M66.5 559.7h.1M65.1 570.1h.1M66.6 570.8h.1M71.7 571.7h.1M59.1 566.3h.1M62.8 572.2h.1M67.1 571.0h.1M66.2 567.5h.1M60.3 566.6h.1M59.5 569.9h.1M60.8 567.7h.1M62.1 567.3h.1M62.4 566.0h.1M68.9 565.2h.1M58.7 569.5h.1M67.5 569.2h.1M57.9 568.9h.1M62.2 566.8h.1M59.7 565.2h.1M63.4 569.2h.1M62.4 566.4h.1M63.1 567.2h.1M62.2 567.8h.1M58.2 564.0h.1M60.1 563.7h.1M66.2 563.7h.1M60.6 565.9h.1M64.2 562.6h.1M62.3 569.3h.1M63.4 570.2h.1M61.6 561.3h.1M59.6 564.6h.1M63.2 567.5h.1M64.5 562.4h.1M58.6 567.9h.1M65.3 562.0h.1M61.3 566.6h.1M63.1 563.0h.1M65.0 566.6h.1M59.7 572.3h.1M61.7 564.8h.1M59.7 562.9h.1M66.0 569.1h.1M65.1 563.9h.1M64.6 563.6h.1M62.2 568.4h.1M58.5 569.7h.1M61.1 564.9h.1M57.9 563.1h.1M66.8 569.0h.1M59.5 571.2h.1M62.3 569.0h.1M68.3 562.1h.1M73.9 563.9h.1M60.7 563.0h.1M71.3 564.6h.1M58.4 569.5h.1M64.4 559.6h.1M59.7 567.2h.1M58.8 567.9h.1M58.8 564.2h.1M64.4 564.9h.1M67.0 570.4h.1M57.6 570.9h.1M58.6 570.7h.1M61.0 563.4h.1M62.7 571.2h.1M58.2 566.8h.1M66.9 560.0h.1M64.2 561.3h.1M58.3 566.7h.1M60.2 568.2h.1M63.1 570.2h.1M63.1 561.3h.1M63.1 569.7h.1M63.5 568.2h.1M62.7 563.1h.1M65.8 563.5h.1M60.7 567.2h.1M64.3 567.2h.1M68.5 571.7h.1M59.1 568.1h.1M58.3 568.4h.1M61.1 565.9h.1M59.1 566.5h.1M58.6 566.4h.1M66.5 571.2h.1M62.8 569.9h.1M67.3 571.3h.1M61.9 569.5h.1M61.8 568.5h.1M59.9 559.3h.1M63.4 568.6h.1M65.1 569.7h.1M59.8 570.9h.1M61.8 566.6h.1M59.4 566.7h.1M59.7 566.6h.1M59.0 567.8h.1M57.9 562.8h.1M57.4 566.3h.1M61.6 567.0h.1M67.4 564.8h.1M57.6 566.1h.1M58.8 569.1h.1M61.4 569.0h.1M63.0 567.2h.1M61.6 562.8h.1M62.0 565.7h.1M58.2 566.6h.1M60.6 566.0h.1M61.5 568.8h.1M62.1 571.1h.1M65.5 570.2h.1M63.6 569.3h.1M62.6 572.2h.1M59.9 571.8h.1M64.6 570.1h.1M62.1 563.2h.1M65.6 564.8h.1M58.3 564.9h.1M63.3 564.5h.1M62.9 570.7h.1M61.4 567.0h.1M59.1 564.1h.1M58.5 564.8h.1M60.0 567.8h.1M57.6 566.7h.1M64.6 561.0h.1M59.8 572.1h.1M62.3 564.6h.1M65.2 565.9h.1M62.5 566.8h.1M60.1 569.0h.1M66.5 561.5h.1M65.1 567.6h.1M60.2 570.5h.1M67.6 564.7h.1M64.2 563.0h.1M65.7 572.2h.1M64.3 565.0h.1M62.1 571.2h.1M59.8 568.4h.1M62.9 571.4h.1M60.2 566.3h.1M61.4 554.5h.1M62.4 566.1h.1M58.7 570.5h.1M58.5 562.8h.1M64.1 567.6h.1M60.9 568.2h.1M65.6 567.9h.1M63.7 564.7h.1M66.3 564.5h.1M60.6 569.7h.1M59.7 568.5h.1M63.7 567.9h.1M63.0 571.8h.1M58.8 569.1h.1M61.9 566.1h.1M57.8 567.6h.1M59.7 566.7h.1M63.7 568.7h.1M68.2 571.9h.1M59.5 565.7h.1M63.1 566.9h.1" stroke="#ff1414" stroke-opacity="0.85" stroke-width="1.45" stroke-linecap="round" fill="none" filter="url(#sb)"/>
<line x1="56.50" y1="518.40" x2="56.50" y2="573.30" stroke="#3a3a3a" stroke-width="1.0"/>
<line x1="56.50" y1="573.30" x2="117.50" y2="573.30" stroke="#5a5a5a" stroke-width="1.0"/>
<line x1="75.80" y1="518.40" x2="75.80" y2="573.30" stroke="#a0a0a0" stroke-width="1.0"/>
<line x1="56.50" y1="552.10" x2="117.50" y2="552.10" stroke="#a0a0a0" stroke-width="1.0"/>
<text x="45.7" y="525.9" font-size="4.4" font-weight="bold" fill="#333">10<tspan font-size="3.6" dx="0.4" dy="-2.4">5</tspan></text>
<text x="45.7" y="539.8" font-size="4.4" font-weight="bold" fill="#333">10<tspan font-size="3.6" dx="0.4" dy="-2.4">4</tspan></text>
<text x="45.7" y="553.3" font-size="4.4" font-weight="bold" fill="#333">10<tspan font-size="3.6" dx="0.4" dy="-2.4">3</tspan></text>
<text x="45.7" y="567.7" font-size="4.4" font-weight="bold" fill="#333">10<tspan font-size="3.6" dx="0.4" dy="-2.4">2</tspan></text>
<text x="57.9" y="581.5" font-size="4.6" font-weight="bold" fill="#333">10<tspan font-size="3.8" dx="0.5" dy="-3">1</tspan></text>
<text x="69.1" y="581.5" font-size="4.6" font-weight="bold" fill="#333">10<tspan font-size="3.8" dx="0.5" dy="-3">2</tspan></text>
<text x="82.1" y="581.5" font-size="4.6" font-weight="bold" fill="#333">10<tspan font-size="3.8" dx="0.5" dy="-3">3</tspan></text>
<text x="95.0" y="581.5" font-size="4.6" font-weight="bold" fill="#333">10<tspan font-size="3.8" dx="0.5" dy="-3">4</tspan></text>
<text x="108.0" y="581.5" font-size="4.6" font-weight="bold" fill="#333">10<tspan font-size="3.8" dx="0.5" dy="-3">5</tspan></text>
<path d="M63.40,585.40L69.60,585.40L66.50,581.00Z" fill="#ee2020"/>
<text x="55.08" y="596.50" font-size="12.20" font-weight="bold" fill="#111">95.4%</text>
<path d="M152.7 547.1h.1M165.0 543.5h.1M161.9 540.9h.1M146.6 543.9h.1M144.2 548.7h.1M156.7 546.3h.1M151.1 537.1h.1M153.8 544.2h.1M153.8 540.7h.1M155.6 541.7h.1M163.7 537.4h.1M156.8 537.0h.1M154.8 544.0h.1M157.2 543.4h.1M150.4 537.7h.1M161.0 540.9h.1M146.6 548.2h.1M159.7 532.5h.1M171.1 542.0h.1M145.1 546.3h.1M157.1 546.6h.1M155.2 536.7h.1M154.1 541.0h.1M156.9 541.7h.1M158.6 538.0h.1M151.7 540.8h.1M157.7 536.4h.1M155.1 550.7h.1M143.9 546.6h.1M155.7 545.8h.1M155.4 543.3h.1M157.3 543.9h.1M147.6 542.4h.1M166.4 546.7h.1M149.8 539.4h.1M154.0 546.1h.1M160.8 540.1h.1M144.7 547.1h.1M164.3 544.2h.1M158.8 544.2h.1M166.5 545.5h.1M164.0 537.9h.1M151.8 542.6h.1M154.9 542.2h.1M170.8 540.8h.1M153.8 542.1h.1M152.9 537.6h.1M162.0 542.1h.1M157.3 542.4h.1M150.2 537.2h.1M153.3 544.4h.1M154.3 545.0h.1M150.1 541.7h.1M156.0 542.0h.1M156.1 547.3h.1M152.4 543.0h.1M151.0 544.5h.1M156.4 539.8h.1M148.8 538.6h.1M153.3 543.0h.1M152.0 542.2h.1M155.9 550.5h.1M162.4 550.0h.1M155.9 543.1h.1M167.2 543.1h.1M159.1 540.4h.1M151.7 545.3h.1M151.3 540.3h.1M145.7 543.9h.1M154.5 544.3h.1M149.6 538.4h.1M161.9 542.1h.1M160.0 538.2h.1M147.0 534.1h.1M156.9 545.7h.1M163.3 548.1h.1M143.7 539.3h.1M151.7 539.9h.1M153.7 539.7h.1M145.9 542.8h.1M155.8 539.7h.1M155.2 537.9h.1M153.0 541.4h.1M152.2 542.3h.1M147.1 538.2h.1M149.8 545.2h.1M149.1 539.5h.1M167.4 540.8h.1M152.6 539.5h.1M164.2 543.7h.1M156.7 547.8h.1M147.6 537.0h.1M161.9 543.5h.1M151.8 545.3h.1M154.4 549.2h.1M147.1 544.1h.1M161.1 545.1h.1M152.8 541.2h.1M152.3 544.9h.1M152.5 542.1h.1M161.4 541.7h.1M156.5 541.9h.1M155.1 534.7h.1M149.1 544.0h.1M151.0 540.5h.1M155.3 550.3h.1M150.3 539.4h.1M143.8 544.6h.1M154.7 539.5h.1M152.4 545.9h.1M161.4 543.3h.1M162.2 545.5h.1M152.1 545.3h.1M156.0 545.0h.1M156.7 549.7h.1M147.2 544.1h.1M148.2 550.8h.1M151.8 541.3h.1M154.9 542.3h.1M165.7 541.6h.1M156.6 546.0h.1M164.4 538.6h.1M156.9 537.7h.1M158.1 547.1h.1M151.7 541.6h.1M162.4 543.5h.1M160.0 540.5h.1M153.0 541.2h.1M164.8 536.7h.1M151.8 548.0h.1M154.6 538.6h.1M156.5 541.6h.1M154.2 544.2h.1M159.9 536.9h.1M156.2 547.5h.1M146.6 542.5h.1M147.7 545.1h.1M149.7 541.5h.1M152.4 544.1h.1M146.8 538.0h.1M156.2 547.1h.1M151.8 544.0h.1M156.6 542.7h.1M154.9 540.5h.1M153.5 546.7h.1M157.8 546.7h.1M150.4 543.1h.1M151.0 538.0h.1M160.6 541.1h.1M156.5 537.4h.1M153.4 542.1h.1M152.6 546.1h.1M157.8 542.7h.1M156.4 540.8h.1M150.5 541.7h.1M148.6 542.2h.1M154.3 546.4h.1M152.3 551.0h.1M151.7 543.0h.1M154.8 540.3h.1M154.6 536.2h.1M162.0 540.0h.1M154.8 536.1h.1M158.5 537.7h.1M163.5 538.3h.1M150.4 545.0h.1M163.0 535.0h.1M144.4 548.6h.1M157.7 536.9h.1M152.2 545.0h.1M152.5 547.8h.1M150.5 543.2h.1M162.2 547.2h.1M156.4 544.4h.1M152.9 542.3h.1M151.4 544.0h.1M160.2 538.6h.1M147.7 543.0h.1M167.4 542.5h.1M155.8 542.2h.1M144.5 540.5h.1M164.4 534.5h.1M166.2 537.6h.1M167.7 550.9h.1M164.3 541.4h.1M158.6 540.3h.1M152.2 543.3h.1M153.0 538.7h.1M153.2 544.8h.1M150.1 543.9h.1M146.6 543.2h.1M147.8 545.5h.1M148.5 544.9h.1M142.5 543.7h.1M161.8 539.1h.1M155.3 539.4h.1M157.9 544.9h.1M162.1 546.7h.1M163.1 539.4h.1M155.7 544.2h.1M156.1 537.7h.1M167.6 550.7h.1M155.3 533.2h.1M166.3 541.1h.1M169.1 537.9h.1M158.2 545.0h.1M146.0 541.7h.1M158.0 544.6h.1M157.4 533.0h.1M164.9 536.4h.1M157.4 545.5h.1M148.9 537.1h.1M156.6 540.7h.1M154.3 541.7h.1M154.2 543.5h.1M151.6 542.5h.1M151.4 539.5h.1M157.1 539.3h.1M158.3 542.1h.1M161.7 544.1h.1M142.5 543.0h.1M159.0 542.6h.1M155.2 546.2h.1M159.1 537.4h.1M155.5 545.9h.1M155.9 537.8h.1M159.8 544.3h.1M162.1 542.6h.1M155.6 545.4h.1M148.1 548.9h.1M157.4 543.0h.1M159.7 544.9h.1M154.3 539.6h.1M160.6 545.4h.1M157.3 540.1h.1M155.6 539.0h.1M170.6 539.2h.1M160.4 547.9h.1M149.6 540.8h.1M146.7 543.4h.1M153.5 542.5h.1M155.2 540.7h.1M155.6 542.1h.1M150.5 541.5h.1M151.4 538.0h.1M154.8 535.8h.1M158.2 542.1h.1M156.0 546.4h.1M160.9 540.5h.1M157.1 546.5h.1M153.9 543.8h.1M157.5 538.6h.1M156.7 540.9h.1M153.3 544.0h.1M159.0 539.0h.1M153.3 541.8h.1M149.0 544.0h.1M153.6 540.0h.1M160.8 541.8h.1M147.7 542.5h.1M153.8 543.5h.1M169.0 543.6h.1M163.9 541.3h.1M157.9 544.0h.1M154.3 543.3h.1M152.1 545.0h.1M149.3 548.8h.1M154.1 543.7h.1M155.8 536.6h.1M157.6 539.1h.1M156.2 540.8h.1M153.2 537.1h.1M146.8 540.9h.1M148.3 543.6h.1M146.2 543.6h.1M158.4 539.6h.1M148.9 541.5h.1M159.8 547.1h.1M168.3 542.0h.1M158.8 542.9h.1M154.8 538.6h.1M152.7 546.5h.1M163.5 539.8h.1M144.8 549.7h.1M155.1 544.0h.1M153.8 536.0h.1M156.9 538.8h.1M153.1 540.3h.1M153.3 551.0h.1M164.3 534.9h.1M145.3 541.1h.1M150.8 545.4h.1M164.6 539.3h.1M158.5 541.4h.1M142.6 547.2h.1M165.8 538.9h.1M158.8 540.3h.1M154.3 540.8h.1M154.0 542.6h.1M151.1 543.6h.1M146.8 545.7h.1M149.0 536.1h.1M160.1 540.9h.1M151.6 545.8h.1M154.7 549.3h.1M157.6 537.2h.1M151.8 540.2h.1M153.1 548.5h.1M171.8 547.5h.1M157.7 544.2h.1M155.9 534.5h.1M163.6 549.0h.1M151.6 542.5h.1M150.5 541.9h.1M149.5 538.7h.1M162.4 535.1h.1M161.3 538.0h.1M153.3 535.3h.1M159.0 538.6h.1M170.4 538.2h.1M156.5 544.7h.1M148.8 539.8h.1M148.3 544.7h.1M156.8 545.9h.1M146.0 539.6h.1M154.2 540.8h.1M156.9 546.3h.1M155.7 539.5h.1M154.7 539.8h.1M150.8 549.2h.1M159.1 548.7h.1M153.6 542.2h.1M147.0 543.7h.1M159.4 544.6h.1M147.7 543.2h.1M160.7 540.4h.1M159.3 540.4h.1M154.9 540.3h.1M145.7 539.9h.1M156.0 541.3h.1M154.9 540.3h.1M160.4 541.5h.1M157.4 540.6h.1M163.0 541.6h.1M157.6 550.1h.1M157.6 536.7h.1M150.8 543.8h.1M146.7 537.6h.1M154.2 536.8h.1M161.7 543.6h.1M153.0 546.8h.1M150.7 538.4h.1M160.6 542.1h.1M153.5 546.1h.1M154.1 544.7h.1M156.3 546.4h.1M158.4 540.5h.1M164.3 540.6h.1M165.7 537.3h.1M155.3 534.4h.1M158.2 547.0h.1M152.5 544.2h.1M153.5 547.6h.1M157.0 543.5h.1M161.8 536.6h.1M159.3 542.6h.1M163.0 542.0h.1M158.7 542.0h.1M148.8 540.9h.1M153.8 537.7h.1M154.7 540.7h.1M166.3 540.9h.1M155.7 542.7h.1M159.3 536.4h.1M144.1 548.6h.1M149.7 539.5h.1M162.2 543.1h.1M149.9 545.3h.1M147.9 548.6h.1M153.0 543.7h.1M154.9 549.2h.1M149.0 542.4h.1M168.3 534.4h.1M151.9 543.5h.1M153.6 544.0h.1M162.2 538.0h.1M150.9 547.3h.1M167.1 532.2h.1M158.3 545.7h.1M150.8 539.5h.1M147.9 542.1h.1M147.8 545.3h.1M150.7 544.5h.1M145.2 546.1h.1M159.1 545.5h.1M156.7 550.5h.1M161.0 542.2h.1M165.0 540.6h.1M155.9 548.2h.1M152.1 542.5h.1M156.5 543.0h.1M153.5 546.1h.1M168.4 540.3h.1M145.8 541.3h.1M146.4 538.4h.1M148.5 546.5h.1M156.0 544.9h.1M154.3 546.1h.1M152.5 547.2h.1M160.5 542.9h.1M145.9 539.0h.1M156.6 538.6h.1M173.8 545.5h.1M170.7 550.4h.1M171.4 536.1h.1M175.1 549.3h.1M177.8 553.3h.1M169.9 546.0h.1M169.5 532.4h.1M174.5 542.6h.1M175.3 549.0h.1M171.5 561.5h.1M168.7 563.5h.1M170.7 565.9h.1M175.9 543.4h.1M178.0 550.0h.1M173.2 545.3h.1M171.8 545.6h.1M170.8 555.4h.1M174.8 557.5h.1M176.1 546.8h.1M174.6 545.9h.1M174.0 553.0h.1M173.3 542.2h.1M167.9 563.5h.1M169.3 544.9h.1M173.3 545.4h.1M173.5 558.9h.1M166.7 551.3h.1M174.1 537.2h.1M174.5 559.4h.1M172.1 552.5h.1M171.0 556.8h.1M170.3 549.5h.1M169.7 544.0h.1M176.0 547.0h.1M175.1 535.4h.1M167.9 543.2h.1M178.6 555.6h.1M179.7 542.7h.1M174.1 551.0h.1M171.1 553.8h.1M171.9 552.6h.1M165.9 542.8h.1M168.6 563.1h.1M175.1 540.3h.1M173.8 543.8h.1M168.1 543.0h.1M182.3 546.0h.1M171.7 558.6h.1M173.0 539.9h.1M179.4 563.4h.1M174.8 541.3h.1M171.8 549.8h.1M168.2 570.7h.1M172.1 544.5h.1M171.1 546.6h.1M163.4 552.9h.1M176.1 549.2h.1M173.6 547.7h.1M166.0 555.5h.1M174.4 540.0h.1M168.1 545.7h.1M167.5 531.1h.1M170.7 544.7h.1M172.5 558.0h.1M168.9 537.8h.1M171.7 554.2h.1M177.0 554.4h.1M172.5 549.0h.1M166.1 556.2h.1M174.7 547.3h.1M171.0 552.4h.1M173.6 552.3h.1M173.5 536.5h.1M170.1 536.7h.1M174.8 567.9h.1M169.3 548.7h.1M172.9 543.1h.1M177.9 548.4h.1M179.4 564.0h.1M173.7 542.4h.1M176.6 545.2h.1M169.2 548.2h.1M175.9 541.3h.1M171.3 555.9h.1M171.1 556.1h.1M176.2 543.5h.1M168.0 541.0h.1M176.4 551.6h.1M172.3 545.7h.1M175.7 543.9h.1M181.4 548.1h.1M166.5 558.9h.1M172.9 548.4h.1M171.4 558.3h.1M170.3 561.5h.1M169.4 556.7h.1M166.9 558.0h.1M168.7 548.1h.1M174.6 542.0h.1M173.8 548.2h.1M176.5 554.2h.1M172.9 547.1h.1M168.9 560.8h.1M171.2 539.4h.1M169.2 535.2h.1M169.0 546.4h.1M172.8 555.6h.1M174.8 533.8h.1M170.3 554.0h.1M173.2 548.2h.1M169.3 555.2h.1M171.7 547.0h.1M171.6 547.1h.1M173.0 556.9h.1M172.2 543.8h.1M171.6 547.7h.1M173.7 554.1h.1M177.6 553.7h.1M166.1 544.2h.1M167.6 552.5h.1M180.0 549.5h.1M170.0 560.1h.1M174.1 541.7h.1M168.7 561.3h.1M174.6 531.8h.1M169.4 554.0h.1M167.3 550.3h.1M168.9 536.9h.1M170.2 545.2h.1M172.9 535.2h.1M172.8 545.6h.1M166.4 559.9h.1M170.4 552.5h.1M177.3 550.1h.1M175.2 549.3h.1M169.9 550.9h.1M166.5 554.3h.1M174.8 551.1h.1M169.6 540.3h.1M169.4 547.4h.1M167.0 565.2h.1M169.1 550.7h.1M170.3 550.3h.1M164.5 543.4h.1M171.8 548.5h.1M173.3 544.2h.1M174.8 549.5h.1M171.7 549.0h.1M175.6 547.3h.1M177.3 547.9h.1M179.6 532.3h.1M179.8 533.7h.1M177.1 534.6h.1M186.5 533.9h.1M179.3 530.0h.1M176.7 529.9h.1M179.7 530.3h.1M183.7 531.1h.1M176.3 529.6h.1M178.6 531.9h.1M181.7 530.2h.1M179.9 535.1h.1M178.1 527.2h.1M179.6 535.3h.1M180.1 532.3h.1M173.2 537.0h.1M178.4 528.8h.1M177.9 532.8h.1M179.0 529.7h.1M186.0 535.9h.1M181.9 534.2h.1M177.7 528.9h.1M175.1 535.4h.1M179.1 537.1h.1M172.2 536.2h.1M180.3 530.7h.1M181.5 530.4h.1M178.1 533.8h.1M179.4 533.1h.1M179.5 535.3h.1M176.4 526.4h.1M176.2 525.2h.1M184.7 530.4h.1M178.8 533.3h.1M176.6 530.8h.1M179.7 532.3h.1M181.3 531.6h.1M176.9 528.0h.1M173.9 533.1h.1M179.8 531.1h.1M182.5 524.4h.1M180.8 528.8h.1M177.9 531.6h.1M176.7 531.5h.1M179.7 539.3h.1M178.9 534.4h.1M181.3 529.5h.1M180.3 531.1h.1M181.6 530.6h.1M182.1 529.7h.1M162.0 554.7h.1M173.8 554.9h.1M181.6 556.1h.1M165.7 555.4h.1M159.1 554.4h.1M168.9 546.9h.1M160.0 556.4h.1M149.8 546.8h.1M154.5 545.4h.1M162.2 541.7h.1M160.9 550.3h.1M181.4 561.7h.1M164.2 544.8h.1M170.6 541.6h.1M153.9 555.7h.1M162.5 560.0h.1M168.4 536.7h.1M168.0 551.9h.1M166.2 537.4h.1M153.7 562.7h.1M143.5 540.6h.1M172.1 562.2h.1M170.9 547.9h.1M168.7 557.0h.1M161.5 558.1h.1M167.7 549.7h.1M169.2 550.6h.1M158.4 560.3h.1M161.8 546.0h.1M147.0 535.3h.1M170.2 547.4h.1M164.9 545.2h.1M170.6 543.0h.1M154.0 535.4h.1M159.3 550.6h.1M177.2 552.6h.1M160.3 537.7h.1M172.3 552.0h.1M165.3 553.0h.1M170.4 552.1h.1M176.3 536.0h.1M160.5 543.9h.1M157.8 563.6h.1M168.6 551.4h.1M172.0 546.3h.1M172.4 546.5h.1M171.7 552.5h.1M176.1 536.2h.1M158.4 542.2h.1M159.2 551.1h.1M173.4 545.4h.1M174.3 555.1h.1M161.1 553.3h.1M177.1 544.4h.1M148.3 552.5h.1M168.0 553.0h.1M169.8 547.7h.1M165.7 541.8h.1M181.3 560.3h.1M164.7 541.5h.1M169.2 560.7h.1M166.1 541.7h.1M173.2 550.2h.1M159.5 546.5h.1M167.1 539.4h.1M168.1 558.2h.1M174.2 558.0h.1M171.7 547.5h.1M170.7 557.8h.1M166.2 552.3h.1M160.9 548.3h.1M162.0 539.8h.1M169.0 565.6h.1M152.4 544.4h.1M167.4 542.4h.1M167.1 554.9h.1M153.0 547.4h.1M170.5 552.7h.1M180.3 549.9h.1M175.7 543.8h.1M158.7 544.0h.1M162.4 555.3h.1M171.8 548.4h.1M158.8 549.4h.1M162.6 545.3h.1M152.2 560.6h.1M170.5 571.7h.1M187.1 548.7h.1M183.4 545.0h.1M187.9 547.9h.1" stroke="#f05a5a" stroke-opacity="0.45" stroke-width="0.85" stroke-linecap="round" fill="none" filter="url(#sb)"/>
<path d="M150.0 564.1h.1M145.4 561.4h.1M150.5 566.4h.1M151.6 569.2h.1M148.5 568.5h.1M148.5 562.4h.1M148.4 566.0h.1M145.6 564.2h.1M149.7 566.5h.1M147.7 566.5h.1M146.6 564.9h.1M149.4 566.9h.1M155.2 561.3h.1M150.5 569.0h.1M152.1 562.2h.1M150.3 560.3h.1M145.7 562.8h.1M152.9 561.6h.1M149.0 564.8h.1M147.8 562.2h.1M156.6 555.8h.1M148.5 566.7h.1M147.8 564.9h.1M149.9 564.8h.1M147.3 568.3h.1M150.7 567.7h.1M149.0 559.5h.1M150.5 559.7h.1M146.3 569.1h.1M150.0 562.3h.1M148.2 565.3h.1M146.9 564.8h.1M146.1 566.6h.1M155.2 565.4h.1M148.2 561.4h.1M142.6 568.1h.1M149.6 562.7h.1M145.4 565.8h.1M149.7 566.0h.1M151.0 557.5h.1M146.2 566.6h.1M150.2 566.1h.1M142.6 571.8h.1M143.8 566.6h.1M146.8 564.5h.1M145.5 568.4h.1M151.9 564.1h.1M143.5 565.7h.1M148.4 565.9h.1M146.4 565.2h.1M159.4 559.7h.1M147.5 559.0h.1M145.6 570.5h.1M152.1 560.0h.1M151.9 563.7h.1M145.4 568.4h.1M146.2 565.2h.1M148.8 565.3h.1M146.9 566.4h.1M148.7 565.3h.1M150.3 562.4h.1M143.1 567.3h.1M153.7 563.2h.1M149.6 562.4h.1M144.0 563.8h.1M144.9 565.6h.1M142.4 567.5h.1M142.3 569.6h.1M148.6 560.3h.1M146.4 566.5h.1M150.2 566.0h.1M147.2 565.1h.1M147.7 566.7h.1M145.9 565.7h.1M149.3 563.6h.1M144.3 570.4h.1M150.7 561.4h.1M156.7 558.9h.1M145.1 565.6h.1M150.9 567.6h.1M154.3 563.5h.1M148.9 566.4h.1M145.5 564.5h.1M150.8 564.3h.1M149.6 561.7h.1M149.7 560.6h.1M152.4 563.0h.1M146.1 564.8h.1M160.0 567.4h.1M145.8 569.7h.1M148.8 565.4h.1M144.8 563.3h.1M149.6 563.2h.1M150.7 566.5h.1M148.2 566.4h.1M149.4 565.0h.1M146.6 566.4h.1M150.4 564.1h.1M146.8 561.9h.1M144.3 570.9h.1M152.8 563.5h.1M149.9 563.8h.1M151.4 565.9h.1M147.7 566.1h.1M152.6 558.8h.1M144.9 565.2h.1M144.0 565.9h.1M145.2 565.4h.1M150.6 560.8h.1M149.1 568.2h.1M149.5 561.2h.1M146.2 569.0h.1M147.6 563.7h.1M151.9 561.4h.1M144.2 568.6h.1M148.8 563.1h.1M150.6 566.7h.1M153.1 562.9h.1M150.5 565.2h.1M142.7 572.0h.1M146.0 564.6h.1M145.4 563.9h.1M153.1 562.6h.1M146.3 561.2h.1M149.4 564.3h.1M144.5 566.6h.1M143.8 568.5h.1M149.1 559.1h.1M144.2 565.3h.1M151.9 564.8h.1M151.2 567.9h.1M147.5 564.0h.1M151.0 561.5h.1M145.1 569.0h.1M153.9 557.6h.1M150.6 563.8h.1M152.4 562.1h.1M148.2 568.7h.1M146.3 567.0h.1M151.2 563.2h.1M152.2 564.4h.1M152.0 558.7h.1M144.5 567.6h.1M153.4 566.2h.1M148.7 562.8h.1M144.3 561.9h.1M146.7 567.3h.1M148.4 561.1h.1M148.3 565.1h.1M145.7 570.0h.1M150.5 566.8h.1M149.1 562.1h.1M153.1 565.5h.1M146.3 562.5h.1M152.0 561.7h.1M144.0 566.8h.1M150.9 561.8h.1M148.8 567.3h.1M151.7 559.3h.1M151.6 568.0h.1M152.4 562.8h.1M150.2 560.0h.1M146.3 564.6h.1M157.1 560.7h.1M144.8 571.1h.1M153.6 558.1h.1M147.9 560.8h.1M152.9 556.9h.1M156.2 558.4h.1M144.5 572.3h.1M150.8 564.7h.1M152.1 560.5h.1M152.2 562.3h.1M150.8 564.4h.1M154.3 558.7h.1M143.1 569.2h.1M158.2 561.6h.1M148.0 566.9h.1M143.8 567.4h.1M141.9 568.4h.1M151.6 567.8h.1M146.7 568.2h.1M154.1 559.4h.1M147.6 560.5h.1M145.2 567.6h.1M151.6 567.1h.1M146.2 560.0h.1M144.6 568.3h.1M148.6 566.7h.1M147.5 567.1h.1M144.8 564.2h.1M148.0 560.6h.1M153.7 561.7h.1M144.7 564.5h.1M144.8 567.0h.1M147.2 567.7h.1M144.1 566.8h.1M142.6 566.5h.1M154.1 561.8h.1M152.3 562.9h.1M144.3 564.6h.1M144.2 567.9h.1M149.6 572.0h.1M155.4 563.7h.1M144.8 567.0h.1M145.8 569.2h.1M143.3 569.4h.1M143.8 566.0h.1M149.4 564.8h.1M148.4 564.7h.1M145.2 566.2h.1M148.4 562.5h.1M151.0 564.1h.1M145.6 569.7h.1M146.4 560.9h.1M153.8 561.3h.1M154.6 563.1h.1M145.1 569.4h.1M150.5 566.3h.1M148.8 568.8h.1M152.4 562.1h.1M142.6 567.6h.1M148.9 562.1h.1M147.9 569.1h.1M146.8 568.6h.1M144.9 564.1h.1M152.4 562.5h.1M149.5 567.1h.1M155.2 558.4h.1M151.0 564.2h.1M149.2 569.2h.1M147.7 563.7h.1M150.7 558.5h.1M150.1 561.7h.1M150.0 562.2h.1M150.7 563.2h.1M145.8 567.6h.1M151.7 559.1h.1M143.5 566.6h.1M154.3 541.6h.1M160.9 540.0h.1M155.6 540.8h.1M151.8 543.3h.1M159.2 538.3h.1M161.5 547.1h.1M155.7 543.2h.1M150.5 541.3h.1M156.3 541.7h.1M160.9 539.5h.1M153.9 543.4h.1M154.7 541.4h.1M154.5 543.0h.1M146.7 548.9h.1M158.2 539.2h.1M151.1 539.4h.1M156.9 537.3h.1M165.6 540.1h.1M149.0 547.4h.1M155.0 543.2h.1M154.2 541.4h.1M163.9 536.7h.1M156.1 540.1h.1M153.5 541.9h.1M147.1 544.0h.1M155.9 543.3h.1M152.4 544.0h.1M153.0 544.0h.1M160.8 543.2h.1M148.8 542.5h.1M150.6 547.0h.1M155.9 538.8h.1M148.5 545.6h.1M150.7 543.3h.1M153.6 541.7h.1M153.1 542.1h.1M162.0 539.5h.1M157.2 543.1h.1M152.1 539.5h.1M151.2 543.6h.1M155.7 544.5h.1M156.6 542.2h.1M155.1 542.6h.1M155.2 543.6h.1M151.3 544.8h.1M162.0 541.4h.1M157.5 539.0h.1M155.5 538.5h.1M159.3 541.9h.1M159.7 544.5h.1M151.9 544.2h.1M161.7 547.1h.1M154.6 543.4h.1M152.3 543.7h.1M157.6 545.4h.1M154.4 542.2h.1M157.2 541.5h.1M163.9 536.1h.1M147.7 541.2h.1M158.0 541.9h.1M156.8 538.2h.1M157.6 543.2h.1M162.1 543.6h.1M152.4 540.4h.1M150.1 541.1h.1M154.6 545.1h.1M162.2 541.8h.1M157.6 541.5h.1M149.4 543.6h.1M151.9 538.3h.1M151.4 545.9h.1M150.0 545.6h.1M149.1 542.2h.1M157.2 540.9h.1M150.9 542.3h.1M162.2 543.2h.1M155.9 543.4h.1M160.1 545.0h.1M153.9 539.9h.1M150.8 542.4h.1M153.7 542.1h.1M152.4 548.2h.1M152.0 545.7h.1M151.3 540.3h.1M150.0 539.6h.1M148.0 540.4h.1M154.0 543.8h.1M147.3 543.5h.1M154.5 542.0h.1M145.7 543.7h.1M157.9 544.7h.1M153.8 545.1h.1M155.3 539.8h.1M157.3 544.3h.1M156.0 541.9h.1M154.0 543.7h.1M147.2 543.2h.1M149.5 541.1h.1M155.9 545.0h.1M155.0 539.8h.1M166.8 542.1h.1M143.3 542.4h.1M151.8 540.7h.1M159.6 546.9h.1M155.5 538.7h.1M158.8 542.0h.1M153.3 542.6h.1M150.0 542.8h.1M156.6 544.8h.1M163.7 540.0h.1M156.7 540.0h.1M155.6 544.8h.1M157.8 541.1h.1M162.8 543.8h.1M160.4 541.9h.1M160.8 541.3h.1M158.8 541.9h.1M155.0 538.2h.1M159.3 543.2h.1M152.3 542.3h.1M157.7 543.4h.1M146.0 546.1h.1M150.6 546.9h.1M160.0 542.1h.1M155.9 542.7h.1M153.3 545.8h.1M152.1 540.9h.1M154.0 538.2h.1M159.6 538.9h.1M161.6 544.0h.1M163.9 540.1h.1M153.7 541.0h.1M158.5 539.6h.1M153.6 536.5h.1M155.2 542.5h.1M163.7 539.5h.1M159.3 543.2h.1M158.9 539.1h.1M159.3 542.2h.1M161.4 546.9h.1M152.0 541.2h.1M161.8 537.6h.1M144.0 543.3h.1M156.5 545.6h.1M158.3 541.7h.1M152.5 537.7h.1M157.3 540.4h.1M153.3 542.9h.1M146.0 542.3h.1M152.3 547.1h.1M154.5 544.8h.1M150.7 538.4h.1M158.9 540.9h.1M149.1 545.0h.1M157.3 537.7h.1M154.0 547.0h.1M155.5 538.7h.1M151.3 545.6h.1M161.7 543.3h.1" stroke="#f03030" stroke-opacity="0.6" stroke-width="1.0" stroke-linecap="round" fill="none" filter="url(#sb)"/>
<path d="M150.8 565.0h.1M151.2 560.3h.1M149.3 567.7h.1M143.4 569.1h.1M146.2 567.6h.1M149.0 561.6h.1M145.1 569.6h.1M148.3 568.0h.1M149.8 566.5h.1M147.3 566.3h.1M147.4 567.7h.1M146.7 568.5h.1M153.9 560.0h.1M148.1 566.6h.1M154.6 564.7h.1M148.9 561.4h.1M151.5 562.5h.1M149.3 565.7h.1M143.9 569.8h.1M151.7 564.9h.1M150.7 564.9h.1M143.9 566.4h.1M151.4 563.1h.1M148.7 565.9h.1M148.9 565.6h.1M150.3 564.4h.1M144.9 566.4h.1M151.9 562.2h.1M150.2 565.0h.1M145.7 560.7h.1M148.6 563.6h.1M146.5 568.2h.1M146.1 567.2h.1M149.0 565.4h.1M155.3 557.7h.1M151.9 563.3h.1M147.7 564.2h.1M148.8 565.2h.1M145.6 570.2h.1M146.2 566.1h.1M144.4 567.6h.1M149.8 566.9h.1M151.9 562.5h.1M154.0 562.3h.1M153.9 566.2h.1M147.3 563.6h.1M150.5 567.3h.1M150.0 566.8h.1M150.6 566.1h.1M153.1 562.4h.1M143.9 567.3h.1M146.0 564.0h.1M148.1 567.0h.1M142.5 565.0h.1M151.3 562.0h.1M147.3 568.7h.1M152.4 564.1h.1M150.5 558.5h.1M150.5 565.1h.1M144.0 567.9h.1M150.2 564.2h.1M151.3 565.7h.1M148.8 564.6h.1M144.7 569.5h.1M146.7 566.8h.1M153.8 564.3h.1M144.4 567.1h.1M146.3 562.9h.1M146.0 567.7h.1M149.8 564.2h.1M149.2 562.4h.1M146.1 566.1h.1M151.3 563.2h.1M148.1 566.2h.1M153.6 560.1h.1M150.4 564.7h.1M148.4 565.8h.1M142.0 568.5h.1M147.8 563.0h.1M151.5 563.5h.1M147.5 567.3h.1M145.6 565.2h.1M151.4 565.7h.1M155.4 560.9h.1M143.8 564.5h.1M144.6 567.4h.1M147.8 564.2h.1M145.3 565.4h.1M147.4 568.3h.1M150.7 567.0h.1M151.4 565.4h.1M152.6 564.2h.1M153.8 565.0h.1M154.7 562.6h.1M146.0 571.8h.1M147.7 566.7h.1M147.4 564.3h.1M150.1 562.1h.1M148.1 568.4h.1M149.0 566.7h.1M150.8 564.9h.1M149.0 566.3h.1M145.4 568.0h.1M145.0 565.4h.1M146.7 563.3h.1M142.0 569.2h.1M150.3 565.7h.1M156.0 561.9h.1M151.1 562.4h.1M151.0 561.6h.1M155.2 559.9h.1M147.3 567.4h.1M145.4 567.2h.1M151.9 563.9h.1M151.8 562.6h.1M150.6 559.6h.1M153.7 561.3h.1M145.7 566.7h.1M154.3 560.9h.1M148.6 564.5h.1M145.5 564.0h.1M150.6 565.7h.1M146.1 566.9h.1M150.1 565.2h.1M148.1 565.6h.1M149.5 562.5h.1M148.1 567.1h.1M146.7 568.9h.1M147.8 563.3h.1M147.6 562.8h.1M150.7 560.8h.1M148.7 564.7h.1M147.6 566.6h.1M149.6 563.5h.1M151.4 562.9h.1M151.6 566.5h.1M149.9 566.5h.1M144.1 568.6h.1M143.6 567.3h.1M150.9 558.4h.1M146.0 564.9h.1M145.5 566.8h.1M150.8 561.7h.1M146.5 562.3h.1M146.2 561.9h.1M143.6 568.7h.1M151.6 562.0h.1M149.8 563.0h.1M152.2 567.1h.1M146.5 565.3h.1M153.8 565.9h.1M148.6 566.6h.1M143.3 567.2h.1M147.6 565.4h.1M149.6 561.4h.1M145.1 571.4h.1M142.8 568.2h.1M151.1 565.0h.1M148.8 561.7h.1M147.0 562.7h.1M155.2 562.7h.1M151.0 564.4h.1M147.3 568.3h.1M151.6 565.1h.1M150.6 565.8h.1M147.7 566.6h.1M148.9 564.5h.1M150.8 568.6h.1M147.1 568.5h.1M145.2 566.5h.1M152.0 563.4h.1M149.8 562.1h.1M144.8 570.6h.1M149.1 564.8h.1M144.0 565.3h.1M145.1 566.8h.1M148.2 564.1h.1M146.4 566.5h.1M152.5 560.3h.1M143.8 569.9h.1M143.8 566.7h.1M149.0 568.8h.1M148.3 567.6h.1M149.1 563.3h.1M149.2 560.5h.1M151.4 567.0h.1M147.9 567.3h.1M145.1 570.1h.1M146.4 564.6h.1M146.0 562.7h.1M150.9 568.3h.1M143.8 567.1h.1M150.1 563.3h.1M143.4 568.5h.1M152.0 563.8h.1M145.0 566.3h.1M142.1 568.3h.1M152.7 565.5h.1M148.3 566.3h.1M146.9 566.3h.1M146.6 566.5h.1M146.9 566.5h.1M150.9 564.0h.1M144.3 568.4h.1M147.8 564.6h.1M150.5 562.5h.1M151.7 564.8h.1M146.3 564.9h.1M148.2 563.5h.1M151.8 558.9h.1M149.1 564.2h.1M144.9 568.3h.1M147.0 567.0h.1M147.1 565.3h.1M150.4 566.4h.1M151.9 563.5h.1M153.6 562.0h.1M144.0 563.5h.1M143.8 565.8h.1M142.6 568.8h.1M148.7 565.1h.1M149.4 564.6h.1M147.8 564.9h.1M148.7 562.7h.1M152.9 566.3h.1M148.7 570.0h.1M145.4 568.7h.1M143.2 569.2h.1M146.1 568.6h.1M149.0 567.0h.1M150.6 565.3h.1M147.7 569.0h.1M149.8 565.6h.1M153.4 562.3h.1M154.4 564.6h.1M148.9 562.0h.1M152.7 562.5h.1M148.9 565.3h.1M151.8 565.0h.1M142.5 566.8h.1M149.8 565.0h.1M151.3 565.1h.1M154.0 561.0h.1M153.0 563.9h.1M149.6 566.1h.1M147.5 567.3h.1M147.9 567.1h.1M146.1 568.9h.1M143.5 566.3h.1M148.5 565.8h.1M146.0 565.7h.1M149.5 567.0h.1M152.9 562.1h.1M148.4 564.6h.1M143.5 566.8h.1M152.4 560.5h.1M158.2 562.5h.1M154.4 562.7h.1M153.9 561.4h.1M152.9 564.7h.1M151.2 565.5h.1M150.6 565.6h.1M152.6 564.1h.1M150.7 565.1h.1M149.1 563.1h.1M142.6 566.0h.1M144.5 564.1h.1M150.9 563.4h.1M152.9 569.7h.1M151.2 562.9h.1M149.9 564.1h.1M149.6 569.1h.1M154.0 565.3h.1M149.6 568.5h.1M151.4 565.7h.1M144.7 565.8h.1M149.2 564.5h.1M146.9 561.8h.1M146.1 566.2h.1M149.7 562.4h.1M148.2 569.3h.1M149.2 560.8h.1M148.0 565.5h.1M152.9 563.5h.1M153.2 563.6h.1M152.5 566.1h.1M153.8 563.1h.1M144.6 567.6h.1M150.2 562.9h.1M151.4 563.5h.1M151.3 564.3h.1M145.5 569.0h.1M155.3 563.8h.1M149.6 561.1h.1M171.1 555.0h.1M173.1 545.5h.1M170.9 548.8h.1M170.2 542.8h.1M173.8 541.6h.1M175.1 549.7h.1M171.6 541.0h.1M170.9 546.2h.1M170.1 544.0h.1M173.4 546.7h.1M169.6 552.2h.1M175.6 547.7h.1M173.0 557.4h.1M174.7 550.4h.1M175.1 545.5h.1M174.6 547.4h.1M169.5 556.4h.1M174.0 552.2h.1M172.5 543.1h.1M174.2 553.0h.1M172.7 556.6h.1M170.5 549.5h.1M173.1 538.3h.1M171.1 555.8h.1M169.1 555.9h.1M173.9 554.5h.1M172.6 556.9h.1M171.8 553.3h.1M171.7 550.7h.1M171.3 541.5h.1M174.7 550.3h.1M171.4 543.8h.1M171.0 549.1h.1M169.9 547.4h.1M171.4 546.0h.1M172.2 537.8h.1M175.3 544.3h.1M171.7 545.1h.1M172.5 559.5h.1M172.1 552.3h.1M169.9 544.1h.1M171.6 552.4h.1M170.9 554.4h.1M175.1 543.0h.1M173.2 539.3h.1M170.8 550.6h.1M175.1 541.7h.1M174.0 552.8h.1M173.1 540.3h.1M173.7 553.2h.1M175.2 546.4h.1M169.7 555.2h.1M170.3 557.3h.1M169.9 557.1h.1M171.0 550.8h.1M170.7 551.6h.1M169.4 545.2h.1M171.0 550.9h.1M174.3 548.8h.1M174.0 546.5h.1M170.5 544.7h.1M171.3 548.4h.1M171.5 555.8h.1M174.4 546.6h.1M173.9 551.3h.1M174.6 552.4h.1M171.4 558.6h.1M175.4 551.1h.1M169.1 548.9h.1M170.2 547.8h.1M173.5 542.2h.1M169.2 548.4h.1M173.4 549.5h.1M171.7 550.6h.1M171.4 548.8h.1M173.2 539.3h.1M170.2 552.4h.1M171.0 548.9h.1M172.1 543.1h.1M170.3 544.1h.1M169.6 543.3h.1M173.2 548.8h.1M170.6 553.0h.1M170.4 556.8h.1M175.2 542.7h.1M172.6 545.5h.1M175.0 551.9h.1M173.9 548.7h.1M173.8 547.2h.1M172.1 552.4h.1M172.5 556.7h.1M170.5 541.5h.1M172.5 542.6h.1M172.9 544.1h.1M170.9 556.0h.1M173.6 542.3h.1M173.1 539.9h.1M171.8 538.5h.1M171.5 557.5h.1M172.3 544.2h.1M172.4 545.5h.1M170.7 541.9h.1M172.5 546.1h.1M169.3 551.2h.1M174.8 550.1h.1M171.1 548.7h.1M171.1 545.9h.1M174.3 546.8h.1M171.6 541.0h.1M174.9 541.0h.1M172.6 549.0h.1M173.8 549.6h.1M169.8 559.4h.1M172.8 540.8h.1M172.5 549.2h.1M171.7 554.0h.1M170.9 552.1h.1M170.0 554.1h.1M174.2 549.8h.1M175.3 546.9h.1M170.8 555.0h.1M174.2 547.3h.1M171.6 551.3h.1M169.0 549.0h.1M169.3 548.5h.1M173.2 546.0h.1M170.7 559.2h.1M170.3 544.3h.1M169.7 558.4h.1M172.9 550.2h.1M175.1 542.7h.1M169.1 557.5h.1M173.5 547.6h.1M170.6 554.4h.1M173.4 546.2h.1M175.7 547.1h.1M171.1 542.1h.1M169.1 547.3h.1M174.7 554.5h.1M171.5 544.0h.1M173.6 556.7h.1M171.4 542.7h.1M169.9 556.1h.1M171.7 553.0h.1M172.8 556.1h.1M173.5 537.5h.1M173.9 542.7h.1M174.5 551.0h.1M173.1 553.4h.1M174.0 556.6h.1M170.0 554.5h.1M170.6 554.8h.1M172.4 550.6h.1M171.2 547.6h.1M172.3 553.5h.1M174.1 544.8h.1M173.0 550.3h.1M172.0 549.2h.1M174.6 546.7h.1M173.9 551.1h.1M168.8 549.5h.1M172.6 541.2h.1M170.4 541.4h.1M174.8 550.5h.1M171.5 550.4h.1M171.8 548.6h.1M172.3 554.2h.1M170.5 541.3h.1M170.8 556.6h.1M172.4 554.1h.1M171.3 559.0h.1M172.5 559.7h.1M174.3 550.2h.1M172.3 538.9h.1M171.5 538.9h.1M172.5 545.6h.1M174.0 544.6h.1M175.7 542.6h.1M170.7 541.9h.1M172.5 542.2h.1M173.4 542.3h.1M171.9 554.7h.1M170.8 558.4h.1M172.1 538.5h.1M171.6 539.6h.1M172.6 543.0h.1M171.1 549.6h.1M171.8 542.4h.1M170.8 541.9h.1M170.1 552.2h.1M174.9 549.3h.1M174.8 554.5h.1M174.9 549.6h.1M170.8 558.0h.1M175.4 544.6h.1M173.4 555.6h.1M173.9 542.5h.1M169.4 544.5h.1M170.5 549.2h.1M171.4 546.3h.1M171.7 540.0h.1M170.3 552.6h.1M169.8 558.1h.1M174.9 548.1h.1M170.5 552.4h.1M170.8 541.8h.1M170.9 546.1h.1M174.5 544.0h.1M172.5 537.4h.1M174.9 543.9h.1M173.9 555.1h.1M169.9 543.8h.1M173.9 553.4h.1M172.4 540.0h.1M170.2 545.0h.1M171.8 552.5h.1M174.4 553.6h.1M172.5 549.5h.1M173.9 538.2h.1M168.9 549.6h.1M170.9 557.5h.1M170.7 545.0h.1M170.1 552.3h.1M171.0 553.0h.1M173.3 555.4h.1M169.4 553.9h.1M171.0 558.0h.1M169.4 556.7h.1M174.9 551.6h.1M170.2 544.9h.1M170.5 557.8h.1M170.1 546.5h.1M171.2 549.5h.1M171.2 538.6h.1M171.8 552.3h.1M173.7 554.4h.1M172.8 552.4h.1M171.1 553.1h.1M172.3 544.3h.1M171.0 547.0h.1M169.0 553.7h.1M169.7 550.5h.1M175.1 541.5h.1M170.8 543.3h.1M170.2 548.6h.1M170.2 554.0h.1M171.5 541.0h.1M174.0 554.5h.1M173.4 558.0h.1M172.0 547.1h.1M174.3 548.8h.1M170.2 551.4h.1M171.2 555.0h.1M174.2 556.0h.1M169.1 549.8h.1M172.8 537.9h.1M174.2 542.1h.1M169.2 557.3h.1M170.2 553.1h.1M173.1 552.1h.1M174.7 546.4h.1M170.8 548.6h.1M170.5 553.2h.1M171.0 559.7h.1M172.4 550.4h.1M173.4 541.3h.1M171.4 548.8h.1M174.1 550.4h.1M170.1 560.0h.1M172.2 546.4h.1M175.0 542.6h.1M171.9 559.4h.1M173.5 542.7h.1M169.6 555.9h.1M169.7 558.9h.1M172.5 539.2h.1M173.3 554.6h.1M171.3 548.5h.1M172.0 545.2h.1M173.2 547.7h.1M171.0 548.3h.1M173.5 537.8h.1M171.5 542.8h.1M170.9 545.2h.1M170.9 545.5h.1M174.0 542.5h.1M170.3 554.1h.1M173.7 544.2h.1M170.2 553.8h.1M170.7 556.0h.1M174.0 542.5h.1M171.8 558.3h.1M172.4 557.9h.1M171.5 543.6h.1M172.8 545.5h.1M172.9 542.9h.1M169.9 551.2h.1M170.1 542.1h.1M168.9 553.1h.1M170.3 543.2h.1M174.6 549.5h.1M172.3 544.7h.1M171.7 555.4h.1M172.0 540.1h.1M169.6 553.4h.1M171.1 559.1h.1M169.8 553.7h.1M171.9 543.5h.1M174.1 544.6h.1M170.4 547.4h.1M172.5 538.8h.1M175.8 546.7h.1M172.0 539.8h.1M170.4 541.0h.1M169.1 549.7h.1M172.5 557.3h.1M169.9 555.9h.1M170.7 541.5h.1M174.3 554.9h.1M169.6 551.6h.1M170.8 559.4h.1M175.0 543.9h.1M170.6 548.7h.1M170.9 555.8h.1M169.3 557.4h.1M173.0 546.3h.1M175.8 545.5h.1M171.2 555.3h.1M175.0 544.2h.1M171.0 558.8h.1M174.6 544.3h.1M174.9 539.8h.1M171.3 550.5h.1M172.5 551.6h.1M174.0 540.9h.1M173.5 537.8h.1M170.1 548.6h.1M170.9 553.1h.1M169.6 549.0h.1M172.3 541.5h.1M175.3 545.4h.1M170.1 556.0h.1M172.4 551.0h.1M173.6 549.4h.1M174.3 550.3h.1M171.2 558.5h.1M171.7 553.4h.1M171.5 559.2h.1M169.7 543.3h.1M169.1 557.5h.1M171.2 542.6h.1M172.5 553.9h.1M169.8 556.5h.1M171.9 548.7h.1M171.4 547.7h.1M171.7 538.9h.1M175.0 546.6h.1M173.7 544.1h.1M170.2 541.9h.1M174.0 549.9h.1M172.9 554.4h.1M172.3 553.2h.1M170.7 541.1h.1M171.0 556.9h.1M169.7 555.3h.1M174.0 554.6h.1M174.9 542.3h.1M168.7 550.5h.1M172.9 556.7h.1M173.5 551.2h.1M170.3 558.9h.1M170.7 547.5h.1M169.3 550.4h.1M173.5 549.3h.1M172.3 537.8h.1M174.1 537.9h.1M173.8 551.8h.1M174.4 552.9h.1M174.5 543.7h.1M175.1 551.1h.1M172.8 546.1h.1M174.3 552.2h.1M172.3 551.5h.1M170.8 547.1h.1M173.2 556.4h.1M171.5 544.1h.1M172.5 548.3h.1M171.9 544.0h.1M170.3 558.6h.1M173.9 539.6h.1M170.2 545.6h.1M170.9 539.2h.1M174.1 548.8h.1M169.7 549.0h.1M172.8 557.0h.1M172.4 541.9h.1M168.8 550.7h.1M171.4 560.6h.1M172.0 553.5h.1M170.8 543.3h.1M169.3 556.9h.1M173.2 543.5h.1M171.7 542.9h.1M174.5 544.5h.1M170.2 559.0h.1M170.1 553.5h.1M175.5 544.4h.1M174.6 544.6h.1M169.5 553.3h.1M171.2 547.7h.1M175.4 540.9h.1M170.0 551.4h.1M170.5 547.5h.1M170.0 551.9h.1M174.2 538.1h.1M170.2 555.5h.1M170.0 558.2h.1M171.9 545.1h.1M169.2 557.7h.1M174.8 554.0h.1M175.5 545.1h.1M169.3 548.1h.1M174.2 552.6h.1M171.6 548.4h.1M170.6 546.0h.1M172.6 553.8h.1M170.7 552.1h.1M171.0 554.5h.1M174.8 540.3h.1M174.8 542.1h.1M174.6 538.2h.1M174.6 545.4h.1M174.4 538.6h.1M172.4 546.1h.1M169.9 546.7h.1M175.8 545.3h.1M173.7 556.5h.1M172.5 551.7h.1M175.6 547.8h.1M174.4 548.6h.1M174.6 541.2h.1M173.2 559.0h.1M173.1 554.4h.1M172.0 540.9h.1M172.2 539.3h.1M175.2 547.4h.1M171.7 551.3h.1M170.9 553.7h.1M174.8 549.9h.1M170.4 555.5h.1M169.8 543.9h.1M171.4 557.3h.1M172.9 547.9h.1M172.2 559.2h.1M172.0 541.2h.1M173.2 540.1h.1M170.1 552.4h.1M172.5 541.1h.1M174.3 552.3h.1M172.7 548.3h.1M175.0 552.6h.1M172.4 559.1h.1M170.3 548.5h.1M173.0 544.6h.1M172.7 550.8h.1M175.2 548.2h.1M171.5 549.9h.1M174.2 555.2h.1M170.3 551.4h.1M169.7 549.5h.1M172.0 553.1h.1M168.9 554.0h.1M170.7 544.5h.1M174.5 553.8h.1M169.3 551.1h.1M170.2 555.8h.1M169.0 553.9h.1M172.2 540.6h.1M169.9 555.8h.1M173.3 546.2h.1M173.0 542.0h.1M173.3 538.8h.1M170.0 548.2h.1M174.0 539.6h.1M172.1 550.1h.1M172.9 543.7h.1M170.7 543.9h.1M170.5 541.6h.1M169.2 545.9h.1M172.3 552.6h.1M170.0 551.3h.1M175.3 539.9h.1M171.6 559.1h.1M171.3 552.1h.1M174.3 545.7h.1M169.1 553.2h.1M172.0 550.1h.1M169.6 549.4h.1M171.5 552.4h.1M169.8 543.5h.1M171.9 555.3h.1M175.5 546.6h.1M174.8 545.6h.1M170.5 548.8h.1M173.0 540.1h.1M172.3 557.1h.1M169.7 551.4h.1M173.1 541.9h.1M175.4 543.6h.1M173.2 552.8h.1M172.8 555.4h.1M170.7 547.2h.1M172.4 553.9h.1M171.9 545.3h.1M173.9 539.1h.1M172.7 546.5h.1M173.8 544.8h.1M168.7 553.2h.1M171.8 538.4h.1M173.0 540.2h.1M169.0 549.9h.1M172.7 537.9h.1M172.5 549.0h.1M173.6 539.5h.1M168.7 548.7h.1M170.7 557.5h.1M173.1 540.4h.1M169.1 556.2h.1M170.1 550.9h.1M171.6 544.1h.1M171.0 551.6h.1M171.6 544.8h.1M170.5 557.1h.1M174.3 546.1h.1M173.4 553.1h.1M168.7 548.8h.1M174.0 544.6h.1M172.5 557.3h.1M175.8 546.4h.1M174.6 540.4h.1M173.0 540.1h.1M174.1 549.8h.1M171.4 557.3h.1M174.9 551.1h.1M171.4 553.1h.1M172.9 541.2h.1M174.7 554.2h.1M171.7 556.9h.1M171.5 543.4h.1M173.4 558.2h.1M169.6 547.0h.1M170.5 545.0h.1M171.4 550.3h.1M168.7 543.9h.1M170.0 558.4h.1M171.8 538.5h.1M173.4 554.9h.1M168.4 541.9h.1M173.3 548.7h.1M173.6 559.6h.1M173.8 555.2h.1M171.1 559.4h.1M170.6 552.0h.1M167.4 548.1h.1M174.1 541.5h.1M171.1 534.0h.1M171.4 539.9h.1M172.3 545.4h.1M170.6 547.2h.1M171.2 549.3h.1M171.6 557.2h.1M174.7 529.9h.1M175.4 545.8h.1M173.0 542.0h.1M173.6 552.2h.1M170.9 541.4h.1M173.4 551.4h.1M170.1 534.6h.1M169.6 552.8h.1M175.2 540.5h.1M170.9 541.7h.1M173.0 542.8h.1M176.2 551.1h.1M171.7 546.1h.1M174.6 544.9h.1M171.3 550.0h.1M174.7 557.7h.1M171.4 540.5h.1M170.1 548.6h.1M173.7 529.5h.1M173.7 550.9h.1M172.7 538.1h.1M172.5 545.0h.1M170.0 554.0h.1M175.1 548.7h.1M173.6 555.2h.1M172.3 545.7h.1M175.7 542.8h.1M171.5 551.4h.1M171.3 542.4h.1M174.8 547.4h.1M170.6 545.4h.1M173.6 553.8h.1M172.7 556.6h.1M172.2 559.9h.1M174.4 539.7h.1M172.0 551.1h.1M172.2 541.8h.1M173.4 547.7h.1M168.8 541.3h.1M171.4 555.6h.1M172.2 550.0h.1M174.5 546.1h.1M172.3 548.2h.1M174.4 543.1h.1M173.2 543.2h.1M172.5 556.3h.1M170.5 552.9h.1M172.4 550.2h.1M173.5 548.7h.1M173.4 560.8h.1M170.7 541.9h.1M174.0 550.6h.1M176.9 542.2h.1M173.9 544.1h.1M171.2 545.0h.1M170.4 542.9h.1M171.6 547.9h.1M172.4 554.3h.1M170.2 549.0h.1M170.3 555.4h.1M170.2 547.2h.1M170.5 557.0h.1M169.5 542.0h.1M171.4 546.6h.1M170.2 557.5h.1M171.0 534.7h.1M171.8 539.7h.1M170.8 545.9h.1M170.2 546.7h.1M171.4 553.4h.1M178.0 541.2h.1M171.2 557.0h.1M176.1 552.4h.1M171.7 562.5h.1M172.5 556.9h.1M171.1 540.7h.1M175.3 541.1h.1M169.9 550.7h.1M170.2 554.3h.1M172.5 547.2h.1M171.0 559.5h.1M175.4 555.2h.1M169.3 561.6h.1M172.5 560.5h.1M173.5 543.4h.1M168.6 545.7h.1M175.0 544.3h.1M176.0 538.1h.1M173.7 547.2h.1M169.1 552.8h.1M171.4 547.1h.1M167.6 543.8h.1M170.8 548.3h.1M170.4 563.8h.1M171.4 550.6h.1M171.5 557.9h.1M173.6 555.1h.1M168.8 551.4h.1M171.9 553.3h.1M170.8 550.4h.1M170.1 547.2h.1M173.1 544.8h.1M170.4 548.6h.1M173.0 551.3h.1M169.6 546.9h.1M169.6 542.9h.1M177.6 554.7h.1M173.8 546.0h.1M174.2 558.6h.1M175.0 552.5h.1M170.0 566.5h.1M174.0 554.0h.1M173.0 551.0h.1M171.4 537.3h.1M176.3 565.0h.1M173.3 553.0h.1M172.2 554.1h.1M171.9 548.3h.1M173.7 536.2h.1M175.4 544.6h.1M173.5 552.4h.1M175.8 558.9h.1M169.3 543.4h.1M172.6 537.1h.1M173.6 547.3h.1M170.5 555.4h.1M170.1 544.5h.1M172.2 554.8h.1M171.8 546.5h.1M172.7 546.0h.1M168.0 557.1h.1M173.3 556.0h.1M172.5 551.9h.1M168.4 540.9h.1M167.9 559.0h.1M170.6 558.8h.1M173.2 545.2h.1M172.0 543.3h.1M171.2 551.6h.1M173.7 544.7h.1M168.6 558.4h.1M169.7 554.9h.1M168.7 544.0h.1M167.7 555.4h.1M173.2 570.0h.1M176.4 547.8h.1M167.5 549.3h.1M172.7 551.1h.1M172.5 541.6h.1M171.5 562.3h.1M170.9 546.6h.1M169.4 545.7h.1M174.9 550.1h.1M171.0 546.8h.1M174.0 544.0h.1M170.3 547.4h.1M166.3 559.4h.1M170.3 554.9h.1M172.1 555.9h.1M170.9 566.6h.1M173.4 546.7h.1M172.8 534.0h.1M169.6 535.7h.1M171.5 564.3h.1M172.9 538.2h.1M168.6 553.1h.1M173.6 546.7h.1M175.4 549.0h.1M176.7 552.6h.1M176.8 528.2h.1M173.8 553.5h.1M175.5 551.4h.1M173.0 550.6h.1M172.6 552.6h.1M175.8 535.9h.1M171.1 539.1h.1M170.8 551.4h.1M172.5 551.3h.1M173.8 551.1h.1M171.4 548.3h.1M169.7 546.8h.1M171.9 551.6h.1M168.5 558.2h.1M171.9 538.1h.1M171.7 553.0h.1M172.3 545.8h.1M170.1 551.3h.1M172.5 550.8h.1M171.2 557.8h.1M168.0 550.7h.1M168.4 537.0h.1M172.5 554.5h.1M171.4 552.2h.1M171.7 557.0h.1M170.7 553.2h.1M172.8 537.5h.1M174.7 543.6h.1M169.5 545.4h.1M174.0 545.1h.1M173.8 541.5h.1M172.7 536.6h.1M171.4 558.1h.1M170.9 550.6h.1M168.0 562.3h.1M171.6 552.2h.1M171.2 542.0h.1M171.3 546.9h.1M169.7 548.8h.1M169.9 546.4h.1M165.7 545.0h.1M172.8 550.0h.1M171.5 551.9h.1M175.9 549.5h.1M172.3 548.1h.1M172.8 552.9h.1M167.0 565.7h.1M174.2 551.1h.1M170.7 548.7h.1M170.3 558.9h.1M170.5 538.3h.1M171.5 543.2h.1M172.5 549.6h.1M170.1 539.1h.1M171.3 540.2h.1M171.6 550.2h.1M171.1 550.4h.1M171.1 560.6h.1M168.0 543.2h.1M174.6 539.2h.1M173.4 546.7h.1M172.0 539.1h.1M171.1 548.2h.1M167.2 551.1h.1M171.0 533.8h.1M172.4 546.2h.1M168.6 558.3h.1M171.7 541.1h.1M170.0 551.7h.1M170.7 554.2h.1M169.2 551.9h.1M173.0 551.9h.1M170.2 543.1h.1M169.4 550.6h.1M167.3 570.1h.1M171.4 557.3h.1M171.3 558.2h.1M171.4 556.0h.1M174.2 549.8h.1M169.2 553.0h.1M172.3 546.5h.1M171.4 553.8h.1M167.3 554.7h.1M175.5 542.6h.1M174.7 544.4h.1M171.3 546.7h.1M171.9 543.6h.1M170.6 547.8h.1M169.9 549.3h.1M174.2 542.1h.1M172.4 543.4h.1M169.4 549.9h.1M171.3 555.8h.1M173.5 548.7h.1M170.5 558.7h.1M169.0 544.9h.1M173.6 550.8h.1M173.3 546.6h.1M173.6 556.0h.1M167.7 554.3h.1M174.1 540.8h.1M169.8 552.2h.1M173.3 548.0h.1M168.3 551.9h.1M171.7 546.3h.1M174.2 533.2h.1M172.2 544.6h.1M173.2 546.0h.1M175.8 548.2h.1M170.8 538.2h.1M171.3 548.7h.1M175.4 549.7h.1M172.3 542.4h.1M172.4 542.0h.1M168.8 553.2h.1M171.0 540.1h.1M174.5 555.9h.1M172.9 537.1h.1M170.1 543.0h.1M172.5 571.5h.1M174.0 547.1h.1M170.1 540.1h.1M170.3 550.6h.1M171.4 552.4h.1M173.1 540.5h.1M173.8 548.1h.1M175.5 546.2h.1M171.2 548.3h.1M174.7 551.0h.1M174.5 554.5h.1M172.7 564.1h.1M171.8 547.2h.1M174.4 539.7h.1M172.7 555.1h.1M170.0 536.8h.1M168.8 557.8h.1M177.5 540.1h.1M169.1 541.5h.1M175.4 552.3h.1M173.5 543.1h.1M173.4 543.0h.1M173.2 543.0h.1M169.2 546.9h.1M172.9 550.5h.1M170.8 555.4h.1M168.4 537.0h.1M173.3 547.0h.1M171.9 545.6h.1M173.2 549.6h.1M175.1 540.8h.1M169.2 549.0h.1M171.4 546.8h.1M167.2 553.3h.1M175.7 549.4h.1M174.8 551.4h.1M172.6 551.1h.1M174.4 550.6h.1M173.5 547.6h.1M170.4 551.8h.1M171.1 552.9h.1M167.1 562.9h.1M175.0 557.6h.1M172.9 541.1h.1M171.2 541.1h.1M173.0 548.3h.1M172.4 535.9h.1M168.7 535.2h.1M175.2 550.6h.1M172.2 546.1h.1M168.1 547.9h.1M171.1 543.3h.1M174.3 533.8h.1M172.4 553.9h.1M173.9 537.6h.1M165.8 560.8h.1M175.3 546.0h.1M171.5 551.2h.1M174.5 548.3h.1M171.3 550.4h.1M172.9 562.1h.1M172.1 542.3h.1M176.4 556.8h.1M175.4 540.7h.1M170.8 539.9h.1M171.8 557.7h.1M174.2 548.0h.1M172.6 551.7h.1M171.8 541.6h.1M170.6 560.6h.1M170.0 541.8h.1" stroke="#ff1414" stroke-opacity="0.85" stroke-width="1.45" stroke-linecap="round" fill="none" filter="url(#sb)"/>
<line x1="141.00" y1="518.40" x2="141.00" y2="573.30" stroke="#3a3a3a" stroke-width="1.0"/>
<line x1="141.00" y1="573.30" x2="202.00" y2="573.30" stroke="#5a5a5a" stroke-width="1.0"/>
<line x1="160.30" y1="518.40" x2="160.30" y2="573.30" stroke="#a0a0a0" stroke-width="1.0"/>
<line x1="141.00" y1="552.10" x2="202.00" y2="552.10" stroke="#a0a0a0" stroke-width="1.0"/>
<text x="130.2" y="525.9" font-size="4.4" font-weight="bold" fill="#333">10<tspan font-size="3.6" dx="0.4" dy="-2.4">5</tspan></text>
<text x="130.2" y="539.8" font-size="4.4" font-weight="bold" fill="#333">10<tspan font-size="3.6" dx="0.4" dy="-2.4">4</tspan></text>
<text x="130.2" y="553.3" font-size="4.4" font-weight="bold" fill="#333">10<tspan font-size="3.6" dx="0.4" dy="-2.4">3</tspan></text>
<text x="130.2" y="567.7" font-size="4.4" font-weight="bold" fill="#333">10<tspan font-size="3.6" dx="0.4" dy="-2.4">2</tspan></text>
<text x="142.4" y="581.5" font-size="4.6" font-weight="bold" fill="#333">10<tspan font-size="3.8" dx="0.5" dy="-3">1</tspan></text>
<text x="153.6" y="581.5" font-size="4.6" font-weight="bold" fill="#333">10<tspan font-size="3.8" dx="0.5" dy="-3">2</tspan></text>
<text x="166.6" y="581.5" font-size="4.6" font-weight="bold" fill="#333">10<tspan font-size="3.8" dx="0.5" dy="-3">3</tspan></text>
<text x="179.5" y="581.5" font-size="4.6" font-weight="bold" fill="#333">10<tspan font-size="3.8" dx="0.5" dy="-3">4</tspan></text>
<text x="192.5" y="581.5" font-size="4.6" font-weight="bold" fill="#333">10<tspan font-size="3.8" dx="0.5" dy="-3">5</tspan></text>
<path d="M148.40,585.40L154.60,585.40L151.50,581.00Z" fill="#ee2020"/>
<text x="140.32" y="596.50" font-size="12.20" font-weight="bold" fill="#111">45.1%</text>
<path d="M228.5 564.7h.1M236.3 571.5h.1M236.9 571.7h.1M234.5 558.8h.1M234.4 561.3h.1M236.5 556.4h.1M231.1 560.2h.1M234.3 568.8h.1M233.1 559.6h.1M232.5 564.2h.1M237.4 565.2h.1M238.1 553.5h.1M229.4 568.5h.1M230.1 562.3h.1M235.5 565.7h.1M234.9 564.0h.1M228.5 558.3h.1M231.4 560.8h.1M232.6 558.0h.1M233.6 566.7h.1M232.5 570.1h.1M234.6 568.4h.1M231.3 565.6h.1M229.7 557.3h.1M228.8 563.2h.1M234.9 563.3h.1M237.1 565.2h.1M234.0 565.3h.1M236.9 571.1h.1M229.7 565.2h.1M232.6 564.8h.1M241.0 563.9h.1M226.6 568.2h.1M232.6 561.1h.1M237.0 565.8h.1M231.8 570.6h.1M233.2 565.7h.1M233.4 565.4h.1M228.0 559.9h.1M230.1 556.1h.1M230.5 562.8h.1M233.4 564.4h.1M232.7 568.9h.1M227.8 562.7h.1M233.3 561.3h.1M238.1 564.3h.1M237.3 566.9h.1M233.2 568.7h.1M229.6 559.9h.1M232.8 555.2h.1M232.7 564.0h.1M228.7 560.6h.1M237.7 567.2h.1M234.6 570.1h.1M234.3 569.7h.1M237.2 562.5h.1M235.8 569.2h.1M234.8 563.1h.1M236.6 569.3h.1M233.9 566.8h.1M234.4 565.8h.1M235.1 563.2h.1M236.2 566.2h.1M239.2 566.0h.1M234.3 559.9h.1M240.8 563.8h.1M232.5 563.7h.1M234.0 564.4h.1M239.1 562.8h.1M233.3 563.0h.1M235.8 558.2h.1M237.0 563.3h.1M229.7 570.6h.1M230.0 567.5h.1M234.0 562.1h.1M229.0 561.9h.1M236.3 564.5h.1M232.3 568.6h.1M234.1 565.0h.1M231.4 559.2h.1M232.6 565.9h.1M232.7 566.0h.1M233.2 563.8h.1M233.8 566.1h.1M227.3 564.7h.1M233.4 562.9h.1M236.9 569.3h.1M237.4 567.6h.1M235.3 565.2h.1M236.2 562.1h.1M233.6 566.0h.1M233.5 559.8h.1M233.7 563.0h.1M232.0 567.2h.1M237.2 565.0h.1M230.5 564.0h.1M233.4 560.5h.1M232.1 565.2h.1M232.2 566.4h.1M230.0 567.3h.1M231.9 565.2h.1M234.0 562.6h.1M237.1 557.6h.1M234.6 567.2h.1M233.2 564.4h.1M230.5 564.5h.1M234.5 562.3h.1M234.0 563.2h.1M230.9 564.3h.1M231.6 568.1h.1M231.6 570.2h.1M233.9 564.5h.1M231.7 566.3h.1M254.1 535.1h.1M234.7 544.2h.1M236.6 546.7h.1M237.8 546.5h.1M232.2 538.4h.1M253.3 542.5h.1M241.9 538.5h.1M242.4 543.1h.1M242.6 543.7h.1M247.1 548.3h.1M235.9 542.8h.1M244.5 536.9h.1M233.0 543.3h.1M236.6 543.4h.1M229.3 547.7h.1M235.1 539.6h.1M241.4 549.8h.1M226.8 545.8h.1M256.1 540.1h.1M233.0 551.5h.1M240.5 547.4h.1M251.9 544.3h.1M241.3 551.4h.1M226.7 541.2h.1M236.9 541.6h.1M237.4 536.3h.1M225.8 549.0h.1M237.1 545.9h.1M235.6 544.3h.1M226.6 553.3h.1M247.1 536.9h.1M235.1 546.0h.1M235.3 544.2h.1M240.4 535.9h.1M244.7 544.8h.1M230.9 544.4h.1M238.0 542.9h.1M239.1 537.5h.1M239.2 545.5h.1M241.8 545.2h.1M234.2 545.2h.1M246.4 542.9h.1M240.5 543.9h.1M243.0 537.9h.1M238.2 547.5h.1M231.5 547.5h.1M235.0 542.8h.1M229.7 541.6h.1M248.1 536.3h.1M239.8 538.0h.1M254.8 544.1h.1M232.4 540.2h.1M236.5 545.7h.1M252.0 547.7h.1M230.9 546.2h.1M246.1 539.7h.1M234.9 548.4h.1M227.7 545.9h.1M238.1 542.8h.1M238.9 537.1h.1M245.3 540.9h.1M254.3 549.5h.1M235.0 552.6h.1M250.0 538.6h.1M236.6 549.3h.1M232.9 543.4h.1M229.4 542.5h.1M232.9 546.0h.1M240.7 542.0h.1M227.8 546.7h.1M243.6 542.9h.1M249.7 540.2h.1M245.4 543.9h.1M249.2 548.9h.1M229.4 537.9h.1M246.9 543.8h.1M241.4 541.6h.1M232.7 549.9h.1M242.5 541.0h.1M239.1 545.1h.1M228.3 543.0h.1M242.8 543.8h.1M227.7 547.1h.1M254.6 543.8h.1M228.2 543.8h.1M233.8 541.5h.1M232.1 542.6h.1M238.0 538.9h.1M246.1 544.0h.1M254.2 544.8h.1M246.3 544.8h.1M237.8 539.6h.1M244.0 543.4h.1M233.5 546.5h.1M241.3 540.8h.1M250.3 540.0h.1M239.7 548.2h.1M234.6 543.3h.1M242.3 542.0h.1M234.7 539.9h.1M240.5 542.0h.1M245.3 547.0h.1M238.5 547.2h.1M233.1 551.5h.1M234.3 544.2h.1M235.8 542.4h.1M245.0 542.9h.1M231.7 548.3h.1M239.0 546.3h.1M240.4 541.8h.1M231.7 550.1h.1M237.0 550.3h.1M257.0 545.7h.1M257.7 536.9h.1M234.8 540.3h.1M228.1 540.4h.1M245.8 539.5h.1M236.1 546.8h.1M235.5 550.9h.1M248.2 545.3h.1M252.0 543.9h.1M240.2 548.3h.1M247.0 537.0h.1M247.5 546.7h.1M240.0 549.6h.1M229.4 546.4h.1M233.2 541.4h.1M240.9 537.6h.1M238.6 546.9h.1M232.8 540.5h.1M243.2 547.0h.1M246.0 540.5h.1M235.5 550.2h.1M245.7 544.2h.1M240.6 543.0h.1M243.6 546.1h.1M239.1 545.0h.1M227.8 545.3h.1M251.3 542.8h.1M227.9 543.9h.1M239.5 549.8h.1M255.7 541.0h.1M237.6 544.7h.1M230.0 550.9h.1M229.3 548.6h.1M235.1 540.3h.1M241.4 550.4h.1M229.2 546.5h.1M233.3 549.3h.1M227.1 540.7h.1M235.7 539.2h.1M246.5 536.6h.1M239.2 541.9h.1M246.6 540.5h.1M237.2 551.2h.1M243.9 548.3h.1M250.0 544.2h.1M241.2 536.7h.1M241.0 548.2h.1M232.6 543.7h.1M255.2 536.7h.1M237.3 543.8h.1M233.2 551.1h.1M226.1 544.9h.1M251.0 533.7h.1M241.6 540.5h.1M242.2 542.6h.1M235.6 544.9h.1M248.4 537.5h.1M245.5 544.0h.1M237.1 541.3h.1M241.4 546.9h.1M231.3 548.3h.1M239.0 547.4h.1M240.9 542.8h.1M240.4 546.4h.1M227.2 546.0h.1M234.9 544.8h.1M246.6 546.5h.1M250.0 546.0h.1M237.0 541.0h.1M259.2 537.8h.1M235.9 546.2h.1M232.2 545.7h.1M240.4 541.5h.1M230.5 545.5h.1M242.1 539.4h.1M239.8 544.3h.1M231.7 546.9h.1M227.9 549.6h.1M233.1 549.2h.1M239.5 544.1h.1M228.1 548.9h.1M230.0 554.6h.1M242.2 544.3h.1M238.9 546.8h.1M242.4 545.0h.1M245.6 542.2h.1M251.5 535.6h.1M225.7 548.6h.1M238.5 537.8h.1M229.2 542.7h.1M248.8 545.0h.1M239.8 538.8h.1M233.8 542.4h.1M239.1 546.3h.1M233.1 542.8h.1M240.9 550.3h.1M242.0 542.0h.1M246.1 542.2h.1M227.9 548.6h.1M251.7 537.2h.1M244.8 537.9h.1M238.1 543.6h.1M236.0 544.0h.1M244.1 541.0h.1M236.9 543.1h.1M240.9 541.0h.1M245.0 544.2h.1M234.0 539.5h.1M236.6 548.5h.1M243.8 543.2h.1M254.8 547.7h.1M242.9 549.0h.1M236.7 542.8h.1M240.5 535.9h.1M239.0 541.9h.1M249.5 544.5h.1M251.1 540.1h.1M250.5 542.6h.1M242.9 545.0h.1M228.7 549.4h.1M235.2 547.2h.1M238.4 540.0h.1M236.3 545.6h.1M236.4 551.4h.1M248.4 542.8h.1M235.9 550.4h.1M239.1 548.7h.1M228.0 537.6h.1M244.8 546.7h.1M237.5 543.5h.1M242.4 545.5h.1M238.2 544.2h.1M240.6 548.1h.1M244.4 532.3h.1M241.6 542.3h.1M247.3 545.5h.1M234.6 544.3h.1M230.1 545.9h.1M233.1 550.0h.1M249.0 540.8h.1M231.7 550.5h.1M228.1 544.3h.1M235.7 545.5h.1M239.2 540.1h.1M245.7 544.4h.1M241.4 550.1h.1M253.7 542.5h.1M235.5 543.4h.1M237.8 539.7h.1M233.2 542.8h.1M242.9 546.3h.1M233.9 540.3h.1M238.5 536.7h.1M236.9 545.1h.1M241.9 541.7h.1M242.1 546.5h.1M236.0 540.1h.1M234.7 545.9h.1M241.0 536.6h.1M226.8 539.3h.1M253.1 543.3h.1M240.2 538.8h.1M243.6 532.9h.1M251.5 543.4h.1M238.4 545.1h.1M245.9 534.5h.1M241.0 538.3h.1M235.5 543.6h.1M235.4 541.4h.1M240.1 542.1h.1M240.9 546.7h.1M231.9 544.3h.1M231.9 548.5h.1M244.5 547.2h.1M247.2 543.0h.1M230.8 542.2h.1M255.2 559.1h.1M256.1 559.8h.1M256.3 527.2h.1M255.4 539.8h.1M256.1 540.9h.1M259.3 544.3h.1M254.7 565.9h.1M254.9 545.3h.1M254.8 555.0h.1M256.9 548.2h.1M260.2 541.2h.1M258.7 553.6h.1M257.1 543.8h.1M255.5 557.7h.1M246.3 566.1h.1M252.7 557.9h.1M257.9 550.8h.1M257.9 543.5h.1M261.8 545.6h.1M259.0 545.1h.1M254.9 557.8h.1M252.6 550.1h.1M253.1 537.2h.1M259.6 546.6h.1M249.5 551.6h.1M264.4 552.2h.1M255.3 551.8h.1M255.0 550.9h.1M255.6 550.2h.1M254.4 556.3h.1M251.8 537.0h.1M250.0 546.4h.1M256.5 552.8h.1M258.9 534.5h.1M250.4 556.6h.1M262.4 549.8h.1M255.6 557.0h.1M261.9 553.1h.1M256.8 545.6h.1M254.1 546.0h.1M251.7 553.7h.1M259.7 544.0h.1M258.8 552.3h.1M255.6 548.3h.1M261.4 539.3h.1M253.6 546.5h.1M253.3 554.5h.1M258.2 545.0h.1M258.3 532.7h.1M256.4 567.4h.1M259.5 538.2h.1M259.2 541.4h.1M258.2 552.8h.1M251.0 566.2h.1M251.1 547.7h.1M258.5 552.0h.1M256.8 545.4h.1M258.9 549.8h.1M254.9 558.2h.1M261.7 540.5h.1M254.6 540.8h.1M251.8 552.4h.1M259.5 535.0h.1M255.2 551.6h.1M254.0 556.7h.1M258.2 546.8h.1M260.3 549.0h.1M260.0 551.2h.1M255.2 561.2h.1M253.7 553.0h.1M254.9 542.5h.1M251.5 560.6h.1M260.9 554.6h.1M249.1 557.8h.1M256.5 553.2h.1M257.1 552.8h.1M257.8 556.3h.1M256.7 543.9h.1M248.3 555.5h.1M248.6 548.2h.1M256.0 547.6h.1M253.4 564.2h.1M251.0 561.2h.1M255.1 548.1h.1M256.3 552.2h.1M249.9 556.1h.1M255.5 548.6h.1M256.2 547.5h.1M260.0 539.2h.1M253.4 554.1h.1M255.4 556.3h.1M245.9 552.4h.1M256.4 562.7h.1M259.7 539.0h.1M259.9 539.6h.1M257.2 544.9h.1M251.1 557.9h.1M258.1 544.8h.1M253.1 544.1h.1M255.6 557.7h.1M254.5 548.9h.1M254.6 539.5h.1M254.7 544.2h.1M260.3 547.5h.1M260.6 545.3h.1M256.7 559.4h.1M257.7 548.2h.1M257.8 550.3h.1M260.1 541.3h.1M254.4 542.3h.1M260.4 551.2h.1M255.0 553.7h.1M262.9 551.0h.1M255.8 541.1h.1M258.1 568.2h.1M260.3 543.7h.1M250.6 559.5h.1M253.1 547.0h.1M263.8 540.8h.1M255.3 570.1h.1M262.1 526.2h.1M258.9 544.9h.1M256.7 543.3h.1M257.2 553.1h.1M255.0 555.5h.1M258.8 537.7h.1M262.5 546.1h.1M259.2 558.2h.1M256.0 567.8h.1M252.9 541.9h.1M254.8 564.0h.1M261.8 551.8h.1M252.7 547.4h.1M255.4 549.7h.1M252.0 551.1h.1M254.4 553.1h.1M252.7 546.1h.1M256.5 553.5h.1M256.4 549.7h.1M255.5 543.9h.1M254.6 542.4h.1M258.0 550.6h.1M255.5 541.9h.1M254.6 548.0h.1M259.7 543.7h.1M256.8 542.8h.1M258.4 545.0h.1M253.0 534.9h.1M254.9 546.3h.1M260.2 536.1h.1M261.6 530.6h.1M266.5 531.7h.1M262.4 534.4h.1M264.3 531.0h.1M263.5 533.9h.1M267.0 534.8h.1M264.7 532.1h.1M264.1 530.3h.1M263.2 534.0h.1M262.4 532.4h.1M259.2 535.9h.1M267.5 530.6h.1M264.3 532.6h.1M263.9 531.8h.1M267.2 535.9h.1M267.3 531.4h.1M262.5 530.2h.1M267.3 530.2h.1M265.7 530.3h.1M255.1 541.3h.1M259.5 535.8h.1M267.8 526.7h.1M264.4 531.8h.1M258.3 539.0h.1M262.0 534.4h.1M263.8 536.6h.1M260.5 533.0h.1M264.7 533.6h.1M263.7 535.0h.1M267.8 531.4h.1M258.9 532.5h.1M258.0 534.0h.1M266.9 534.6h.1M264.4 534.0h.1M262.4 532.4h.1M266.3 527.4h.1M263.1 530.7h.1M264.6 533.3h.1M264.4 535.2h.1M264.1 535.1h.1M264.6 527.4h.1M263.6 530.4h.1M262.4 527.6h.1M262.9 532.0h.1M259.8 533.7h.1M266.6 531.2h.1M266.1 529.2h.1M269.7 527.4h.1M259.4 534.9h.1M265.8 534.4h.1M266.3 533.3h.1M258.3 535.4h.1M261.6 528.5h.1M268.9 527.2h.1M266.0 533.2h.1M262.6 530.7h.1M268.4 530.2h.1M264.3 532.4h.1M264.9 533.2h.1M264.3 534.3h.1M263.6 529.4h.1M260.9 535.0h.1M260.6 534.4h.1M266.4 529.6h.1M263.6 529.6h.1M259.4 535.6h.1M264.5 529.5h.1M262.2 531.6h.1M262.6 531.5h.1M262.0 538.3h.1M262.0 530.2h.1M262.3 535.9h.1M263.0 534.3h.1M262.5 532.0h.1M268.8 530.6h.1M261.7 535.0h.1M258.8 531.3h.1M262.7 531.9h.1M264.0 529.4h.1M265.2 531.2h.1M262.8 533.6h.1M262.5 535.4h.1M260.6 534.5h.1M263.2 527.5h.1M260.3 532.9h.1M265.2 528.7h.1M261.7 532.2h.1M258.7 533.6h.1M267.0 532.9h.1M260.1 532.4h.1M261.1 528.8h.1M271.5 527.0h.1M264.7 530.8h.1M262.6 529.4h.1M259.9 533.8h.1M261.2 535.1h.1M261.8 534.2h.1M265.4 528.8h.1M267.8 529.9h.1M272.2 527.0h.1M267.2 532.3h.1M258.4 531.4h.1M258.5 536.7h.1M263.7 534.5h.1M259.8 536.0h.1M263.5 533.8h.1M265.8 531.6h.1M268.4 527.0h.1M262.3 535.4h.1M260.0 535.8h.1M263.8 533.0h.1M255.3 534.4h.1M266.0 528.6h.1M266.4 532.7h.1M253.4 537.6h.1M259.7 531.9h.1M258.0 535.8h.1M268.0 536.0h.1M268.6 528.9h.1M257.9 537.6h.1M266.3 531.3h.1M258.8 532.0h.1M262.8 536.3h.1M268.9 527.7h.1M257.4 535.1h.1M266.4 529.3h.1M264.0 534.3h.1M257.7 539.4h.1M268.6 530.2h.1M264.6 533.2h.1M239.3 555.9h.1M247.3 540.6h.1M245.5 545.5h.1M241.7 555.6h.1M254.3 558.0h.1M241.9 555.1h.1M243.7 565.4h.1M235.7 558.8h.1M241.0 530.9h.1M253.8 535.0h.1M237.7 547.7h.1M250.6 547.1h.1M250.4 551.2h.1M229.9 560.9h.1M260.7 542.5h.1M253.4 545.4h.1M238.1 545.5h.1M227.0 541.9h.1M253.1 558.6h.1M251.2 550.8h.1M240.0 558.1h.1M265.3 551.9h.1M263.8 549.6h.1M244.1 557.5h.1M247.7 546.1h.1M241.0 549.7h.1M246.1 532.2h.1M251.3 565.7h.1M250.0 553.1h.1M251.8 557.4h.1M254.1 545.1h.1M235.2 553.0h.1M250.8 543.0h.1M243.9 553.2h.1M262.1 542.4h.1M237.3 548.3h.1M238.6 543.5h.1M237.2 560.3h.1M250.9 550.2h.1M252.4 557.2h.1M237.1 554.3h.1M240.5 533.5h.1M250.5 542.7h.1M260.9 545.9h.1M243.9 539.9h.1M245.0 547.7h.1M252.9 540.9h.1M239.5 537.8h.1M239.9 544.5h.1M245.0 541.8h.1M255.5 541.2h.1M248.9 547.1h.1M250.2 549.3h.1M242.4 548.3h.1M241.4 547.0h.1M257.9 556.9h.1M259.9 540.2h.1M258.3 552.9h.1M252.9 545.8h.1M263.8 539.7h.1M249.0 535.1h.1M243.8 552.4h.1M249.0 551.3h.1M259.4 538.2h.1M229.5 558.7h.1M231.8 545.4h.1M269.4 555.8h.1M245.3 557.9h.1M238.4 555.9h.1M242.7 541.6h.1M237.0 542.6h.1M249.1 566.6h.1M255.9 557.8h.1M245.3 565.5h.1M245.6 562.9h.1M234.6 554.6h.1M236.3 545.3h.1M244.8 530.4h.1M250.4 549.3h.1M229.8 547.4h.1M245.5 532.8h.1M240.2 558.7h.1M242.5 546.6h.1M245.5 546.4h.1M235.9 547.0h.1M227.4 550.0h.1M243.6 535.2h.1M231.8 550.6h.1M242.2 542.2h.1M241.1 550.7h.1M256.6 544.3h.1M227.9 539.7h.1M237.4 552.8h.1M257.4 552.0h.1M238.3 557.9h.1M242.2 536.8h.1M244.7 568.7h.1M246.3 541.6h.1M253.8 540.7h.1M257.7 555.5h.1M233.8 544.4h.1M243.0 540.5h.1M250.1 546.1h.1M263.1 551.2h.1M255.7 558.1h.1M250.9 556.6h.1M239.8 558.4h.1M256.1 559.1h.1M241.2 543.0h.1M257.9 547.8h.1M271.4 553.6h.1M235.4 554.8h.1M249.0 529.8h.1M240.8 526.8h.1M272.2 536.9h.1M238.5 545.2h.1M238.8 560.5h.1M244.1 534.5h.1M254.0 551.8h.1M232.8 557.7h.1M233.6 539.6h.1M260.9 543.6h.1M247.1 540.3h.1M243.7 528.4h.1M243.6 540.7h.1M255.6 544.1h.1M238.4 543.7h.1M228.0 552.4h.1M229.3 536.3h.1M249.1 545.3h.1M266.4 534.7h.1M249.9 566.1h.1M240.4 535.5h.1M256.5 566.8h.1M239.0 556.7h.1M253.1 549.6h.1M254.6 545.8h.1M252.9 545.9h.1M245.0 537.7h.1M246.1 547.4h.1M237.8 541.2h.1M242.9 562.3h.1M251.2 555.0h.1M259.4 555.3h.1M262.9 562.4h.1M253.7 547.5h.1M247.9 547.6h.1M239.4 533.3h.1M250.7 535.2h.1M253.4 565.6h.1M247.7 539.2h.1M240.4 554.4h.1M245.8 544.2h.1M249.2 537.0h.1M236.7 552.3h.1M239.6 554.6h.1M241.9 549.2h.1M245.1 560.9h.1M244.0 549.3h.1M235.7 549.8h.1M245.1 551.4h.1M226.9 554.6h.1M247.4 551.5h.1M250.5 558.4h.1M237.2 543.3h.1M249.0 533.8h.1M268.2 528.7h.1M251.9 543.7h.1M252.9 563.2h.1M264.9 541.5h.1M247.3 541.0h.1M233.4 549.7h.1M240.6 536.3h.1M243.5 542.5h.1M235.6 550.4h.1M251.9 552.1h.1M240.0 539.6h.1M256.2 539.9h.1M233.4 536.7h.1M260.3 546.5h.1M242.4 549.1h.1M246.8 545.3h.1M245.0 554.7h.1M255.8 537.7h.1M245.4 547.7h.1M248.4 571.7h.1M253.3 555.7h.1M245.7 553.8h.1M258.4 560.3h.1M238.7 550.1h.1M250.1 538.0h.1M243.3 543.9h.1M255.3 548.9h.1M266.0 553.7h.1M242.5 551.1h.1M247.6 540.7h.1M250.2 535.0h.1M248.6 543.9h.1M247.6 541.7h.1M263.5 542.0h.1M254.4 549.1h.1M258.0 541.8h.1M234.4 555.2h.1M256.8 554.8h.1M260.8 548.8h.1M238.0 553.4h.1M230.1 545.4h.1M252.6 561.8h.1M242.8 546.4h.1M233.5 547.2h.1M239.9 548.6h.1M239.4 552.8h.1M245.7 541.9h.1M252.3 553.6h.1M244.2 546.7h.1M254.6 553.3h.1M245.1 567.4h.1" stroke="#f05a5a" stroke-opacity="0.45" stroke-width="0.85" stroke-linecap="round" fill="none" filter="url(#sb)"/>
<path d="M233.2 539.2h.1M242.7 536.2h.1M247.3 540.2h.1M250.1 542.1h.1M250.6 536.9h.1M237.0 544.1h.1M236.2 543.6h.1M238.8 545.0h.1M249.2 535.0h.1M244.0 538.8h.1M250.5 536.9h.1M234.4 545.2h.1M238.8 545.1h.1M242.3 540.2h.1M229.2 547.9h.1M238.5 542.7h.1M237.9 542.4h.1M235.1 543.7h.1M241.5 538.9h.1M229.5 546.1h.1M245.6 540.4h.1M238.8 541.5h.1M242.5 542.3h.1M236.2 541.1h.1M242.8 543.5h.1M237.0 544.5h.1M241.0 536.6h.1M236.0 544.1h.1M248.1 542.8h.1M231.8 546.7h.1M238.0 545.6h.1M230.7 539.3h.1M229.4 546.2h.1M247.7 542.4h.1M241.0 542.4h.1M241.2 539.6h.1M248.0 544.1h.1M246.2 541.7h.1M245.4 545.0h.1M256.4 543.7h.1M235.0 541.2h.1M245.6 543.5h.1M243.5 542.5h.1M234.6 544.1h.1M230.3 545.1h.1M254.9 542.8h.1M234.3 541.1h.1M255.7 542.5h.1M236.5 545.1h.1M237.7 540.0h.1M240.8 544.2h.1M248.4 537.8h.1M249.6 540.7h.1M226.8 547.7h.1M246.5 543.5h.1M245.4 539.4h.1M243.3 537.5h.1M235.6 551.0h.1M250.9 542.4h.1M243.2 542.6h.1M244.1 542.8h.1M233.8 542.7h.1M227.3 542.1h.1M238.8 544.1h.1M254.7 535.8h.1M253.9 539.5h.1M237.1 543.0h.1M254.4 537.5h.1M237.4 544.9h.1M246.2 543.1h.1M240.7 545.7h.1M233.5 548.5h.1M236.7 544.5h.1M233.8 541.9h.1M246.5 543.6h.1M238.7 545.5h.1M261.3 532.4h.1M226.3 545.4h.1M228.6 547.6h.1M234.5 543.7h.1M234.4 549.8h.1M250.1 536.3h.1M244.3 541.3h.1M249.7 542.4h.1M235.0 542.3h.1M240.3 547.9h.1M240.6 541.2h.1M237.3 545.8h.1M237.9 548.4h.1M245.8 542.4h.1M240.7 541.8h.1M250.0 540.8h.1M241.8 538.6h.1M238.6 543.6h.1M239.4 543.1h.1M246.6 544.0h.1M245.2 540.4h.1M236.6 543.4h.1M229.3 540.2h.1M242.2 542.6h.1M240.5 546.3h.1M225.7 546.2h.1M238.4 539.2h.1M244.4 546.4h.1M230.1 544.5h.1M246.4 542.1h.1M237.0 546.2h.1M228.6 544.4h.1M235.6 543.3h.1M231.6 544.6h.1M248.2 543.0h.1M231.4 542.6h.1M234.9 539.2h.1M244.9 543.7h.1M238.8 547.5h.1M244.8 540.4h.1M240.2 542.4h.1M239.9 546.8h.1M248.4 538.8h.1M253.0 536.2h.1M238.2 550.4h.1M244.5 545.7h.1M240.9 544.3h.1M235.6 547.9h.1M238.6 541.5h.1M230.1 550.9h.1M230.1 541.3h.1M243.2 542.5h.1M251.5 543.1h.1M242.2 540.2h.1M243.6 538.1h.1M235.0 547.8h.1M241.8 539.2h.1M235.8 543.1h.1M242.1 543.2h.1M245.4 533.2h.1M244.8 536.6h.1M237.0 543.8h.1M247.0 540.0h.1M231.1 541.8h.1M241.7 549.8h.1M231.8 542.6h.1M235.3 547.0h.1M243.8 541.9h.1M242.0 547.3h.1M238.1 539.8h.1M240.2 539.2h.1M241.5 545.3h.1M237.6 546.0h.1M248.1 547.2h.1M237.7 545.0h.1M245.4 544.6h.1M246.4 543.5h.1M244.7 545.0h.1M243.3 544.2h.1M241.9 542.5h.1M228.0 544.5h.1M240.3 541.3h.1M237.1 547.1h.1M238.3 536.5h.1M236.6 543.1h.1M248.3 542.6h.1M243.5 540.8h.1M236.3 538.8h.1M244.3 542.4h.1M235.3 543.8h.1M247.4 544.6h.1M245.4 545.6h.1M241.7 542.7h.1M240.1 544.4h.1M228.8 545.5h.1M240.3 540.3h.1M236.4 547.0h.1M237.5 543.1h.1M249.9 538.6h.1M239.8 541.7h.1M236.6 542.9h.1M243.7 541.6h.1M246.3 544.2h.1M233.0 544.2h.1M238.9 539.3h.1M228.3 547.7h.1M242.0 546.3h.1M250.4 543.7h.1M242.5 546.4h.1M239.2 541.9h.1M246.5 543.9h.1M236.7 542.2h.1M231.7 550.4h.1M237.6 541.9h.1M236.1 542.0h.1M240.9 543.0h.1M245.3 534.8h.1M241.0 547.8h.1M240.4 541.2h.1M253.2 539.5h.1M244.6 543.0h.1M239.1 540.1h.1M241.1 543.4h.1M252.0 536.7h.1M229.9 546.1h.1M230.2 536.0h.1M237.9 546.7h.1M228.0 540.3h.1M249.8 538.9h.1M234.2 543.3h.1M250.6 540.8h.1M245.2 541.7h.1M233.0 544.8h.1M228.1 547.7h.1M229.4 544.9h.1M225.9 544.7h.1M242.7 540.3h.1M252.8 541.0h.1M242.9 538.2h.1M236.7 544.1h.1M244.9 544.0h.1M230.8 539.9h.1M232.6 547.4h.1M228.5 541.0h.1M240.8 542.7h.1M239.6 540.5h.1M242.2 542.3h.1M238.7 543.8h.1M238.5 542.6h.1M247.4 543.9h.1M240.5 543.3h.1M248.9 537.6h.1M227.3 544.9h.1M228.7 541.4h.1M241.4 543.3h.1M237.7 541.0h.1M230.4 542.2h.1M234.6 543.6h.1M246.1 541.2h.1M232.5 545.3h.1M247.9 542.7h.1M237.0 542.2h.1M237.9 540.1h.1M246.0 541.1h.1M252.6 544.6h.1M236.8 551.0h.1M236.8 541.1h.1M228.3 544.7h.1M242.5 541.5h.1M239.2 544.4h.1M234.8 543.5h.1M238.2 547.7h.1M244.3 542.0h.1M233.2 543.5h.1M234.7 542.6h.1M242.2 545.0h.1M246.6 540.2h.1M241.2 542.7h.1M245.5 548.6h.1M246.6 544.6h.1M241.6 544.2h.1M227.0 545.8h.1M239.0 543.0h.1M244.7 551.5h.1M241.7 539.1h.1M237.5 545.8h.1M244.6 542.8h.1M243.5 540.1h.1M249.8 535.4h.1M237.7 541.0h.1M237.0 544.0h.1M240.7 545.7h.1M252.4 542.6h.1M233.9 543.9h.1M235.0 541.4h.1M237.3 546.1h.1M234.8 544.7h.1M235.1 546.2h.1M247.5 537.6h.1M244.8 539.7h.1M242.2 542.4h.1M245.5 538.4h.1M252.4 542.2h.1M235.8 547.3h.1M248.8 543.2h.1M236.7 541.1h.1M234.2 548.6h.1M240.4 542.8h.1M237.6 546.9h.1M237.7 545.8h.1M228.4 542.4h.1M242.2 539.8h.1M252.5 535.1h.1M242.5 544.2h.1M242.9 542.4h.1M239.3 553.5h.1M241.8 540.9h.1M239.9 548.3h.1M239.9 546.2h.1M248.8 540.0h.1" stroke="#f03030" stroke-opacity="0.6" stroke-width="1.0" stroke-linecap="round" fill="none" filter="url(#sb)"/>
<path d="M252.7 548.6h.1M259.0 545.8h.1M253.7 555.6h.1M257.6 555.5h.1M256.4 542.0h.1M253.1 551.1h.1M253.3 551.7h.1M253.7 546.9h.1M256.7 551.8h.1M254.5 550.3h.1M258.1 554.6h.1M256.8 538.0h.1M258.0 538.3h.1M259.3 547.8h.1M256.1 558.3h.1M257.8 543.6h.1M259.4 544.7h.1M255.3 548.1h.1M253.6 556.8h.1M256.7 539.3h.1M254.2 553.9h.1M256.8 556.7h.1M252.5 549.0h.1M258.4 551.5h.1M258.5 553.3h.1M253.5 556.1h.1M256.8 539.7h.1M256.4 537.5h.1M252.7 551.9h.1M256.4 549.2h.1M254.9 545.6h.1M254.5 557.6h.1M255.4 556.8h.1M256.8 544.8h.1M253.5 548.4h.1M254.7 552.2h.1M255.8 554.1h.1M253.1 555.7h.1M255.8 540.0h.1M256.4 541.4h.1M254.7 557.6h.1M256.0 541.7h.1M257.9 545.2h.1M255.9 555.3h.1M255.0 542.0h.1M253.0 551.6h.1M257.3 554.3h.1M259.5 546.0h.1M257.2 550.4h.1M257.6 544.2h.1M255.5 539.2h.1M254.7 548.5h.1M258.3 540.6h.1M256.6 539.4h.1M257.6 537.6h.1M253.2 550.6h.1M254.0 557.7h.1M256.3 552.7h.1M258.4 548.6h.1M255.0 551.6h.1M252.6 554.3h.1M257.6 541.3h.1M254.4 544.4h.1M257.6 551.0h.1M257.4 553.6h.1M257.6 549.2h.1M255.8 550.9h.1M256.3 544.9h.1M256.4 556.0h.1M258.1 538.5h.1M255.4 546.5h.1M255.6 538.5h.1M253.2 544.8h.1M255.3 549.6h.1M259.1 541.3h.1M255.1 553.4h.1M254.0 542.1h.1M254.1 549.2h.1M256.9 555.3h.1M256.2 537.6h.1M253.6 545.1h.1M253.7 543.4h.1M258.0 548.2h.1M254.8 546.3h.1M258.3 539.3h.1M257.3 557.1h.1M256.4 540.7h.1M256.5 555.6h.1M255.0 540.7h.1M258.2 538.6h.1M253.3 549.8h.1M256.3 550.6h.1M255.0 556.1h.1M254.9 557.1h.1M255.7 547.7h.1M256.8 537.4h.1M256.1 542.2h.1M256.5 538.1h.1M255.7 545.5h.1M258.5 544.6h.1M257.4 550.5h.1M256.0 555.0h.1M257.6 538.4h.1M253.6 557.3h.1M255.6 546.1h.1M253.8 554.7h.1M256.1 548.1h.1M259.2 541.0h.1M257.4 554.0h.1M258.0 549.1h.1M258.3 540.4h.1M256.9 546.3h.1M255.9 539.8h.1M256.0 551.5h.1M252.9 547.7h.1M254.0 544.2h.1M256.7 558.1h.1M253.7 544.7h.1M255.0 558.3h.1M258.0 555.3h.1M253.1 553.9h.1M258.3 538.2h.1M255.4 548.5h.1M254.7 540.5h.1M254.8 548.6h.1M254.4 548.7h.1M258.7 547.9h.1M254.8 552.4h.1M259.1 545.0h.1M255.5 543.5h.1M257.7 551.6h.1M254.1 543.7h.1M255.8 555.9h.1M256.3 552.2h.1M253.9 556.2h.1M256.5 550.8h.1M254.4 549.8h.1M255.0 546.0h.1M259.1 547.4h.1M254.1 546.2h.1M253.7 552.9h.1M253.6 552.9h.1M256.0 546.5h.1M255.4 559.2h.1M257.3 541.9h.1M255.6 540.3h.1M255.9 557.7h.1M253.6 542.9h.1M253.3 548.8h.1M259.1 540.8h.1M258.5 546.4h.1M256.0 550.7h.1M259.1 550.6h.1M256.3 550.6h.1M255.5 540.5h.1M256.3 542.8h.1M256.6 543.0h.1M256.3 539.2h.1M256.8 544.2h.1M254.5 557.7h.1M253.3 555.6h.1M256.0 544.9h.1M255.2 548.6h.1M254.5 550.7h.1M256.8 557.3h.1M255.3 550.2h.1M253.6 548.6h.1M259.3 541.7h.1M254.6 545.4h.1M256.6 546.0h.1M259.1 550.2h.1M259.2 542.7h.1M254.2 549.1h.1M254.3 553.1h.1M255.3 556.1h.1M259.5 546.7h.1M256.6 546.7h.1M257.3 554.0h.1M255.8 557.7h.1M254.1 554.5h.1M258.1 548.4h.1M256.8 554.1h.1M256.3 556.2h.1M252.8 550.1h.1M255.0 548.9h.1M258.8 543.8h.1M255.4 554.1h.1M256.1 549.7h.1M255.6 559.2h.1M253.3 546.6h.1M258.2 545.4h.1M253.2 554.0h.1M256.7 553.8h.1M257.1 554.2h.1M257.4 544.8h.1M253.9 557.6h.1M254.5 546.3h.1M257.4 541.7h.1M258.3 546.5h.1M259.4 545.8h.1M255.4 546.5h.1M258.2 554.1h.1M257.8 538.1h.1M254.1 544.4h.1M257.9 545.0h.1M255.2 546.6h.1M258.6 550.7h.1M256.1 553.3h.1M256.5 549.8h.1M257.2 550.5h.1M258.2 549.0h.1M255.6 540.9h.1M254.9 545.7h.1M254.7 549.3h.1M257.1 544.9h.1M255.3 552.7h.1M252.6 552.4h.1M257.3 554.1h.1M255.9 538.7h.1M254.3 555.7h.1M253.7 551.9h.1M254.0 557.3h.1M252.5 550.3h.1M254.0 553.4h.1M256.4 546.6h.1M259.4 547.8h.1M256.7 551.6h.1M254.5 550.2h.1M255.2 551.1h.1M258.1 539.7h.1M254.3 549.9h.1M258.7 547.1h.1M257.9 550.3h.1M255.1 545.8h.1M255.2 556.8h.1M253.4 547.0h.1M259.0 542.0h.1M255.4 556.8h.1M258.6 542.0h.1M255.9 545.5h.1M256.6 538.9h.1M258.6 549.9h.1M258.1 552.4h.1M253.4 544.9h.1M254.1 543.6h.1M257.2 554.8h.1M256.0 555.4h.1M254.2 556.0h.1M258.0 548.1h.1M256.9 546.8h.1M253.0 550.2h.1M257.8 538.8h.1M256.5 542.7h.1M255.0 550.8h.1M254.8 544.8h.1M256.0 545.9h.1M254.8 551.0h.1M257.5 539.0h.1M254.7 557.9h.1M254.5 550.8h.1M259.4 545.0h.1M256.5 544.1h.1M254.7 547.0h.1M256.9 550.0h.1M252.7 553.1h.1M256.7 538.9h.1M254.1 558.1h.1M256.4 557.9h.1M255.5 539.8h.1M256.9 557.1h.1M255.3 540.1h.1M257.5 554.5h.1M253.9 552.8h.1M257.9 538.2h.1M257.4 544.2h.1M255.2 555.0h.1M254.0 543.1h.1M255.9 544.4h.1M256.2 556.4h.1M257.9 551.6h.1M255.9 552.1h.1M254.1 552.8h.1M257.2 554.0h.1M255.6 550.6h.1M255.3 552.0h.1M253.1 548.3h.1M254.5 556.8h.1M255.0 543.8h.1M253.0 554.8h.1M258.1 542.4h.1M258.0 542.9h.1M258.8 546.9h.1M258.6 549.1h.1M252.8 554.2h.1M255.3 549.4h.1M255.6 557.9h.1M255.7 549.3h.1M256.2 558.8h.1M258.8 549.4h.1M256.1 539.5h.1M254.4 541.4h.1M255.5 550.7h.1M253.3 548.6h.1M257.7 556.1h.1M255.8 548.3h.1M256.6 537.4h.1M257.9 554.1h.1M257.8 542.2h.1M252.9 550.0h.1M253.9 549.1h.1M257.7 545.6h.1M257.3 557.1h.1M255.3 553.9h.1M254.4 553.5h.1M253.5 548.1h.1M253.0 549.3h.1M253.7 548.5h.1M256.9 552.9h.1M255.1 551.7h.1M256.5 546.3h.1M255.0 547.6h.1M257.1 544.9h.1M257.0 553.9h.1M255.7 549.4h.1M258.7 543.7h.1M257.8 546.4h.1M256.9 556.9h.1M256.6 539.3h.1M252.9 546.1h.1M256.3 553.6h.1M253.5 554.1h.1M257.6 547.7h.1M257.2 539.6h.1M253.7 545.6h.1M256.3 546.5h.1M257.7 553.7h.1M257.1 552.1h.1M254.7 550.3h.1M253.2 557.4h.1M255.0 550.8h.1M257.1 553.5h.1M254.5 548.9h.1M255.3 543.1h.1M258.6 540.3h.1M254.0 547.4h.1M255.8 557.5h.1M254.5 548.6h.1M255.1 556.0h.1M255.1 551.4h.1M259.2 547.4h.1M252.7 552.7h.1M254.1 551.6h.1M259.3 545.3h.1M254.5 548.5h.1M254.2 550.1h.1M253.5 554.4h.1M255.1 546.6h.1M253.1 548.5h.1M252.8 556.2h.1M254.3 542.2h.1M253.4 553.1h.1M256.5 544.1h.1M256.3 550.1h.1M256.9 542.9h.1M258.5 542.6h.1M258.8 541.5h.1M254.4 542.8h.1M258.1 543.7h.1M258.3 552.0h.1M254.5 556.6h.1M253.4 556.6h.1M257.5 537.7h.1M255.4 547.4h.1M258.4 553.2h.1M253.4 545.8h.1M256.2 543.0h.1M255.4 547.6h.1M255.9 556.2h.1M257.4 550.5h.1M257.4 554.3h.1M255.6 539.4h.1M258.3 553.8h.1M253.9 549.2h.1M255.9 544.2h.1M252.9 553.4h.1M255.4 538.6h.1M255.7 544.4h.1M259.2 542.0h.1M256.4 543.4h.1M258.3 548.1h.1M255.2 548.2h.1M259.3 547.7h.1M256.0 555.4h.1M257.6 545.0h.1M255.5 554.7h.1M256.4 549.8h.1M258.1 541.9h.1M252.9 548.2h.1M255.4 556.2h.1M255.3 558.1h.1M253.7 553.3h.1M253.7 548.2h.1M257.8 539.2h.1M254.2 556.7h.1M259.4 548.6h.1M252.6 552.0h.1M257.8 546.6h.1M254.4 549.0h.1M257.0 542.4h.1M253.2 554.6h.1M255.0 558.2h.1M255.2 545.4h.1M256.8 555.0h.1M255.5 559.3h.1M257.4 547.8h.1M253.9 558.3h.1M255.8 552.7h.1M252.6 548.8h.1M255.1 556.8h.1M254.1 550.5h.1M256.5 554.7h.1M257.3 548.4h.1M254.6 541.8h.1M256.2 555.6h.1M253.7 551.6h.1M256.2 558.3h.1M256.3 557.1h.1M254.0 545.7h.1M259.4 546.1h.1M253.3 552.5h.1M257.0 554.8h.1M258.5 553.1h.1M254.9 547.9h.1M253.4 546.1h.1M255.4 545.0h.1M255.8 545.1h.1M254.4 552.4h.1M255.6 557.1h.1M257.2 554.7h.1M257.2 542.7h.1M253.9 551.1h.1M257.6 541.8h.1M257.5 543.5h.1M256.6 549.8h.1M258.5 545.8h.1M254.6 556.2h.1M258.4 549.6h.1M255.8 546.0h.1M253.4 546.4h.1M252.8 547.4h.1M256.5 537.4h.1M256.7 545.6h.1M255.8 557.0h.1M259.0 545.8h.1M255.4 558.9h.1M255.3 540.7h.1M259.1 549.2h.1M253.3 556.5h.1M259.1 543.8h.1M256.8 545.6h.1M259.3 543.2h.1M255.7 554.2h.1M255.2 556.8h.1M255.0 548.6h.1M255.1 555.8h.1M256.6 547.6h.1M254.0 558.6h.1M256.8 537.8h.1M257.9 545.3h.1M258.0 539.9h.1M254.0 544.5h.1M254.2 548.3h.1M257.2 550.5h.1M254.7 556.1h.1M255.8 540.8h.1M258.4 548.5h.1M252.7 552.2h.1M255.3 550.0h.1M257.4 551.9h.1M259.4 545.3h.1M253.4 554.1h.1M258.8 551.5h.1M253.5 549.4h.1M254.3 547.2h.1M259.3 542.8h.1M258.8 552.1h.1M257.5 541.1h.1M254.5 557.2h.1M256.1 557.8h.1M256.9 557.9h.1M255.2 543.2h.1M257.6 546.1h.1M254.4 543.6h.1M254.7 545.5h.1M255.3 559.0h.1M255.1 559.1h.1M257.7 550.0h.1M257.0 540.5h.1M256.7 544.2h.1M253.1 547.8h.1M256.7 540.1h.1M258.9 547.6h.1M254.5 551.1h.1M253.5 546.7h.1M257.2 540.5h.1M258.1 551.7h.1M258.2 550.9h.1M256.6 547.3h.1M254.8 548.4h.1M256.4 542.2h.1M253.0 556.8h.1M258.6 549.5h.1M257.0 549.4h.1M258.3 552.3h.1M258.1 553.0h.1M256.3 558.6h.1M257.2 542.9h.1M257.7 554.5h.1M254.4 547.7h.1M253.1 554.1h.1M257.1 552.8h.1M255.1 540.0h.1M256.4 547.3h.1M253.3 557.5h.1M257.1 546.6h.1M258.1 541.8h.1M258.7 540.2h.1M256.2 551.8h.1M254.1 558.8h.1M254.6 542.2h.1M258.4 545.6h.1M255.2 548.7h.1M255.8 539.7h.1M255.1 545.5h.1M256.0 538.0h.1M257.1 557.4h.1M253.1 553.5h.1M256.8 554.5h.1M258.4 545.9h.1M254.2 555.6h.1M257.7 547.4h.1M255.4 550.8h.1M256.4 550.6h.1M258.6 539.0h.1M253.4 551.6h.1M256.8 557.1h.1M254.0 549.0h.1M253.4 551.9h.1M253.3 557.6h.1M257.4 554.9h.1M257.7 545.2h.1M258.5 542.2h.1M258.0 538.6h.1M255.4 548.1h.1M258.7 541.4h.1M256.8 555.4h.1M251.8 561.3h.1M255.8 550.0h.1M260.6 545.3h.1M257.7 555.9h.1M259.4 554.6h.1M254.6 551.8h.1M252.7 542.1h.1M255.3 546.7h.1M254.7 544.0h.1M260.0 537.2h.1M257.3 539.2h.1M256.8 542.3h.1M252.0 537.1h.1M258.7 555.1h.1M255.4 547.6h.1M256.8 537.5h.1M257.5 567.6h.1M255.0 537.8h.1M254.7 549.2h.1M255.3 560.6h.1M257.5 543.6h.1M256.6 545.0h.1M254.2 559.8h.1M255.6 544.7h.1M259.3 544.5h.1M258.4 529.1h.1M257.6 539.8h.1M255.1 555.0h.1M260.1 530.4h.1M259.1 544.5h.1M254.9 556.1h.1M255.7 544.7h.1M255.5 547.2h.1M254.8 556.4h.1M259.9 540.0h.1M254.5 548.4h.1M254.2 550.1h.1M256.4 548.1h.1M254.3 551.4h.1M253.0 547.5h.1M255.7 548.9h.1M257.9 546.0h.1M253.7 552.6h.1M255.7 553.8h.1M259.8 556.4h.1M255.9 541.7h.1M256.5 546.8h.1M254.3 539.1h.1M258.7 540.1h.1M258.4 554.1h.1M253.8 552.4h.1M255.8 538.6h.1M254.5 550.1h.1M258.2 542.1h.1M255.5 555.7h.1M255.0 544.3h.1M252.4 553.4h.1M254.4 542.8h.1M254.9 543.9h.1M262.8 540.6h.1M257.8 538.6h.1M258.0 549.6h.1M255.1 564.0h.1M253.8 542.3h.1M249.3 536.5h.1M254.3 548.9h.1M257.8 546.7h.1M254.2 542.8h.1M259.8 543.0h.1M260.0 545.3h.1M255.1 546.3h.1M257.1 553.1h.1M255.1 552.3h.1M253.0 539.0h.1M252.3 547.3h.1M254.4 554.0h.1M255.2 545.9h.1M255.3 538.8h.1M253.1 563.1h.1M257.3 537.7h.1M253.1 552.4h.1M250.9 535.7h.1M254.9 545.0h.1M257.8 540.0h.1M253.0 553.0h.1M253.7 550.6h.1M251.6 548.3h.1M260.2 536.1h.1M255.8 547.6h.1M256.3 547.1h.1M257.7 542.7h.1M253.8 550.9h.1M256.5 535.7h.1M257.7 544.7h.1M258.2 547.0h.1M253.1 547.5h.1M257.6 554.4h.1M255.6 552.9h.1M259.0 548.5h.1M259.3 550.8h.1M253.8 541.2h.1M254.1 561.1h.1M258.7 540.6h.1M255.9 562.4h.1M254.1 549.6h.1M255.2 554.6h.1M251.6 553.2h.1M256.4 555.9h.1M257.0 550.4h.1M253.8 551.6h.1M254.8 561.3h.1M256.7 548.2h.1M256.3 548.7h.1M255.1 553.3h.1M256.0 542.4h.1M258.1 552.3h.1M258.6 544.1h.1M258.2 557.4h.1M257.5 550.2h.1M255.9 537.9h.1M253.6 549.4h.1M258.4 550.6h.1M254.8 550.6h.1M255.7 543.7h.1M255.9 554.3h.1M253.4 547.2h.1M255.9 541.6h.1M253.9 552.8h.1M261.0 546.1h.1M254.8 559.9h.1M256.3 535.5h.1M254.7 536.1h.1M255.3 558.8h.1M260.7 567.9h.1M258.3 544.9h.1M254.5 546.7h.1M253.5 543.6h.1M256.8 548.9h.1M256.5 547.1h.1M252.6 554.3h.1M256.1 553.9h.1M256.4 541.5h.1M258.2 552.5h.1M255.4 553.7h.1M257.0 544.7h.1M256.5 543.1h.1M259.1 543.7h.1M258.2 559.4h.1M256.2 553.0h.1M259.4 533.8h.1M260.9 549.7h.1M253.2 551.3h.1M261.0 546.3h.1M259.2 553.8h.1M254.6 551.9h.1M260.0 540.9h.1M256.3 544.7h.1M254.8 547.9h.1M251.1 547.2h.1M252.1 544.4h.1M254.7 556.3h.1M253.5 556.0h.1M255.1 543.9h.1M252.1 551.9h.1M255.8 554.0h.1M254.6 535.4h.1M257.3 556.9h.1M256.1 549.4h.1M257.2 549.7h.1M262.0 544.4h.1M257.2 554.0h.1M257.3 536.4h.1M256.9 545.8h.1M253.7 556.2h.1M254.5 552.2h.1M254.4 553.6h.1M259.1 541.1h.1M254.2 556.0h.1M254.0 557.0h.1M256.9 542.0h.1M254.7 558.3h.1M258.0 548.5h.1M256.5 555.7h.1M254.6 551.8h.1M257.1 557.0h.1M255.2 547.9h.1M256.6 546.8h.1M255.5 552.7h.1M254.9 547.5h.1M256.6 549.1h.1M255.2 548.6h.1M253.3 545.3h.1M254.4 542.3h.1M259.5 560.8h.1M255.5 548.4h.1M255.7 546.4h.1M254.7 555.5h.1M257.2 539.3h.1M256.5 542.8h.1M257.5 542.7h.1M256.7 543.3h.1M255.6 551.4h.1M257.6 538.5h.1M254.8 543.9h.1M252.1 552.6h.1M255.5 547.0h.1M254.2 561.7h.1M254.0 532.3h.1M255.2 551.1h.1M253.6 549.2h.1M250.7 550.0h.1M256.2 542.2h.1M253.5 543.0h.1M254.8 556.4h.1M256.2 544.3h.1M254.9 554.5h.1M254.5 543.5h.1M257.8 547.5h.1M259.0 545.2h.1M255.3 551.9h.1M256.5 548.6h.1M253.8 545.4h.1M254.3 546.3h.1M258.9 540.8h.1M257.1 550.9h.1M252.5 557.5h.1M256.5 550.8h.1M256.5 555.0h.1M256.9 543.7h.1M254.6 543.7h.1M254.2 543.9h.1M256.5 554.8h.1M255.5 555.8h.1M258.6 551.6h.1M252.3 533.5h.1M258.5 550.4h.1M252.8 545.5h.1M256.5 548.1h.1M253.1 550.0h.1M252.6 548.9h.1M257.4 549.5h.1M254.7 553.6h.1M260.4 544.0h.1M256.3 538.8h.1M257.8 536.7h.1M255.5 555.0h.1M257.4 525.9h.1M254.1 533.4h.1M255.3 539.1h.1M261.1 553.5h.1M253.7 547.8h.1M256.1 555.0h.1M259.2 551.1h.1M253.1 529.1h.1M252.5 542.8h.1M257.8 538.5h.1M258.9 552.1h.1M256.2 554.0h.1M254.4 556.5h.1M256.2 544.4h.1M254.2 535.6h.1M255.2 552.5h.1M255.1 546.0h.1M259.9 565.5h.1M252.9 558.7h.1M255.9 548.4h.1M254.1 547.8h.1M256.7 550.9h.1M254.7 545.7h.1M257.5 557.7h.1M255.0 552.6h.1M257.7 549.9h.1M253.9 549.9h.1M256.2 540.9h.1M256.1 548.3h.1M254.4 560.5h.1M256.7 542.3h.1M258.7 544.9h.1M253.7 541.8h.1M258.5 539.1h.1M256.8 551.2h.1M254.7 554.3h.1M258.4 546.6h.1M256.0 553.0h.1M256.2 557.3h.1M257.8 548.0h.1M256.5 545.5h.1M257.5 542.7h.1M255.9 540.1h.1M261.5 547.2h.1M256.1 551.6h.1M252.2 560.5h.1M252.2 554.9h.1M255.1 554.1h.1M257.5 549.4h.1M258.3 545.0h.1M256.6 546.0h.1M254.4 542.1h.1M256.9 559.5h.1M254.1 546.3h.1M254.4 552.1h.1M251.4 552.3h.1M254.3 542.7h.1M256.6 549.5h.1M256.7 556.3h.1M252.8 557.9h.1M257.3 564.2h.1M259.2 550.1h.1M251.5 552.8h.1M259.5 552.0h.1M255.8 540.2h.1M256.1 538.5h.1M254.2 546.8h.1M257.0 543.6h.1M255.9 548.4h.1M256.6 552.2h.1M257.1 545.9h.1M256.4 544.0h.1M253.2 546.2h.1M256.0 534.7h.1M257.8 549.8h.1M252.4 543.6h.1M254.0 534.2h.1M252.0 553.7h.1M251.4 566.1h.1M259.3 557.1h.1M257.2 555.7h.1M259.1 540.0h.1M259.7 540.9h.1M255.2 531.0h.1M255.3 537.2h.1M261.3 547.9h.1M258.1 543.9h.1M258.2 550.9h.1M255.1 552.7h.1M255.0 540.2h.1M251.3 540.1h.1M257.4 561.0h.1M254.9 544.9h.1M259.1 545.6h.1M256.8 548.1h.1M250.3 542.5h.1M256.7 548.7h.1M255.4 539.7h.1M256.3 546.3h.1M253.7 548.2h.1M256.6 562.8h.1M258.6 540.7h.1M257.9 536.6h.1M250.5 546.3h.1M260.5 550.8h.1M254.4 552.2h.1M251.1 550.0h.1M253.7 541.1h.1M255.1 543.4h.1M256.8 539.3h.1M256.9 551.0h.1M257.9 551.7h.1M257.6 554.7h.1M259.0 554.0h.1M258.8 537.7h.1M255.4 558.9h.1M254.6 554.4h.1M258.5 556.2h.1M254.6 550.9h.1M255.7 553.1h.1M251.5 550.6h.1M258.8 546.7h.1M258.4 556.9h.1M256.4 545.3h.1M254.7 540.9h.1M255.0 547.7h.1M258.3 542.4h.1M254.4 549.0h.1" stroke="#ff1414" stroke-opacity="0.85" stroke-width="1.45" stroke-linecap="round" fill="none" filter="url(#sb)"/>
<line x1="224.70" y1="518.40" x2="224.70" y2="573.30" stroke="#3a3a3a" stroke-width="1.0"/>
<line x1="224.70" y1="573.30" x2="285.70" y2="573.30" stroke="#5a5a5a" stroke-width="1.0"/>
<line x1="244.00" y1="518.40" x2="244.00" y2="573.30" stroke="#a0a0a0" stroke-width="1.0"/>
<line x1="224.70" y1="552.10" x2="285.70" y2="552.10" stroke="#a0a0a0" stroke-width="1.0"/>
<text x="213.9" y="525.9" font-size="4.4" font-weight="bold" fill="#333">10<tspan font-size="3.6" dx="0.4" dy="-2.4">5</tspan></text>
<text x="213.9" y="539.8" font-size="4.4" font-weight="bold" fill="#333">10<tspan font-size="3.6" dx="0.4" dy="-2.4">4</tspan></text>
<text x="213.9" y="553.3" font-size="4.4" font-weight="bold" fill="#333">10<tspan font-size="3.6" dx="0.4" dy="-2.4">3</tspan></text>
<text x="213.9" y="567.7" font-size="4.4" font-weight="bold" fill="#333">10<tspan font-size="3.6" dx="0.4" dy="-2.4">2</tspan></text>
<text x="226.1" y="581.5" font-size="4.6" font-weight="bold" fill="#333">10<tspan font-size="3.8" dx="0.5" dy="-3">1</tspan></text>
<text x="237.3" y="581.5" font-size="4.6" font-weight="bold" fill="#333">10<tspan font-size="3.8" dx="0.5" dy="-3">2</tspan></text>
<text x="250.3" y="581.5" font-size="4.6" font-weight="bold" fill="#333">10<tspan font-size="3.8" dx="0.5" dy="-3">3</tspan></text>
<text x="263.2" y="581.5" font-size="4.6" font-weight="bold" fill="#333">10<tspan font-size="3.8" dx="0.5" dy="-3">4</tspan></text>
<text x="276.2" y="581.5" font-size="4.6" font-weight="bold" fill="#333">10<tspan font-size="3.8" dx="0.5" dy="-3">5</tspan></text>
<path d="M232.40,585.40L238.60,585.40L235.50,581.00Z" fill="#ee2020"/>
<text x="223.88" y="596.50" font-size="12.20" font-weight="bold" fill="#111">7.08%</text>
<text x="80.38" y="421.60" font-size="12.30" font-weight="bold" fill="#111">DMSO</text>
<text x="146.14" y="418.20" font-size="12.35" font-weight="bold" fill="#111">Sorafenib</text>
<text x="230.94" y="418.30" font-size="12.35" font-weight="bold" fill="#111">Sorafenib</text>
<text x="156.22" y="432.90" font-size="12.60" fill="#111">(4 µM)</text>
<text x="240.52" y="433.00" font-size="12.60" fill="#111">(8 µM)</text>
<text x="0.59" y="470.30" font-size="12.10" font-weight="bold" fill="#111">MOCK</text>
<text x="6.0" y="546" font-size="12.7" font-weight="bold" fill="#111">GS<tspan font-size="9.8" dy="3.6">OE</tspan></text>
<line x1="298.70" y1="577.40" x2="298.70" y2="447.00" stroke="#111" stroke-width="1.3"/>
<path d="M295.4,449.6L302,449.6L298.7,442.0Z" fill="#111"/>
<text transform="translate(313.30,503.00) rotate(-90)" x="-45.77" y="0" font-size="12.30" font-weight="bold" fill="#111">Annexin V-FITC</text>
<line x1="52.00" y1="605.10" x2="286.00" y2="605.10" stroke="#111" stroke-width="1.3"/>
<path d="M284.2,601.8L284.2,608.4L291.4,605.1Z" fill="#111"/>
<text x="146.87" y="618.40" font-size="12.45" font-weight="bold" fill="#111">PI staining</text>
<line x1="382.20" y1="460.60" x2="382.20" y2="578.20" stroke="#222" stroke-width="1.3"/>
<line x1="381.60" y1="577.70" x2="542.00" y2="577.70" stroke="#222" stroke-width="1.3"/>
<line x1="379.90" y1="577.70" x2="382.20" y2="577.70" stroke="#222" stroke-width="1.1"/>
<text x="369.11" y="581.40" font-size="11.40" fill="#111">0</text>
<line x1="379.90" y1="554.48" x2="382.20" y2="554.48" stroke="#222" stroke-width="1.1"/>
<text x="362.77" y="558.18" font-size="11.40" fill="#111">20</text>
<line x1="379.90" y1="531.26" x2="382.20" y2="531.26" stroke="#222" stroke-width="1.1"/>
<text x="362.77" y="534.96" font-size="11.40" fill="#111">40</text>
<line x1="379.90" y1="508.04" x2="382.20" y2="508.04" stroke="#222" stroke-width="1.1"/>
<text x="362.77" y="511.74" font-size="11.40" fill="#111">60</text>
<line x1="379.90" y1="484.82" x2="382.20" y2="484.82" stroke="#222" stroke-width="1.1"/>
<text x="362.77" y="488.52" font-size="11.40" fill="#111">80</text>
<line x1="379.90" y1="461.60" x2="382.20" y2="461.60" stroke="#222" stroke-width="1.1"/>
<text x="356.42" y="465.30" font-size="11.40" fill="#111">100</text>
<text transform="translate(344.80,521.20) rotate(-90)" x="-59.69" y="0" font-size="13.30" font-weight="bold" fill="#111">Apoptotic cells (%)</text>
<rect x="394.20" y="421.50" width="14.40" height="12.80" fill="#1c1cff"/>
<rect x="394.20" y="438.60" width="14.40" height="13.40" fill="#ff2a00"/>
<text x="413.40" y="432.50" font-size="10.50" font-weight="bold" fill="#111">MOCK</text>
<text x="414.7" y="449.1" font-size="10.5" font-weight="bold" fill="#111">GS<tspan font-size="9.6" dy="3.3">OE</tspan></text>
<rect x="387.80" y="575.84" width="16.90" height="1.86" fill="#1c1cff"/>
<line x1="396.25" y1="575.84" x2="396.25" y2="575.24" stroke="#444" stroke-width="1.0"/>
<line x1="391.05" y1="575.24" x2="401.45" y2="575.24" stroke="#444" stroke-width="1.1"/>
<rect x="405.20" y="573.40" width="17.60" height="4.30" fill="#ff2a00"/>
<line x1="414.00" y1="573.40" x2="414.00" y2="571.40" stroke="#444" stroke-width="1.0"/>
<line x1="408.80" y1="571.40" x2="419.20" y2="571.40" stroke="#444" stroke-width="1.1"/>
<rect x="439.20" y="557.73" width="17.00" height="19.97" fill="#1c1cff"/>
<line x1="447.70" y1="557.73" x2="447.70" y2="555.63" stroke="#444" stroke-width="1.0"/>
<line x1="442.50" y1="555.63" x2="452.90" y2="555.63" stroke="#444" stroke-width="1.1"/>
<rect x="456.20" y="517.10" width="17.50" height="60.60" fill="#ff2a00"/>
<line x1="464.95" y1="517.10" x2="464.95" y2="512.30" stroke="#444" stroke-width="1.0"/>
<line x1="459.75" y1="512.30" x2="470.15" y2="512.30" stroke="#444" stroke-width="1.1"/>
<rect x="491.50" y="517.33" width="17.00" height="60.37" fill="#1c1cff"/>
<line x1="500.00" y1="517.33" x2="500.00" y2="509.43" stroke="#444" stroke-width="1.0"/>
<line x1="494.80" y1="509.43" x2="505.20" y2="509.43" stroke="#444" stroke-width="1.1"/>
<rect x="508.50" y="472.63" width="17.50" height="105.07" fill="#ff2a00"/>
<line x1="517.25" y1="472.63" x2="517.25" y2="468.33" stroke="#444" stroke-width="1.0"/>
<line x1="512.05" y1="468.33" x2="522.45" y2="468.33" stroke="#444" stroke-width="1.1"/>
<path d="M447.5,534.6V494H464.8V505.8" fill="none" stroke="#a8a8a8" stroke-width="1"/>
<text x="453.55" y="492.00" font-size="11.50" font-weight="bold" fill="#111">*</text>
<path d="M499.4,491.5V451.4H516.6V462.9" fill="none" stroke="#a8a8a8" stroke-width="1"/>
<text x="506.35" y="449.50" font-size="11.50" font-weight="bold" fill="#111">*</text>
<text x="389.49" y="591.70" font-size="10.60" font-weight="bold" fill="#111">DMSO</text>
<text x="432.09" y="592.20" font-size="10.70" font-weight="bold" fill="#111">Sorafenib</text>
<text x="486.29" y="592.20" font-size="10.70" font-weight="bold" fill="#111">Sorafenib</text>
<text x="440.12" y="604.50" font-size="11.00" fill="#333">(4 µM)</text>
<text x="495.02" y="604.50" font-size="11.00" fill="#333">(8 µM)</text>
</svg></body></html>
